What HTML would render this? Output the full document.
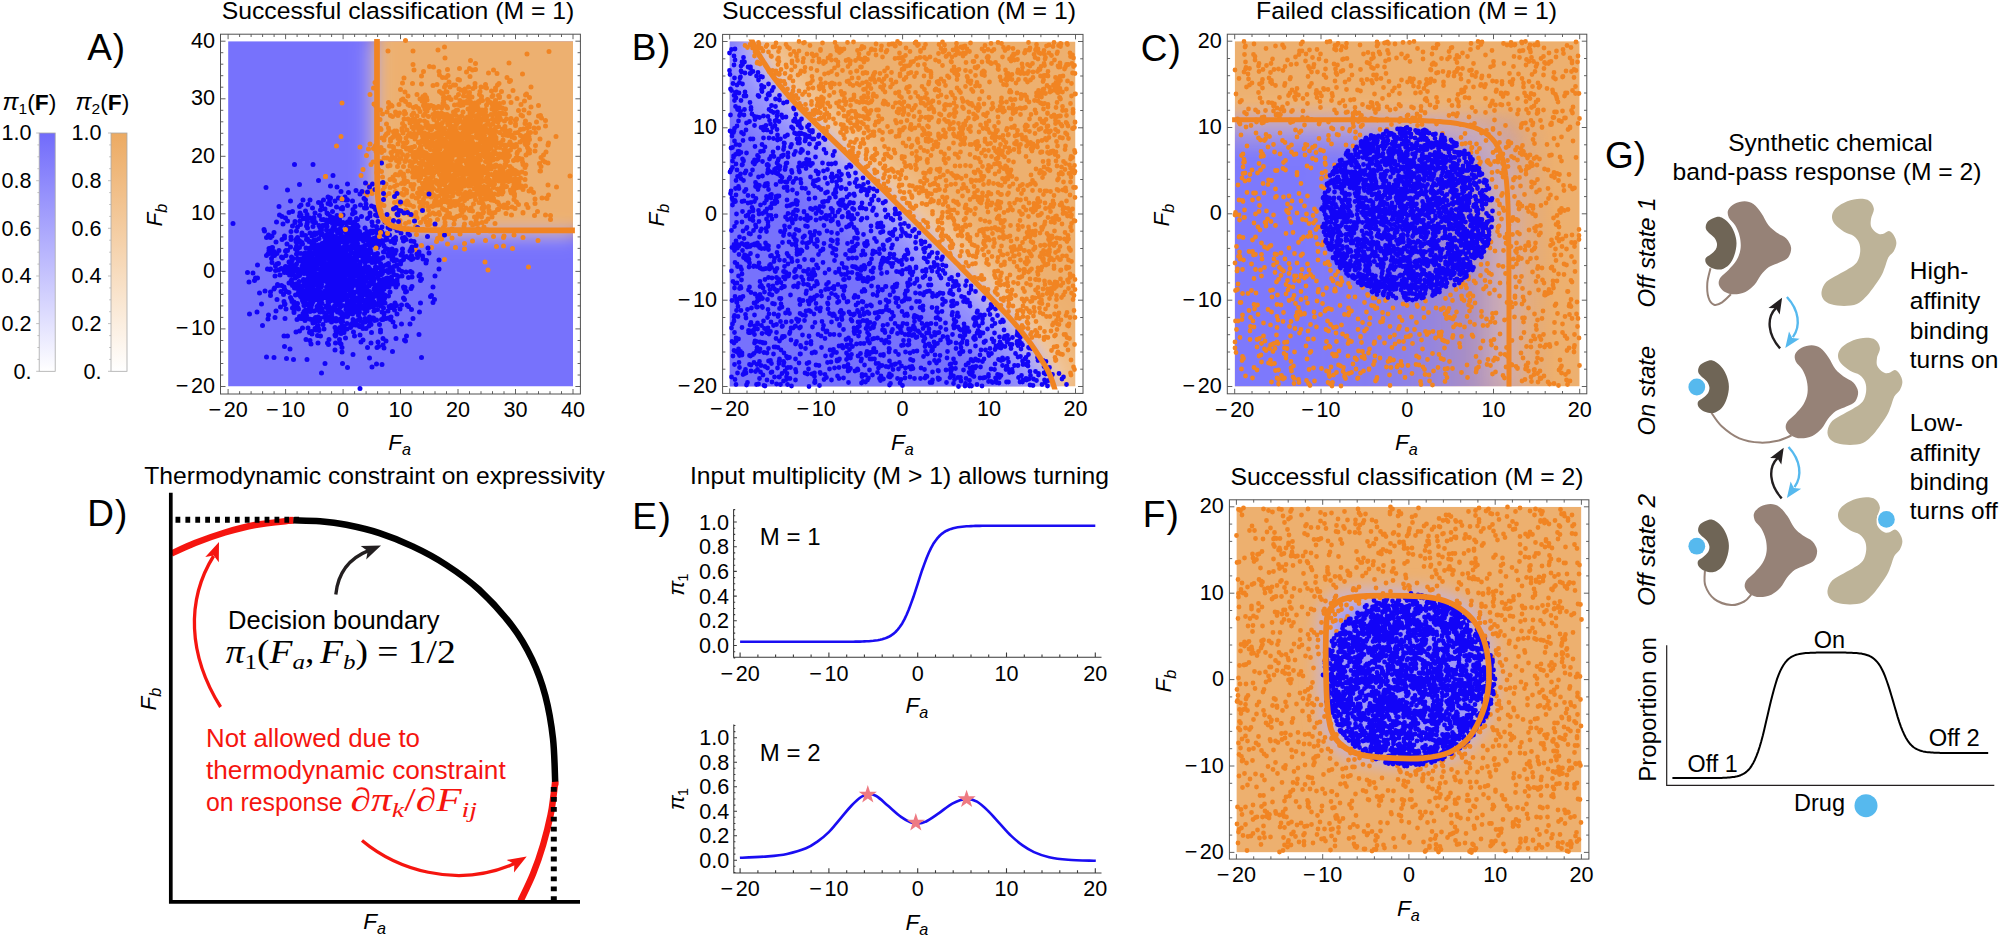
<!DOCTYPE html>
<html lang="en"><head><meta charset="utf-8"><title>Figure</title><style>html,body{margin:0;padding:0;background:#fff;overflow:hidden}svg{display:block}</style></head><body>
<svg width="2000" height="935" viewBox="0 0 2000 935" font-family='"Liberation Sans", sans-serif'><defs><filter id="b3" x="-20%" y="-20%" width="140%" height="140%"><feGaussianBlur stdDeviation="3"/></filter><filter id="b5" x="-20%" y="-20%" width="140%" height="140%"><feGaussianBlur stdDeviation="5"/></filter><filter id="b8" x="-20%" y="-20%" width="140%" height="140%"><feGaussianBlur stdDeviation="8"/></filter><filter id="b12" x="-20%" y="-20%" width="140%" height="140%"><feGaussianBlur stdDeviation="12"/></filter><clipPath id="cA"><rect x="228.1" y="41.2" width="344.9" height="345.3"/></clipPath><linearGradient id="gb" x1="0" y1="0" x2="0" y2="1"><stop offset="0" stop-color="#716bfb"/><stop offset="1" stop-color="#fff"/></linearGradient><linearGradient id="go" x1="0" y1="0" x2="0" y2="1"><stop offset="0" stop-color="#ecaa62"/><stop offset="1" stop-color="#fff"/></linearGradient><clipPath id="cB"><rect x="729.7" y="41.5" width="345.8" height="345"/></clipPath><clipPath id="cBl"><rect x="724.7" y="39.5" width="355.8" height="350"/></clipPath><clipPath id="cC"><rect x="1234.7" y="41.2" width="345" height="345.3"/></clipPath><linearGradient id="gCx" gradientUnits="userSpaceOnUse" x1="1303.7" y1="0" x2="1553.8" y2="0"><stop offset="0.000" stop-color="#ffffff"/><stop offset="0.276" stop-color="#ededed"/><stop offset="0.517" stop-color="#c7c7c7"/><stop offset="0.690" stop-color="#8f8f8f"/><stop offset="0.821" stop-color="#545454"/><stop offset="0.897" stop-color="#1a1a1a"/><stop offset="1.000" stop-color="#000000"/></linearGradient><linearGradient id="gCy" gradientUnits="userSpaceOnUse" x1="0" y1="157.7" x2="0" y2="101.6"><stop offset="0.000" stop-color="#ffffff"/><stop offset="0.385" stop-color="#cccccc"/><stop offset="0.677" stop-color="#6b6b6b"/><stop offset="0.846" stop-color="#1f1f1f"/><stop offset="1.000" stop-color="#000000"/></linearGradient><mask id="mCx" maskUnits="userSpaceOnUse" x="1200" y="0" width="420" height="420"><rect x="1200" y="0" width="420" height="420" fill="url(#gCx)"/></mask><mask id="mCy" maskUnits="userSpaceOnUse" x="1200" y="0" width="420" height="420"><rect x="1200" y="0" width="420" height="420" fill="url(#gCy)"/></mask><clipPath id="cF"><rect x="1236.4" y="506.8" width="345" height="345.6"/></clipPath><path id="sD" d="M1716.5 217C1719 216.4 1720.8 217.1 1722.9 218.2C1725 219.4 1727.4 221.4 1729.3 223.7C1731.2 226 1732.9 228.8 1734.1 232C1735.3 235.3 1736.5 239.1 1736.5 243C1736.6 246.8 1735.7 251.4 1734.4 255C1733.2 258.6 1731.5 262.2 1729.3 264.6C1727.1 267 1724.1 268.8 1721.3 269.4C1718.5 270 1715 269.2 1712.5 268.3C1710 267.4 1707.5 265.5 1706.4 263.8C1705.2 262.1 1704.9 259.7 1705.6 258.2C1706.3 256.6 1708.9 256 1710.5 254.5C1712.2 253 1714.6 251.2 1715.7 249.4C1716.7 247.6 1717.2 245.7 1717 243.8C1716.7 241.8 1715.8 239.7 1714.4 237.8C1713 235.9 1709.9 234.2 1708.5 232.5C1707 230.8 1705.8 229.6 1705.7 227.7C1705.6 225.8 1706.2 223.1 1708 221.3C1709.8 219.5 1714 217.5 1716.5 217Z"/><path id="sM" d="M1744.6 201.2C1747.7 201.3 1750.6 202.1 1753.4 204.1C1756.2 206.1 1758.9 209.8 1761.4 213.3C1763.9 216.7 1765.8 221.8 1768.3 225C1770.8 228.2 1773.7 230.3 1776.6 232.5C1779.6 234.8 1783.9 235.9 1786.3 238.5C1788.7 241 1790.8 244.6 1791.1 247.8C1791.4 250.9 1790.1 255 1788.2 257.4C1786.3 259.8 1783.1 260.6 1779.9 262.2C1776.6 263.8 1772.1 264.9 1768.9 267C1765.8 269.2 1763.3 272.1 1760.9 275C1758.5 278 1757.1 281.9 1754.5 284.7C1751.9 287.5 1748.8 290.3 1745.4 291.9C1741.9 293.5 1737.2 294.4 1733.6 294.3C1730.1 294.2 1726.5 293 1724 291.4C1721.6 289.8 1719.5 287 1718.9 284.7C1718.3 282.3 1718.9 279.9 1720.5 277.5C1722.1 275 1725.8 272.8 1728.5 269.9C1731.2 267 1734.5 263.8 1736.5 260.3C1738.5 256.8 1740 253 1740.5 249.1C1741.1 245.1 1740.6 240.4 1739.7 236.5C1738.9 232.6 1737.1 228.8 1735.3 225.6C1733.4 222.5 1730 220.2 1728.8 217.6C1727.7 215 1727.2 212.4 1728.2 210.1C1729.2 207.8 1731.9 205.3 1734.6 203.8C1737.3 202.3 1741.4 201.2 1744.6 201.2Z"/><path id="sT" d="M1860.1 198.8C1863.8 198.8 1867.1 199.2 1869.4 200.9C1871.7 202.6 1873.6 205.9 1873.9 208.9C1874.2 211.9 1871.4 215.9 1871 218.9C1870.6 221.9 1870.3 224.6 1871.3 226.9C1872.3 229.3 1875.1 231.8 1876.9 233C1878.8 234.2 1880.5 234.4 1882.6 234.1C1884.6 233.8 1887.1 230.9 1889 231.1C1890.8 231.3 1892.6 233.3 1893.8 235.3C1895 237.2 1896.4 240.3 1896.4 243C1896.4 245.6 1895.1 248.9 1893.8 251.3C1892.4 253.7 1889.8 254.8 1888.3 257.4C1886.9 260 1886.2 263.8 1885 267C1883.7 270.2 1883 273.1 1880.9 276.6C1878.9 280.2 1875.6 284.7 1872.9 288.2C1870.3 291.7 1867.6 295.2 1864.9 297.8C1862.2 300.5 1860.4 302.6 1856.9 303.9C1853.4 305.3 1848.3 305.8 1844 305.9C1839.8 305.9 1834.6 305.3 1831.2 304.2C1827.8 303.2 1825.1 301.6 1823.5 299.4C1821.9 297.3 1821.1 294.4 1821.6 291.4C1822.1 288.5 1823.7 284.5 1826.4 281.8C1829.1 279.1 1833.9 277.2 1837.6 275C1841.4 272.9 1845.6 270.8 1848.9 268.6C1852.1 266.5 1855 264.9 1856.9 262.2C1858.8 259.5 1859.7 255.8 1860.1 252.6C1860.5 249.4 1860.2 245.7 1859.1 243C1858.1 240.2 1856.2 237.8 1853.7 235.9C1851.2 234 1847.2 233.7 1844 231.7C1840.9 229.7 1836.7 226.6 1834.7 224C1832.7 221.4 1831.8 218.7 1832 216C1832.2 213.3 1833.5 210.4 1836 208C1838.6 205.5 1843.2 202.8 1847.3 201.2C1851.3 199.7 1856.4 198.9 1860.1 198.8Z"/></defs><text x="398" y="18.8" font-size="24.5" text-anchor="middle" textLength="352.5" lengthAdjust="spacingAndGlyphs">Successful classification (M = 1)</text>
<text x="87.2" y="59.8" font-size="37" letter-spacing="1">A)</text>
<g clip-path="url(#cA)">
<rect x="228.1" y="41.2" width="344.9" height="345.3" fill="#7772fc"/>
<path d="M375 1.2L375 41.1L375 43.6L375 46.1L375 48.7L375 51.2L375 53.7L375 56.3L375 58.8L375 61.3L375 63.9L375 66.4L375 68.9L375 71.5L375 74L375 76.5L375 79.1L375 81.6L375 84.1L375 86.7L375 89.2L375 91.7L375 94.2L375 96.8L375 99.3L375 101.8L375 104.4L375 106.9L375 109.4L375 112L375 114.5L375 117L375 119.6L375 122.1L375 124.6L375 127.2L375 129.7L375 132.2L375 134.8L375 137.3L375 139.8L375 142.3L375 144.9L375 147.4L375 149.9L375 152.5L375 155L375 157.5L375 160L375 162.6L375 165.1L375.1 167.6L375.1 170.1L375.1 172.6L375.1 175.1L375.2 177.6L375.2 180.1L375.2 182.6L375.3 185.1L375.4 187.6L375.4 190L375.5 192.4L375.7 194.9L375.8 197.2L376 199.6L376.2 201.9L376.4 204.2L376.7 206.4L377.1 208.6L377.5 210.7L378 212.7L378.6 214.7L379.3 216.5L380.1 218.3L381 219.9L382 221.4L383.1 222.8L384.4 224.1L385.8 225.2L387.3 226.2L388.9 227.1L390.7 227.9L392.5 228.6L394.5 229.2L396.5 229.7L398.6 230.1L400.8 230.5L403 230.8L405.3 231L407.6 231.3L409.9 231.4L412.3 231.6L414.7 231.7L417.2 231.8L419.6 231.9L422.1 231.9L424.6 232L427 232L429.5 232.1L432 232.1L434.5 232.1L437 232.2L439.6 232.2L442.1 232.2L444.6 232.2L447.1 232.2L449.6 232.2L452.2 232.2L454.7 232.2L457.2 232.2L459.7 232.2L462.3 232.2L464.8 232.2L467.3 232.2L469.8 232.2L472.4 232.2L474.9 232.2L477.4 232.2L479.9 232.2L482.5 232.2L485 232.2L487.5 232.3L490.1 232.3L492.6 232.3L495.1 232.3L497.7 232.3L500.2 232.3L502.7 232.3L505.2 232.3L507.8 232.3L510.3 232.3L512.8 232.3L515.4 232.3L517.9 232.3L520.4 232.3L522.9 232.3L525.5 232.3L528 232.3L530.5 232.3L533.1 232.3L535.6 232.3L538.1 232.3L540.6 232.3L543.2 232.3L545.7 232.3L548.2 232.3L550.8 232.3L553.3 232.3L555.8 232.3L558.4 232.3L560.9 232.3L563.4 232.3L565.9 232.3L568.5 232.3L571 232.3L573.5 232.3L613 232.3L613 1.2Z" fill="#edb06f" filter="url(#b8)"/>
<path d="M377 39.1L377 41.6L377 44.1L377 46.7L377 49.2L377 51.7L377 54.3L377 56.8L377 59.3L377 61.9L377 64.4L377 66.9L377 69.5L377 72L377 74.5L377 77.1L377 79.6L377 82.1L377 84.7L377 87.2L377 89.7L377 92.2L377 94.8L377 97.3L377 99.8L377 102.4L377 104.9L377 107.4L377 110L377 112.5L377 115L377 117.6L377 120.1L377 122.6L377 125.2L377 127.7L377 130.2L377 132.8L377 135.3L377 137.8L377 140.3L377 142.9L377 145.4L377 147.9L377 150.5L377 153L377 155.5L377 158L377 160.6L377 163.1L377.1 165.6L377.1 168.1L377.1 170.6L377.1 173.1L377.2 175.6L377.2 178.1L377.2 180.6L377.3 183.1L377.4 185.6L377.4 188L377.5 190.4L377.7 192.9L377.8 195.2L378 197.6L378.2 199.9L378.4 202.2L378.7 204.4L379.1 206.6L379.5 208.7L380 210.7L380.6 212.7L381.3 214.5L382.1 216.3L383 217.9L384 219.4L385.1 220.8L386.4 222.1L387.8 223.2L389.3 224.2L390.9 225.1L392.7 225.9L394.5 226.6L396.5 227.2L398.5 227.7L400.6 228.1L402.8 228.5L405 228.8L407.3 229L409.6 229.3L411.9 229.4L414.3 229.6L416.7 229.7L419.2 229.8L421.6 229.9L424.1 229.9L426.6 230L429 230L431.5 230.1L434 230.1L436.5 230.1L439 230.2L441.6 230.2L444.1 230.2L446.6 230.2L449.1 230.2L451.6 230.2L454.2 230.2L456.7 230.2L459.2 230.2L461.7 230.2L464.3 230.2L466.8 230.2L469.3 230.2L471.8 230.2L474.4 230.2L476.9 230.2L479.4 230.2L481.9 230.2L484.5 230.2L487 230.2L489.5 230.3L492.1 230.3L494.6 230.3L497.1 230.3L499.7 230.3L502.2 230.3L504.7 230.3L507.2 230.3L509.8 230.3L512.3 230.3L514.8 230.3L517.4 230.3L519.9 230.3L522.4 230.3L524.9 230.3L527.5 230.3L530 230.3L532.5 230.3L535.1 230.3L537.6 230.3L540.1 230.3L542.6 230.3L545.2 230.3L547.7 230.3L550.2 230.3L552.8 230.3L555.3 230.3L557.8 230.3L560.4 230.3L562.9 230.3L565.4 230.3L567.9 230.3L570.5 230.3L573 230.3L575.5 230.3" fill="none" stroke="#fff" stroke-opacity=".22" stroke-width="16" filter="url(#b8)" transform="translate(-4 4)"/>
</g>
<path transform="scale(.5)" d="M975 394h0m25-99h0m-157-143h0m172 264h0m-133-155h0m-41 41h0m64 10h0m-98 21h0m112-6h0m21-103h0m-37 34h0m56 121h0m-65-195h0m25 217h0m-110-149h0m113 37h0m-68-77h0m30 64h0m27-54h0m22 83h0m-140-76h0m7 47h0m95-137h0m59 216h0m-8-143h0m40 55h0m31 22h0m-61 57h0m-39-77h0m-77 145h0m7-8h0m36-158h0m56 173h0m-4-228h0m-16 130h0m-12-40h0m59 14h0m-32-27h0m7 54h0m1 6h0m-65-18h0m-37-89h0m116-7h0m-6-10h0m-48 69h0m-15 42h0m204 113h0m-230-177h0m41-15h0m37 95h0m-108-92h0m96-37h0m128 91h0m-66-73h0m-23 57h0m-3 155h0m-36-96h0m64-5h0m-84-71h0m-21 106h0m40-32h0m61 39h0m-44-70h0m27-8h0m-205-69h0m244 14h0m87 48h0m-76-6h0m-126 10h0m-40 0h0m85-109h0m-96 306h0m130-176h0m-95-37h0m113-62h0m31 169h0m-258-109h0m177-39h0m-76 99h0m-54 111h0m61-118h0m30 64h0m95-140h0m-194 114h0m195-200h0m73 124h0m-107 72h0m-4-23h0m-43 45h0m-88-112h0m130-84h0m-11 130h0m26-87h0m139 142h0m-139-95h0m-23-152h0m86 282h0m-221-200h0m16 4h0m58 232h0m-21-34h0m102-35h0m-77-147h0m156 106h0m-16-20h0m-57-67h0m-88 45h0m76-8h0m15 42h0m-143-110h0m108 144h0m27-186h0m-37 153h0m103 35h0m-28-110h0m-154 15h0m72 185h0m-73-168h0m107 120h0m-109-40h0m135-122h0m-40 125h0m44-93h0m-85 56h0m-99-175h0m244 154h0m-147 82h0m118-6h0m-72-15h0m19-78h0m87 10h0m-113-74h0m81 61h0m-219 3h0m178-15h0m-84 35h0m8-32h0m11-38h0m26 0h0m99 101h0m-266 93h0m144-73h0m-58-82h0m143 210h0m-121-153h0m67-70h0m-65 77h0m81 42h0m26-218h0m-107 28h0m34 125h0m-111-120h0m131 2h0m41 184h0m-107-289h0m127 275h0m-242-52h0m17 64h0m35-89h0m69 105h0m38-99h0m-8-83h0m1 67h0m60 36h0m-90-138h0m-61 186h0m2-142h0m255 97h0m-339-39h0m165 14h0m124-8h0m-74 14h0m-100 56h0m64-17h0m65-76h0m26 41h0m-160 81h0m126-35h0m-38-1h0m64-48h0m22-18h0m-132 7h0m-84 56h0m140-51h0m105 106h0m-83 115h0m-34-215h0m165 122h0m-262-54h0m148 20h0m-112-140h0m47 140h0m3-113h0m108 59h0m-186 56h0m31 26h0m-81-154h0m158 5h0m-71-29h0m66-80h0m-113 118h0m54 0h0m106 31h0m-92-18h0m61 35h0m-8 41h0m-66-219h0m-92 293h0m193-161h0m-62-14h0m62 22h0m-227 85h0m27-59h0m-37 21h0m96 47h0m145-78h0m-36 27h0m-45 11h0m12-93h0m48 132h0m-81-114h0m53 80h0m-19-79h0m-177 28h0m137-13h0m132 92h0m-133-15h0m20 6h0m-36-78h0m10-44h0m122-25h0m-106 120h0m-57-44h0m-159 129h0m193 46h0m-106-103h0m11-15h0m199 67h0m-7 17h0m-199-175h0m210 102h0m-30 66h0m-94-303h0m115 163h0m-179 37h0m32-75h0m-18 109h0m25-178h0m151 237h0m-168-18h0m14-88h0m15 48h0m87-165h0m-40 228h0m91-66h0m-120-73h0m-43-25h0m59-33h0m41 50h0m-74-141h0m92 203h0m117-49h0m-182-52h0m47 89h0m99-1h0m-152 13h0m-15 13h0m-19 37h0m114-43h0m8 75h0m-50-146h0m14 149h0m94-276h0m-31 27h0m-172 45h0m105 100h0m9 29h0m46-137h0m-71 79h0m-32-29h0m14 97h0m-101-135h0m133 141h0m-43-69h0m81 139h0m-114-81h0m45-87h0m-41 72h0m-7-1h0m134-93h0m-88 65h0m68-99h0m-118 277h0m92-226h0m-136 4h0m92 156h0m-2-19h0m83-165h0m-31 148h0m-27-33h0m77-93h0m-49 70h0m26-61h0m17 102h0m-63-89h0m-17-59h0m47 57h0m-57 191h0m61-215h0m55 45h0m-19 73h0m-94-174h0m-68 237h0m93-274h0m-6 190h0m94-167h0m-113 122h0m13 98h0m72-108h0m-92-18h0m24-16h0m142-39h0m-17 148h0m-65-105h0m-28-19h0m-94 77h0m116 50h0m-38 1h0m13-129h0m-56-3h0m38 123h0m-13 38h0m38-195h0m84 212h0m-81-130h0m-153 73h0m52 72h0m-46-142h0m60 24h0m102-124h0m-12-63h0m-76 186h0m66-91h0m-78-2h0m-50 119h0m1 26h0m42-188h0m172 150h0m-209-26h0m196 20h0m6-12h0m-114 36h0m10-102h0m-43-39h0m45 123h0m51 77h0m-49-109h0m75 117h0m14-64h0m-63-142h0m-2-82h0m-29 147h0m31 109h0m-111-140h0m115 229h0m-15-117h0m-81-168h0m228 59h0m-236 161h0m8 21h0m87-190h0m-168 68h0m86 41h0m-55-76h0m42 75h0m63 102h0m35-207h0m59 110h0m-23 27h0m29 25h0m-45-120h0m-80 80h0m120-108h0m-122 67h0m-9-101h0m162 110h0m-56 21h0m-43 99h0m40-66h0m10-137h0m-170-177h0m96 326h0m-82-16h0m98-104h0m-60-11h0m154 87h0m-64-57h0m-100 128h0m60-99h0m-91-91h0m95-55h0m39 136h0m-22 7h0m-166-54h0m121-49h0m64 46h0m-16 94h0m65-84h0m-185-46h0m137 127h0m-89 47h0m64-139h0m16 10h0m21-45h0m-96 66h0m58 56h0m-103-16h0m-18 45h0m149-6h0m-46-30h0m-119-5h0m59-121h0m65 177h0m117-89h0m-39 40h0m-18-157h0m-196 93h0m128 48h0m43-90h0m-6 57h0m2 41h0m-50-152h0m151 62h0m-21-77h0m-119 43h0m-67 29h0m230 49h0m-198 92h0m133-136h0m54 48h0m-217-45h0m94 51h0m-48 52h0m65 23h0m-15-128h0m124-45h0m-103 119h0m-46-56h0m86-70h0m-106 167h0m-7-37h0m198 59h0m-232-174h0m25 69h0m40 55h0m-83 90h0m-80-111h0m240-89h0m-140 97h0m19 10h0m13-80h0m-47 141h0m-7-97h0m94-41h0m170 104h0m-126 4h0m1-82h0m-171 26h0m112 11h0m-88-34h0m148-1h0m-75 87h0m20-20h0m-10-84h0m-37-51h0m-72-17h0m160 166h0m-149-147h0m15 26h0m67 59h0m-31-39h0m74-26h0m57-72h0m-58 214h0m-4-125h0m-13 56h0m63 5h0m-205-102h0m168 25h0m-99 138h0m-23-55h0m94-39h0m-29 124h0m73-172h0m39 71h0m-260-18h0m171-13h0m154-111h0m-82 134h0m44 29h0m-102-157h0m-117 168h0m24 2h0m139 65h0m19-186h0m-129 61h0m36-15h0m40 23h0m-153 22h0m106 49h0m150 0h0m43-91h0m-174 23h0m147-113h0m-179 179h0m-22-20h0m-108 40h0m243-180h0m-101 196h0m205-151h0m-152-50h0m-11 119h0m-151-65h0m251 214h0m-142-131h0m16 96h0m-155-138h0m237 12h0m5 59h0m-121-129h0m53 44h0m23 66h0m43 0h0m-65 71h0m123-96h0m-149-173h0m-28 212h0m11-85h0m-157 73h0m131-101h0m138 27h0m-57 50h0m-82 117h0m89-95h0m-180-129h0m132 108h0m61-65h0m13 83h0m-112 104h0m128-172h0m73 8h0m-174 67h0m88-15h0m-174-50h0m-31 66h0m196-70h0m-43 41h0m11 162h0m-59-166h0m22 34h0m84 18h0m69-93h0m-147 66h0m-109-77h0m222-41h0m-51 71h0m6 127h0m-38-61h0m163-124h0m-171 88h0m33 41h0m-179-54h0m97-44h0m-9 18h0m50-29h0m29 111h0m-83-42h0m188-1h0m-212-18h0m46 156h0m53-140h0m-113 83h0m138-205h0m5-12h0m-71-10h0m167 66h0m-138 97h0m15-109h0m-94 88h0m-55-61h0m80 113h0m23-23h0m-10-79h0m93-99h0m-240 135h0m95-171h0m-52-38h0m240 304h0m-144-95h0m3 70h0m-44-61h0m152 29h0m-100-35h0m48-77h0m-171 2h0m243 51h0m-58 19h0m11-9h0m52 0h0m-108-34h0m2 43h0m67-38h0m-22 137h0m-51-158h0m22-72h0m-42 117h0m93 120h0m17-207h0m-71 126h0m142 200h0m-259-209h0m99-61h0m148 16h0m-162-64h0m-90 46h0m228 38h0m-65 157h0m-132-64h0m150-97h0m-137-38h0m-24 128h0m90-31h0m-25-81h0m-47 179h0m56 2h0m-49-129h0m81-36h0m-6 55h0m58 136h0m-91-174h0m-67 102h0m1-149h0m82 57h0m136-28h0m-53-28h0m-113 88h0m120-102h0m-159-32h0m165 64h0m-106-70h0m87 147h0m-11-116h0m-68 49h0m46 94h0m-106-68h0m75 34h0m88 1h0m-29-121h0m-46 104h0m-84-34h0m157 120h0m-206-118h0m65-79h0m88 26h0m-119 25h0m209 75h0m-34 34h0m-126-66h0m1 94h0m-59-8h0m-6-164h0m141 140h0m13-204h0m-20 242h0m-7-139h0m-63 120h0m70-101h0m-139 91h0m112-81h0m112 15h0m-11 22h0m-136-73h0m9-75h0m131 158h0m31-111h0m-250 61h0m81 8h0m51-167h0m75 328h0m-157-112h0m113 85h0m-72-113h0m204-6h0m-191-43h0m-16-109h0m106 37h0m-28 131h0m-135-69h0m99-90h0m-118 113h0m44-3h0m-41-22h0m-2 151h0m49-52h0m-23-86h0m115-16h0m21 110h0m-79-45h0m-67-15h0m146 2h0m-215-63h0m7 44h0m202-5h0m-5 119h0m24-27h0m-90-103h0m-80 144h0m57-140h0m82 70h0m-101 11h0m4-110h0m-52 100h0m17 14h0m153-14h0m-29-55h0m-124-203h0m7 367h0m39-158h0m85 17h0m-131-90h0m76 99h0m-150 159h0m67-287h0m128 183h0m36-78h0m-156 99h0m29-21h0m120-45h0m-91-102h0m-11 1h0m81 109h0m-25-83h0m70 66h0m-24-37h0m-105-3h0m35-35h0m4 93h0m-98-36h0m29-27h0m148 10h0m-195 67h0m197-190h0m-54 165h0m-32-92h0m51 42h0m-5-77h0m56 257h0m-122-320h0m13 171h0m-2 77h0m163-103h0m-72-160h0m-142 132h0m45 131h0m-29-58h0m55-136h0m16 207h0m158-92h0m-314 8h0m218-185h0m-45 185h0m-87-121h0m42 150h0m-26 10h0m41-137h0m73 29h0m-192 178h0m215-179h0m-128 0h0m143 95h0m-83-63h0m62-4h0m-50 57h0m39 7h0m-78 7h0m-68-30h0m115 80h0m3-97h0m105 109h0m-312-118h0m138 12h0m95 72h0m-176-143h0m78-82h0m179 47h0m-53 203h0m-175-200h0m175 80h0m-18 20h0m-31 41h0m-30-44h0m-11-105h0m-84 63h0m27 73h0m95 19h0m-45-19h0m130-76h0m-166-96h0m-157 220h0m157-79h0m46 29h0m8 27h0m-24-86h0m-67-12h0m176 148h0m-164-28h0m104-168h0m-76 66h0m-69-16h0m199 77h0m-298-9h0m126-63h0m97 72h0m-60 46h0m84-83h0m-64-69h0m-27 146h0m199-157h0m-181 27h0m5 118h0m-71-66h0m26 4h0m106-51h0m-7-3h0m-42 149h0m-53 3h0m105-179h0m-182 69h0m104-23h0m7 6h0m-45-90h0m76 206h0m-63-172h0m-10 143h0m198-116h0m-81-46h0m35 205h0m-87-135h0m69 51h0m-13 1h0m32-25h0m88 83h0m-197-7h0m37-122h0m-23-14h0m-263 106h0m161 67h0m107-283h0m47 91h0m-92 56h0m130 104h0m11-34h0m-129-62h0m140 91h0m25-193h0m-98 110h0m-109-19h0m185 107h0m-123-9h0m-17-9h0m38-80h0m-50 40h0m123 2h0m-23-45h0m34 7h0m-49-95h0m-104 126h0m48 61h0m79-75h0m-98-110h0m253 151h0m-240-45h0m-26 30h0m132-57h0m-31 11h0m-59 80h0m-15-43h0m50-88h0m31-11h0m-6 13h0m-81 4h0m56 89h0m31 3h0m-6-97h0m-292 157h0m167-83h0m8 134h0m42-110h0m31 24h0m56 38h0m-23-134h0m-56 98h0m11-27h0m132-8h0m-180 35h0m69-161h0m96 143h0m-92-51h0m-182 112h0m184-62h0m-58-11h0m21-2h0m88 21h0m-44-54h0m-56-106h0m88 126h0m-35 1h0m-25 19h0m15-219h0m-3 69h0m-45 79h0m-9-11h0m36 105h0m-74-41h0m-23-27h0m194 7h0m-117 72h0m17-5h0m-9-97h0m12 15h0m0 181h0m3-164h0m-66-88h0m132 142h0m-123-66h0m131 127h0m-224-171h0m65 145h0m156 11h0m-87-70h0m-40-200h0m80 222h0m-108 48h0m85-128h0m-174 17h0m134-106h0m-15 218h0m90 24h0m26-95h0m-131-52h0m186 2h0m-167-54h0m-111 192h0m-24-50h0m297-52h0m-123-72h0m-43 27h0m-7 67h0m-27 44h0m186-141h0m-109-5h0m142-132h0m-151 216h0m-163-135h0m242 211h0m-92-49h0m10 10h0m137-16h0m-139 30h0m109-24h0m-89-37h0m-57 30h0m96-83h0m-84 55h0m139-6h0m-21-109h0m-68 86h0m42 12h0m-4 13h0m-64-6h0m89-38h0m-85 102h0m64-145h0m-119-32h0m80 31h0m24 123h0m-91 82h0m28-86h0m-9-44h0m96-50h0m-110 75h0m88 9h0m82-136h0m-88 163h0m-150-129h0m132 12h0m70 166h0m-101-119h0m106 62h0m-37 29h0m-15 67h0m-52-21h0m-19-148h0m20 60h0m24-49h0m35 99h0m-8-55h0m-55-4h0m28 95h0m25 9h0m-153-157h0m65 22h0m-2 81h0m45-62h0m-6-57h0m2-87h0m-47 202h0m117-112h0m-30-111h0m-145 152h0m125-104h0m-86 302h0m215-301h0m-164 109h0m5 139h0m36-198h0m-22-20h0m11-12h0m122 1h0m-100 91h0m46 54h0m22-21h0m-159-32h0m202-33h0m-76 66h0m20-39h0m-138-62h0m128 41h0m-31-147h0m-72 11h0m214 246h0m-130-43h0m-61 55h0m32-11h0m55-127h0m17 114h0m-42 4h0m48-58h0m19-79h0m-205 86h0m57 0h0m-34-95h0m78 33h0m102 1h0m-60-36h0m-128 146h0m57-92h0m100 64h0m-118-124h0m33 15h0m30 139h0m-161-178h0m197 187h0m-33-174h0m17 72h0m-117 80h0m16 19h0m13-61h0m64-21h0m-14 51h0m5-95h0m126 147h0m-37-104h0m-154-1h0m5 140h0m180-163h0m-154 118h0m129 92h0m16-141h0m-162-29h0m20-84h0m27 104h0m-72-147h0m-8 3h0m43 26h0m96-18h0m-99 73h0m18 68h0m-19-90h0m-69-24h0m217 54h0m-291 37h0m128 99h0m92-168h0m-148 24h0m152 124h0m49-105h0m-160-47h0m81 62h0m-100-66h0m122 2h0m-31 167h0m9-88h0m88-59h0m-68-32h0m66-37h0m-54 249h0m-139-139h0m111-58h0m17-38h0m-147-35h0m211 196h0m-96-42h0m23 51h0m-96-140h0m73 161h0m18-188h0m-48 18h0m31 34h0m-167 199h0m264-112h0m-188-107h0m-81 163h0m93-89h0m9-10h0m105-74h0m-111 45h0m91 1h0m-94 53h0m240-33h0m-126 10h0m107-64h0m-225 68h0m127-91h0m-123 205h0m117-218h0m7 103h0m-172-97h0m34 78h0m-2-58h0m-25-48h0m58 154h0m-17-48h0m-37 19h0m117-28h0m34 137h0m-141-109h0m57 6h0m43 40h0m-18-44h0m-36 101h0m115-221h0m3 72h0m-13-108h0m-67 207h0m166 22h0m-19-109h0m-162 147h0m21-142h0m99 69h0m-150-27h0m90-45h0m-26 16h0m-57-136h0m36 92h0m-102 145h0m78-171h0m-110 174h0m324-107h0m-59 100h0m-21-31h0m-70-161h0m53 140h0m21 7h0m-20-6h0m-7-19h0m-139-131h0m101 196h0m-73 5h0m-49-137h0m3 164h0m119-93h0m48-112h0m-184 85h0m236 36h0m-21 17h0m-140 16h0m-6-25h0m29-54h0m80-83h0m-103 21h0m-55 115h0m110 12h0m-183-107h0m167 189h0m77-104h0m-64-8h0m36 59h0m-22-9h0m18-101h0m-45 151h0m-74-56h0m46-20h0m12-54h0m101 109h0m28-185h0m-92 105h0m-89-3h0m2 7h0m41 24h0m120 23h0m-80-160h0m-30 71h0m-54 24h0m125-83h0m-45 128h0m-25-100h0m11 45h0m120 68h0m-140-123h0m140 169h0m-33-161h0m-91 115h0m63-97h0m-76-72h0m-53 61h0m42 87h0m-48-43h0m107 26h0m-38 60h0m42-5h0m20-86h0m-299-37h0m260 173h0m-160-127h0m149-43h0m-79 30h0m74 83h0m96-152h0m-233 168h0m144-139h0m-21-71h0m-137 272h0m193-172h0m-47-4h0m-41 7h0m-16 74h0m24 47h0m-106-114h0m66-30h0m43 89h0m-2 20h0m23-34h0m-73-35h0m120-5h0m-77 13h0m-67-13h0m41 103h0m33 106h0m94-250h0m-28-60h0m-62 212h0m27-56h0m15-72h0m138-49h0m-201 23h0m82-47h0m19 99h0m-127-35h0m87 1h0m-2 62h0m-48-121h0m78 43h0m35-27h0m8 102h0m-100-105h0m29 155h0m164-108h0m-262 224h0m100-119h0m51-130h0m-56 88h0m38-46h0m-37 133h0m45-236h0m40 71h0m-114 46h0m31-32h0m-19 6h0m-26-81h0m29 90h0m-85 125h0m143-90h0m73-115h0m0 53h0m-33 74h0m-170-77h0m189 37h0m-170-37h0m50 163h0m144-51h0m-221-116h0m145 66h0m-42-43h0m-33-119h0m-55 169h0m98-41h0m-67 59h0m115 5h0m13-41h0m-197 102h0m66 49h0m14-258h0m-65 109h0m5-91h0m91 74h0m-22-2h0m-110-38h0m85-4h0m80 143h0m-131-179h0m21 162h0m191-88h0m-21-174h0m-223 184h0m21-118h0m131 149h0m-119-71h0m71 42h0m-15-27h0m77 94h0m-235 5h0m25-93h0m74 140h0m170-53h0m-88-110h0m-118 93h0m167 20h0m16 17h0m-72-93h0m-7 37h0m59-38h0m58 25h0m-80-151h0m29 170h0m-44 113h0m-26-154h0m-40 8h0m89-11h0m-42 130h0m4-202h0m89 86h0m-34 1h0m29 114h0m-185-153h0m162 40h0m-87-105h0m-17 131h0m-3 61h0m156-101h0m-29 77h0m-117-98h0m-32 111h0m87-71h0m-36 7h0m161-14h0m-237 35h0m-27 22h0m119-55h0m20 38h0m9-54h0m48 32h0m100 145h0m-184-161h0m-15-107h0m-92 80h0m152-22h0m46 11h0m-84 68h0m109 64h0m-87-158h0m112-18h0m-89 36h0m-106 10h0m32 2h0m-68 31h0m-15-22h0m152 20h0m45-24h0m83 94h0m-153-23h0m-14-88h0m-66 66h0m159 153h0m-45-187h0m-75 177h0m98-308h0m-10 88h0m-185 3h0m199 98h0m-46 34h0m-40-67h0m-2-17h0m164 58h0m-16-68h0m22-39h0m-226 6h0m38 120h0m118 82h0m-160-158h0m37 48h0m-83-81h0m278-87h0m-60 0h0m-46 99h0m-18-60h0m-48-39h0m1 116h0m77-16h0m-101-42h0m147 64h0m-130 34h0m-29 18h0m165-55h0m-110 46h0m53-104h0m-73 83h0m-139-131h0m212 18h0m-144 178h0m184-168h0m-199 108h0m-24-129h0m165 62h0m9 40h0m-25-52h0m-100 89h0m160-64h0m-179-4h0m76 39h0m-24-39h0m31 100h0m93-113h0m-113 128h0m91-133h0m10 11h0m-182-17h0m41 92h0m59-260h0m-16 236h0m69-28h0m-170 66h0m201-158h0m2 137h0m-69-106h0m-93 140h0m106-91h0m-41 50h0m83-95h0m-49 89h0m62 41h0m-89-95h0m143 119h0m-285-18h0m98-124h0m115 190h0m-152-190h0m170 84h0m-148 37h0m99-84h0m-76-28h0m36 88h0m47-30h0m-22-70h0m-21 3h0m193 58h0m-163 52h0m-74 13h0m144-26h0m-8-92h0m30 8h0m43 19h0m-207-78h0m152 122h0m6 5h0m-87 1h0m19-165h0m-246 285h0m184-169h0m179-11h0m-271 27h0m95-163h0m62 83h0m22 29h0m80 120h0m-257-100h0m137 62h0m62-30h0m-165-11h0m96 49h0m146-80h0m-43-72h0m-59 43h0m-239 58h0m188 154h0m40-216h0m-53 1h0m18 90h0m-11-61h0m-57 105h0m92-115h0m-43 135h0m1-12h0m17-67h0m65 105h0m-41-104h0m-109-38h0m81 132h0m46-160h0m-71 106h0m123-79h0m-29 24h0m-134 47h0m100 5h0m126 85h0m-32-73h0m-123 6h0m72-173h0m-119 45h0m-59 170h0m152-154h0m-23 41h0m20 43h0m-41-60h0m27-24h0m-64 97h0m75-21h0m28-31h0m-68 82h0m66-84h0m-196 19h0m75 43h0m169 11h0m24-81h0m-115-41h0m-26 39h0m-89 84h0m124-114h0m31 41h0m-171-30h0m155-41h0m-5 147h0m-4-54h0m-119 33h0m126 19h0m-154-204h0m226 75h0m-102 193h0m-99-156h0m190 70h0m-14-121h0m-137 75h0m217 19h0m-244-23h0m100-17h0m66 25h0m-262 18h0m248-6h0m-81-46h0m4 116h0m-80-80h0m107 9h0m-110 26h0m11-87h0m39 144h0m-59-66h0m213 35h0m-220-100h0m43 72h0m33-36h0m25-24h0m59 140h0m2-145h0m-85 85h0m-6-35h0m32-10h0m60-65h0m-10 5h0m-92-73h0m-117 112h0m319 47h0m-90 2h0m-53-82h0m6-68h0m-65 90h0m-37 65h0m51-60h0m8 1h0m-30 16h0m-63 55h0m87 127h0m67-142h0m-81-113h0m39 60h0m-159 172h0m142-157h0m6 131h0m-84-272h0m-38 127h0m163 99h0m-93-142h0m98 112h0m-69-95h0m80 38h0m-73 86h0m-89-131h0m108 142h0m-19-190h0m75 91h0m-84 77h0m5 56h0m95-244h0m23 12h0m-31 192h0m21-206h0m-44 105h0m24 28h0m8-10h0m-36 13h0m-26-121h0m6 91h0m172 142h0m-182-279h0m-19 85h0m-9 140h0m25-52h0m21 39h0m-104-67h0m-65-25h0m173 11h0m-144 59h0m141 15h0m-9-117h0m77 67h0m39-167h0m-99 217h0m-70-113h0m-47 53h0m29 57h0m63-151h0m-160 88h0m163 72h0m-7-40h0m50-95h0m-74 159h0m33-185h0m-63 49h0m20 69h0m-99-116h0m144-28h0m108 81h0m-105 31h0m15-119h0m-102 25h0m183 172h0m-167-51h0m119 0h0m-52 14h0m-81 77h0m150-170h0m-76 58h0m12-1h0m21-93h0m-36 140h0m-27-36h0m64-24h0m-66 51h0m35-23h0m-55-63h0m-63 56h0m62-96h0m14 148h0m38-67h0m89 116h0m-218-94h0m138 42h0m-177-147h0m88 44h0m41 17h0m-133-96h0m30 29h0m153 52h0m-6 100h0m-14 54h0m-53-101h0m225 23h0m-176 21h0m-53-25h0m193 97h0m-81-225h0m-75 189h0m119-34h0m-79-89h0m37 157h0m-31-182h0m-96-1h0m152 89h0m-61 55h0m-89-43h0m18 99h0m131-232h0m-101 95h0m32 57h0m46 12h0m-40-106h0m-125-67h0m164 199h0m23-50h0m-6 85h0m57-175h0m-95 38h0m31-151h0m62 171h0m-143 22h0m154 20h0m0-112h0m-72 178h0m80-171h0m-75 36h0m-131 54h0m153 29h0m-62-141h0m7-58h0m-20 166h0m92-70h0m-62-87h0m-94 170h0m89-27h0m19 70h0m-111-77h0m22-5h0m4 24h0m-17 23h0m73 61h0m51-17h0m66-27h0m-53-116h0m-13 83h0m9 24h0m15-108h0m-130 6h0m81 95h0m-28-9h0m-34-93h0m-25 22h0m-4 86h0m18-77h0m-73 19h0m133-82h0m-41 143h0m9-127h0m18 33h0m29 104h0m-100-149h0m37 10h0m-114 161h0m-46-238h0m21 226h0m264-16h0m-255-44h0m174-79h0m76 14h0m-146 49h0m158-106h0m17 70h0m-69-72h0m108-104h0m-132 191h0m-103 201h0m95-154h0m-73 45h0m-65-85h0m2 0h0m272 96h0m-216-5h0m39-65h0m-48-5h0m60 176h0m-28-261h0m-13 69h0m-61 3h0m-15-23h0m51 97h0m78-71h0m136-80h0m-78-3h0m59 45h0m-102 54h0m-43 40h0m-94-157h0m101 58h0m-163 70h0m140 129h0m146-96h0m-98 78h0m60-234h0m-114 78h0m-76 69h0m69-35h0m6-212h0m121 102h0m59 189h0m-206-89h0m29 81h0m16 37h0m-15-141h0m-68-166h0m101 63h0m21 113h0m2 31h0m-121-43h0m83-62h0m-124 186h0m202 30h0m-147-279h0m57 119h0m-14-99h0m-10 102h0m-36-92h0m-54 156h0m266-83h0m-112-79h0m1 40h0m139 110h0m-167-101h0m50 117h0m-41 57h0m89-146h0m-52-66h0m-14 41h0m-44 158h0m41-159h0m67 14h0m-246 86h0m148 152h0m-22-263h0m9 9h0m-127 30h0m205 167h0m-119-18h0m47-188h0m-21 16h0m-89 23h0m93 56h0m-106-49h0m68 71h0m48-17h0m24 41h0m4-84h0m-15 51h0m173-104h0m-129 18h0m-126 115h0m46-200h0m-3 224h0m36-119h0m-32-48h0m-19-15h0m190 264h0m-122-243h0m-29-16h0m7-17h0m2 277h0m123-117h0m-70-44h0m49 27h0m-322-136h0m262 153h0m55-144h0m70 50h0m-148 153h0m-132-35h0m175-39h0m-90-43h0m-91-68h0m89 89h0m127-83h0m11 188h0m-36 113h0m-134-206h0m270-61h0m-280 62h0m83 50h0m-103-109h0m209-115h0m-66 155h0m34 47h0m-61 9h0m-12-213h0m19 152h0m-157-50h0m219-46h0m-6 11h0m-99 152h0m28-143h0m24 9h0m97 27h0m-87-40h0m-29 120h0m-42-37h0m-76 34h0m69-98h0m51 108h0m-25-80h0m25 113h0m51-74h0m-23 18h0m-12-18h0m29-19h0m-36 24h0m-17 3h0m38 140h0m-166-241h0m226 131h0m-193-28h0m161 44h0m-62-139h0m83 145h0m-81-107h0m-75-52h0m153-35h0m-67 35h0m-5 43h0m-3 138h0m70-189h0m-14 8h0m-44 26h0m-135 3h0m87 55h0m38 45h0m128-121h0m-107-15h0m-36 175h0m98-148h0m-99 51h0m6-49h0m14 47h0m-125-64h0m186 7h0m-40 10h0m-54 172h0m-65-167h0m103 58h0m90 89h0m-155-139h0m-32 157h0m112-171h0m-153-60h0m-47 166h0m135-108h0m-19 36h0m32-15h0m-21 151h0m67-148h0m-42 35h0m-29-45h0m11 55h0m83-82h0m24 62h0m-4-31h0m-15-52h0m-303 89h0m174-61h0m52 58h0m39-22h0m-138 79h0m231-98h0m-85-34h0m-70 98h0m59-66h0m-38 28h0m-32 115h0m96-110h0m-73-72h0m-72 135h0m59 97h0m39-149h0m-73 64h0m178-191h0m-179 146h0m216-3h0m-65 47h0m-139-66h0m81 61h0m80 25h0m-104-63h0" fill="none" stroke="#f18422" stroke-width="10" stroke-linecap="round"/>
<path transform="scale(.5)" d="M686 568h0m20-48h0m-38 34h0m-42 49h0m29-114h0m-36 90h0m71-2h0m87 59h0m-124-40h0m-9-97h0m75 154h0m-9-105h0m-17-54h0m-70 74h0m61-41h0m49 92h0m-138-165h0m60 14h0m-98 59h0m42 135h0m-38-48h0m109-138h0m-70-50h0m105 97h0m-8-65h0m-24 126h0m-158-28h0m135-13h0m33-29h0m11 133h0m-112-168h0m72-26h0m-34 168h0m11 14h0m127-116h0m-127 68h0m53 117h0m62-216h0m-99 44h0m32 43h0m15-176h0m-4 134h0m-87 61h0m88-58h0m87 77h0m-197-18h0m163-78h0m-50 63h0m-51-7h0m179-144h0m-84 55h0m-133 4h0m86 19h0m34 3h0m-52-66h0m59 100h0m-50-127h0m49 190h0m53-47h0m-144 76h0m60-70h0m-45-58h0m40-64h0m-89 144h0m41-46h0m26 25h0m74 26h0m17 31h0m-168-85h0m36 121h0m98-125h0m-179 6h0m104 46h0m25 24h0m91 26h0m-38-221h0m-69 218h0m-3-197h0m8 65h0m120 66h0m-132 53h0m9-149h0m44-47h0m-32 181h0m-5-43h0m-62-92h0m74 49h0m-29-113h0m109 175h0m-35-76h0m-46 122h0m47-228h0m-68 192h0m94 101h0m-71-142h0m40 1h0m-127-139h0m111 153h0m-138-22h0m-24-41h0m117-68h0m-40 112h0m72-75h0m141 36h0m-208 55h0m14-25h0m56 3h0m20 64h0m-46-145h0m-2 177h0m62-174h0m-13 15h0m-105 71h0m65 46h0m8-37h0m-74-47h0m89-19h0m-76 31h0m124-48h0m-53 106h0m-7-54h0m-46 122h0m32-158h0m-127 41h0m58 39h0m102-107h0m-169 32h0m202 238h0m-176-194h0m169 102h0m-108-172h0m110-96h0m-44 204h0m-113-40h0m189 22h0m13-41h0m-102-20h0m-14-44h0m7 155h0m-55-174h0m141 170h0m-112-82h0m34-60h0m-51 30h0m12 113h0m-45-17h0m172-16h0m-95-28h0m76-81h0m-65 166h0m-48-120h0m25-10h0m-16 4h0m39 6h0m-26-71h0m5 70h0m-73-25h0m38 20h0m167-84h0m-157 251h0m-26-216h0m94 105h0m73 1h0m-194 47h0m84 61h0m-29-101h0m-76 20h0m169-80h0m-51 134h0m6-197h0m-56 78h0m82 36h0m-67 31h0m26 5h0m-65 24h0m-7-40h0m173-38h0m-125 13h0m54 84h0m-22-78h0m-28 42h0m-4-71h0m77-116h0m-63 84h0m10 64h0m12 89h0m78-14h0m-34 18h0m-20-163h0m-64 101h0m-56-56h0m159 46h0m1-48h0m-75-89h0m46 141h0m16-23h0m4 32h0m6-115h0m-94 129h0m134 8h0m-187 17h0m143 1h0m-25-127h0m25-143h0m69 242h0m-27-132h0m-179 48h0m-36 92h0m170-56h0m-125-3h0m68 31h0m58-178h0m-168 260h0m-32-155h0m161 3h0m-15 62h0m-20-49h0m20-50h0m-61 49h0m-45-18h0m92-18h0m-55 185h0m-45-239h0m145-54h0m-38 88h0m32-2h0m-95 164h0m22-87h0m-23 47h0m8-15h0m73-106h0m-66 120h0m77-45h0m-1 120h0m115-118h0m-232-17h0m154 54h0m-66 1h0m5-177h0m-97 210h0m67-11h0m82-16h0m-56-137h0m11-61h0m-26 120h0m98 72h0m-79-20h0m-148-102h0m102 135h0m-86-161h0m-87 3h0m184 91h0m127-39h0m-88-7h0m-82-55h0m15 177h0m141-151h0m-66 105h0m-8 27h0m-6-59h0m6 21h0m52 53h0m-17 41h0m-23-44h0m-86-163h0m106-34h0m-81 89h0m120-37h0m-160 116h0m77-30h0m9-24h0m-90 92h0m207-6h0m-18-74h0m-130 29h0m83 50h0m-26-98h0m-203 44h0m194-88h0m-21 70h0m10 20h0m-79-29h0m55 20h0m6 34h0m93-18h0m-58-78h0m-23 7h0m104-44h0m-142 203h0m12-89h0m-97 2h0m230-40h0m-41 43h0m-4 4h0m-16-88h0m-38 41h0m7 91h0m-32-170h0m3 23h0m18 107h0m99-96h0m-65 107h0m-42-127h0m-35 92h0m-4 39h0m152-29h0m-74 27h0m-30-65h0m-28 1h0m-52 9h0m71 41h0m-22-45h0m11 136h0m0-146h0m23-60h0m-116 58h0m92 45h0m-42-14h0m118-3h0m-112 28h0m91 2h0m65 24h0m-125-144h0m-20 82h0m54-66h0m-13 82h0m-67-22h0m98 16h0m106-43h0m-154-24h0m3 40h0m-57 62h0m93 7h0m-106-166h0m9 132h0m162 1h0m-148-120h0m134 26h0m31 38h0m-86 63h0m20-187h0m95 133h0m-146-10h0m-27 48h0m-52 85h0m95-6h0m97-118h0m-35 1h0m-129 43h0m6 63h0m24 19h0m54-76h0m-34 77h0m29-160h0m5-17h0m-40-114h0m17 132h0m17 100h0m-20 19h0m40 175h0m93-194h0m-87-28h0m-36-78h0m-118 24h0m140 2h0m-158 25h0m37-30h0m153-54h0m-10 171h0m-58-41h0m-106 63h0m91-204h0m-21 22h0m89 37h0m110 132h0m-138-93h0m-68 28h0m-26-22h0m75 19h0m-8-49h0m-66 63h0m86-85h0m-86 41h0m154 37h0m-4-13h0m2 23h0m-106-85h0m67 73h0m-44-38h0m-17 46h0m3 75h0m-65-163h0m-10 134h0m152-118h0m-67 17h0m28 141h0m53-48h0m-185-29h0m64 21h0m65 24h0m15-130h0m-52 66h0m95-42h0m-56 55h0m-96-50h0m19 72h0m118-49h0m-23-42h0m-161 37h0m221 34h0m-51 43h0m50-86h0m-117-12h0m6 41h0m-56 35h0m248-89h0m-184-132h0m120 189h0m-152-43h0m55-3h0m-124 200h0m87-183h0m93 57h0m-152-142h0m158 111h0m-50 36h0m-94-38h0m37-27h0m3 50h0m28-35h0m-33 89h0m-20-77h0m35-68h0m-49-81h0m-17 86h0m84 29h0m63-62h0m-164 12h0m104-44h0m-44 39h0m-22 82h0m124-26h0m-93 6h0m137-9h0m-155 7h0m79 67h0m-41 90h0m-36-98h0m91 92h0m-50-142h0m51 4h0m-44 115h0m-71-161h0m67-12h0m11 52h0m61-106h0m-126-14h0m58 209h0m-114-153h0m161 41h0m-117 1h0m-49-35h0m118 113h0m79-9h0m-178 16h0m29-5h0m24-45h0m-26 92h0m102-27h0m-81-110h0m6 44h0m89-31h0m-91 154h0m80-75h0m-95-15h0m-16-40h0m-42 42h0m250-104h0m-148 68h0m39-5h0m-19 0h0m13-47h0m-7 80h0m126-108h0m-200 45h0m-36 20h0m37 8h0m-21-33h0m141-33h0m5 5h0m-121 38h0m-29-34h0m70 52h0m118-77h0m-285 87h0m227 139h0m-109-232h0m144 83h0m-144 87h0m54-66h0m-83 47h0m36-203h0m160 109h0m-38 140h0m-83-143h0m-32 64h0m-69-157h0m101 201h0m25 81h0m-4-157h0m0 28h0m-70 5h0m72 117h0m2-174h0m90-85h0m39 243h0m-136-209h0m-43 118h0m48-198h0m-37 130h0m-9 43h0m46-88h0m-67 39h0m112 76h0m-48-88h0m24 82h0m-29 87h0m-37-259h0m-15 162h0m48 17h0m-21-64h0m53 129h0m-16-14h0m-92-58h0m97 1h0m-96-40h0m49-71h0m22 108h0m-121-66h0m147-7h0m4 114h0m-21-89h0m-18 80h0m4-136h0m-41 41h0m48 30h0m-19 92h0m43-99h0m-88 60h0m98-100h0m-6 56h0m-19 47h0m-21-118h0m68 14h0m-151 89h0m144-119h0m-14 99h0m2 1h0m7-30h0m-70 60h0m27-21h0m60-19h0m-14-115h0m-15 2h0m-117 119h0m140-127h0m42 113h0m-10-29h0m-53-34h0m-122 40h0m170-144h0m-74 147h0m-162 98h0m198-170h0m-127 117h0m13-8h0m45 183h0m129-271h0m-111 12h0m44 2h0m100-13h0m-11-48h0m-115 118h0m-9-67h0m-69 114h0m38-26h0m76-96h0m-2 45h0m-19 117h0m60-115h0m-120 37h0m48 43h0m54-85h0m-10 57h0m33 79h0m-46-31h0m-48-195h0m46 223h0m-93-118h0m-43-27h0m151-2h0m-44 127h0m25-61h0m-136-32h0m90-45h0m-16 99h0m-17 35h0m-95-147h0m130-7h0m84 50h0m-35 66h0m-67-69h0m40 20h0m52-49h0m-238 142h0m179-93h0m45 19h0m9 64h0m69-90h0m-38 12h0m-56 31h0m0-55h0m33 123h0m-90-93h0m33-32h0m65 10h0m71-54h0m-144 154h0m8 21h0m17-118h0m77-15h0m-93-113h0m102 102h0m-165 101h0m53-114h0m-1 112h0m66 44h0m18-278h0m-173 155h0m40-27h0m85 11h0m-68-85h0m-58 104h0m174-64h0m-37 153h0m0 24h0m-66-191h0m102-3h0m-86 65h0m91 19h0m-137 5h0m4 58h0m72-152h0m-62 60h0m94 10h0m-28 9h0m-80-45h0m67 37h0m-29-17h0m86 130h0m-105-114h0m13-114h0m112 184h0m70-26h0m-16-70h0m-132-4h0m11 22h0m89 153h0m-112-144h0m-58 114h0m74-24h0m23-93h0m-87 57h0m-56-75h0m15-159h0m142 161h0m-96 4h0m42 110h0m24-18h0m27 29h0m-65-36h0m57 38h0m-94-29h0m36-31h0m-45 54h0m146 28h0m-79-4h0m-48-123h0m26 27h0m9-66h0m63-1h0m-156 94h0m38-69h0m44 144h0m198-253h0m-107 74h0m-72 95h0m55 65h0m92-105h0m-156 153h0m-9-74h0m107-104h0m-48 46h0m12 38h0m-80-98h0m165 135h0m-15-90h0m-77 54h0m8 23h0m-184-89h0m180 99h0m-56-196h0m43 169h0m16-175h0m-69 209h0m-92-115h0m140 122h0m-75 10h0m28-102h0m-19-35h0m18 132h0m-134-167h0m240 135h0m-66-63h0m59-17h0m58-15h0m-132 163h0m-124-232h0m62 72h0m-22 67h0m48 40h0m40 46h0m-142-23h0m159-129h0m-125 60h0m122 54h0m-27-41h0m-14-142h0m16 128h0m-31 17h0m-5-131h0m-73 60h0m112 29h0m127 44h0m9 64h0m-44-26h0m-42-47h0m-94-17h0m144-39h0m-102-14h0m-1 23h0m-15 0h0m26 83h0m-35 78h0m23-111h0m-67 30h0m48-21h0m180-26h0m-160 66h0m-11-9h0m52-68h0m12-15h0m-123 52h0m61-78h0m76 49h0m-44 54h0m-10-72h0m98-125h0m-152 174h0m52-125h0m-41-15h0m136-8h0m-233 158h0m87-193h0m9 129h0m81 25h0m-4-2h0m54-56h0m-202 37h0m158 16h0m-71-99h0m-25 136h0m82 22h0m-99-125h0m-79 6h0m116-26h0m-76 147h0m57-147h0m69 41h0m-4-87h0m87 205h0m-121-100h0m-91 34h0m53 89h0m-11-60h0m-20-125h0m112 109h0m-74 17h0m-90-108h0m181-8h0m-54 0h0m31 120h0m-17-49h0m36-74h0m-40 114h0m81 7h0m-55-107h0m-2-50h0m1 184h0m-127 98h0m88-78h0m-6-29h0m31-60h0m-106-51h0m203 52h0m-104 37h0m-89-58h0m-34 76h0m97-62h0m13 40h0m-43-225h0m55 126h0m-49 113h0m81 11h0m-87-38h0m47 82h0m69-63h0m108 1h0m-243-110h0m37 89h0m-26 24h0m110 38h0m-131-11h0m45-76h0m31 10h0m-64-91h0m1 120h0m33-115h0m-110 54h0m44 18h0m70 136h0m38-49h0m-22-138h0m-108-44h0m89 81h0m85-38h0m-16 79h0m-43-2h0m-55 20h0m103-111h0m-82 43h0m-40 39h0m25 6h0m152-60h0m-83 16h0m64 78h0m-111-173h0m96 99h0m-105 17h0m30-100h0m180 31h0m-117 76h0m-86-43h0m28 109h0m28-29h0m60 110h0m-115-236h0m-85 212h0m99-175h0m20 102h0m7 10h0m81-53h0m-67-31h0m33-24h0m-130-79h0m134 96h0m83-35h0m-89 100h0m-36-89h0m-6 38h0m110 42h0m-184-25h0m56-2h0m38-17h0m20-14h0m-81 61h0m51 16h0m-40-101h0m27 166h0m-17-73h0m-68-148h0m76 290h0m61-137h0m-125-94h0m49 159h0m61-289h0m-117 353h0m85-274h0m-85-8h0m149 44h0m80 77h0m-20-39h0m-152 85h0m65-116h0m-42 131h0m-1-58h0m98-86h0m-194 143h0m161-50h0m-75-36h0m99 102h0m-83-170h0m-58 56h0m64 126h0m31-100h0m-47 49h0m30-8h0m-68-49h0m-110 53h0m206-114h0m-13 114h0m-38-115h0m-5 70h0m65-61h0m-101 95h0m-17-3h0m35 44h0m94-117h0m-175-25h0m175-80h0m-124 56h0m-32 71h0m161 31h0m-92-41h0m-82 29h0m64-102h0m87 36h0m18 121h0m-110-11h0m57-139h0m21 72h0m-93 37h0m68-97h0m-26 107h0m-34-7h0m3 12h0m38 102h0m-3-192h0m-40 141h0m9-44h0m105 12h0m-61-100h0m45 54h0m22-5h0m-42 115h0m114-108h0m-210 94h0m111-121h0m-76-4h0m147 26h0m-11-140h0m-247 103h0m66-5h0m111 31h0m9 23h0m-4-79h0m-55-9h0m36 163h0m13-160h0m-49 37h0m75-30h0m-223 33h0m196 116h0m-113-5h0m135-203h0m-80 107h0m-45 113h0m85-120h0m-87 48h0m0 101h0m-44 30h0m104-46h0m36-128h0m36 22h0m-79 14h0m80-37h0m-70-21h0m-7 184h0m45-123h0m33 36h0m-95 28h0m7-47h0m5-29h0m17 10h0m-67 81h0m131-66h0m-97-170h0m59 208h0m-88 43h0m80-133h0m3-22h0m-55 9h0m165 108h0m-112-144h0m96 121h0m-56 24h0m-110-36h0m19-34h0m56-56h0m-26 6h0m-1 44h0m-22-65h0m-104 58h0m108-55h0m-135 156h0m175 12h0m-74-160h0m1 147h0m33-74h0m34-14h0m-116 27h0m-21-2h0m46-126h0m-66 267h0m73-232h0m173-96h0m-180 154h0m116 3h0m-137-51h0m113-74h0m-42 204h0m18-86h0m43 18h0m80-50h0m-106 27h0m-4-34h0m-75 73h0m106-32h0m-57 49h0m74 0h0m-60-36h0m121 0h0m-252 70h0m114-186h0m80 116h0m-84 85h0m-30-169h0m36 126h0m-75-86h0m101 36h0m158-18h0m-88 5h0m-153 51h0m16-42h0m32-135h0m95 290h0m-124-157h0m9-25h0m107 101h0m-1 22h0m-84-240h0m-51 172h0m-29-166h0m58 104h0m-104 32h0m202-28h0m-94-10h0m76-37h0m94 50h0m-47 20h0m-158-2h0m137-80h0m20 36h0m-129 124h0m-15-25h0m58-66h0m-101 65h0m208-17h0m-263 40h0m88-47h0m57-47h0m3-39h0m26 67h0m8-140h0m-33 146h0m91-222h0m-222 149h0m145 34h0m-48 68h0m57 158h0m6-182h0m-77-22h0m19-119h0m97 224h0m-30-223h0m-70 147h0m184-66h0m19 221h0m-256-182h0m120 33h0m149-70h0m-117 41h0m-38 83h0m-29-142h0m-23 18h0m23 6h0m-23-28h0m88-6h0m-78 76h0m-3 91h0m-51 2h0m78-186h0m-58 44h0m49 41h0m83 36h0m-46-31h0m9 0h0m-10 25h0m-20 24h0m-13-194h0m-12 131h0m73 57h0m-125 47h0m164-39h0m-89-98h0m-53-3h0m18 67h0m-13-19h0m57 25h0m-60 54h0m127-164h0m-131 63h0m-101-142h0m105 219h0m-87-42h0m133-69h0m75 76h0m-28 78h0m-135-30h0m39-71h0m173-17h0m-99 30h0m-22-74h0m72 0h0m95 46h0m-79 20h0m-78 19h0m14-55h0m18-25h0m-83 59h0m-31-27h0m76 53h0m-68 74h0m60-28h0m11-120h0m152 21h0m-217-77h0m50 104h0m-3-55h0m41-31h0m41 22h0m-104 109h0m-23-29h0m-55-21h0m48 76h0m100-99h0m-34-38h0m-72 102h0m44-166h0m27 154h0m32-6h0m-74 2h0m23 32h0m-106-77h0m45 27h0m188-111h0m-258 72h0m125 4h0m38 52h0m-40 81h0m-30-90h0m51 52h0m4-123h0m-5 67h0m-122-115h0m117 63h0m-48-7h0m21 41h0m53 2h0m28-31h0m17-18h0m-95 111h0m97-82h0m17-144h0m-3 184h0m17 11h0m-104 30h0m-2 51h0m68-179h0m-149 77h0m107-17h0m-50-104h0m11-46h0m-93 231h0m58-132h0m59 29h0m61 16h0m7-6h0m-72 34h0m-8-109h0m-43 66h0m83 18h0m-44-61h0m58 24h0m78 29h0m-121 9h0m-99-97h0m43 85h0m-41 41h0m18 52h0m170-35h0m-73 48h0m-119-79h0m147-10h0m42 157h0m-110-141h0m-22-42h0m23 32h0m42 76h0m25-151h0m36 134h0m2 36h0m-1-10h0m12-72h0m-48-68h0m-149-13h0m95 65h0m30 96h0m-47-37h0m88 17h0m-86-49h0m-39 108h0m161-128h0m-53-36h0m-30 54h0m48-42h0m9 95h0m-49 36h0m-190-56h0m121-122h0m15 9h0m-36 101h0m81-113h0m67 104h0m-114-125h0m-44 70h0m215 63h0m-168-84h0m-53 106h0m99 11h0m13 35h0m-77-116h0m102 21h0m-87 2h0m-29 23h0m74-126h0m40 127h0m-95 20h0m66-134h0m-29-12h0m198 74h0m-240 141h0m142-77h0m-97-83h0m-5 41h0m57-105h0m12 199h0m25-139h0m-64 88h0m-63-132h0m5 95h0m71-75h0m5 114h0m55 52h0m-66-21h0m43-34h0m31 28h0m-92-151h0m-112-9h0m21 72h0m-17 89h0m205-62h0m-165 38h0m141-145h0m-44 77h0m76-11h0m-48 60h0m-75 109h0m-6-84h0m19 24h0m6-101h0m-48 18h0m34 61h0m111-28h0m-224-133h0m133 172h0m-79-3h0m74-47h0m44 32h0m-61-18h0m57-65h0m-161-82h0m183 239h0m-116-120h0m83-4h0m-29 8h0m-188 8h0m124 10h0m66-91h0m91 99h0m-86-23h0m-2-8h0m-114-7h0m193 18h0m26-79h0m-121 68h0m-17-12h0m-95 15h0m170 65h0m123-12h0m-134 15h0m37-84h0m-49 61h0m-104 24h0m158-88h0m-175-20h0m70 155h0m33-234h0m41 113h0m-32 9h0m-2-80h0m-78 68h0m-35 46h0m91-190h0m-52 222h0m-41-67h0m3-64h0m53 130h0m-93-65h0m35-33h0m-20-137h0m123 223h0m16-57h0m108-48h0m-237 39h0m55 87h0m108-109h0m-77 20h0m-7-22h0m138-47h0m-139 8h0m-55 41h0m-11 7h0m112 95h0m-2-65h0m-114-24h0m26 42h0m103-34h0m3 63h0m-82-160h0m85-42h0m-3 172h0m-160-53h0m100 43h0m49-102h0m-67 56h0m-106 25h0m126 20h0m70-24h0m56 77h0m-255-114h0m325 94h0m-253-85h0m141 28h0m19-66h0m-17 76h0m-57-71h0m-89 132h0m122-104h0m-91 57h0m-123-28h0m363 8h0m-144-59h0m75 201h0m-185-159h0m162 123h0m8-183h0m-2 216h0m-107-66h0m-80 45h0m69-225h0m-137 199h0m34-95h0m121 44h0m-73 86h0m56-99h0m4-68h0m138 57h0m-43-76h0m-91 88h0m85-25h0m-135 27h0m30-50h0m85-105h0m-146 104h0m65 12h0m-70 55h0m97 9h0m103-151h0m-162 175h0m66-13h0m-76-56h0m-17 23h0m-6-162h0m183 293h0m61-185h0m-127-24h0m-81 125h0m96-32h0m-71-74h0m77-81h0m-34 173h0m-1 45h0m22-173h0m-80-38h0m12 127h0m-90 127h0m87-249h0m-66 112h0m86-90h0m-55 80h0m72 22h0m24 5h0m-127-130h0m41 2h0m-9 243h0m115-82h0m65-184h0m-58 146h0m-82 67h0m124-93h0m-203 8h0m205-1h0m-146 26h0m-144-11h0m368 10h0m-73-54h0m-177 78h0m82-36h0m-26-9h0m21-99h0m-107 63h0m54 33h0m78-44h0m-17 9h0m66-46h0m-75 39h0m153-87h0m-207 30h0m66 95h0m-148 25h0m45-88h0m175 25h0m-154 41h0m100 94h0m-40 24h0m-67-148h0m48-29h0m-12-2h0m2 142h0m84-158h0m-7 107h0m-83-63h0m-22-1h0m80 82h0m-26-14h0m77 101h0m110-79h0m-123 60h0m-59-152h0m-10 26h0m-46-58h0m-3 38h0m-7 67h0m41-67h0m-2 50h0m80-68h0m-78 20h0m14 89h0m-70-67h0m195-4h0m-77 25h0m86-82h0m-67-56h0m47 142h0m-118-1h0m66 128h0m135-143h0m-267 20h0m163 118h0m35-167h0m-86-20h0m23 90h0m35-25h0m-132 40h0m73-117h0m-88 155h0m13-82h0m4-154h0m33 129h0m20-28h0m22 42h0m-130 70h0m236-78h0m-58-30h0m-29 97h0m-76-92h0m19-62h0m44 12h0m-9 180h0m-146-41h0m169 43h0m151-182h0m-331 31h0m197-6h0m-43 107h0m-34 20h0m104-84h0m-178-2h0m93 65h0m91-68h0m-116-34h0m-15 28h0m37 86h0m-39 73h0m139-126h0m-171-28h0m124 28h0m-148 12h0m134 18h0m-54-96h0m-173 52h0m180-12h0m-74 75h0m43-24h0m138-53h0m-185 79h0m4 17h0m175-63h0m-93-104h0m100 69h0m-85-86h0m-84 108h0m57 12h0m90 73h0m-20-55h0m-66-137h0m4 76h0m-12-28h0m-32 2h0m175 48h0m-134 14h0m-80-22h0m46-38h0m84 15h0m-6-3h0m-54 23h0m-37 63h0m48-34h0m-119 46h0m26-132h0m147 211h0m-89-128h0m59-177h0m59 185h0m-40 54h0m-43-76h0m147-89h0m-102 99h0m-72-53h0m76 35h0m-22 32h0m-89-239h0m65 209h0m-16 41h0m-126-3h0m125-59h0m-8-2h0m-10-25h0m-85 43h0m90 107h0m22-133h0m10 57h0m-86-2h0m123 82h0m-129-62h0m70 10h0m106-47h0m-139 97h0m13-103h0m110-5h0m-102 85h0m6-34h0m37 16h0m57-120h0m-226 233h0m95-148h0m-12 90h0m-5-84h0m16-87h0m1 101h0m79-53h0m-83 67h0m71-189h0m19 70h0m-79-15h0m60 167h0m105-15h0m-91-149h0m-67 87h0m40 4h0m-59-40h0m82 108h0m41-138h0m-117 52h0m43-32h0m91 78h0m-111-80h0m47 83h0m-84-113h0m14-12h0m22 15h0m183 27h0m-176-8h0m-8 227h0m-2-241h0m27 75h0m56-25h0m-32 26h0m127 75h0m-125-58h0m83-81h0m-79-51h0m22 138h0m-139 19h0m90-160h0m3 159h0m-11-201h0m-130 137h0m206 64h0m-86-127h0m-4-48h0m13 212h0m2-203h0m43 125h0m-114-120h0m23 127h0m83 81h0m-10-141h0m-35-29h0m-14-80h0m-17 26h0m52 70h0m84 63h0m-152 19h0m175-15h0m-46 36h0m-88-38h0m84 155h0m-152-185h0m-18 14h0m30-176h0m59 122h0m6 84h0m-13-71h0m42 122h0m-152-42h0m179 86h0m-130-225h0m51 58h0m17 120h0m-50-76h0m-15-69h0m25 31h0m67 8h0m41 84h0m-2-15h0m-105-50h0m13-56h0m-8 119h0m93 20h0m-169-154h0m222 141h0m-117-136h0m-20 56h0m76-43h0m47-59h0m-47 72h0m49-6h0m-63 115h0m75-15h0m1-91h0m-92-60h0m105 9h0m-87-63h0m-5 137h0m-68 7h0m43-55h0m72 68h0m-142 5h0m133 67h0m-20-139h0m-5 141h0m-169-108h0m143 131h0m51-171h0m-96 145h0m58-127h0m-167 165h0m207-78h0m-91-110h0m104 134h0m-184-59h0m172 37h0m-63 125h0m71-178h0m-118-9h0m21 105h0m194-114h0m-208 93h0m8 14h0m29-69h0m-50 47h0m150-202h0m36 261h0m-165-155h0m-69-17h0m197 201h0m-5-17h0m-19-155h0m23 70h0m-138-58h0m48-52h0m-83 103h0m-2 47h0m163 113h0m-112-199h0m200 77h0m-150-84h0m-48 5h0m97 110h0m68-211h0m-89 43h0m-115 16h0m107 138h0m68-53h0m-126 10h0m-19-9h0m121 48h0m-59-106h0m-85 14h0m49-9h0m-25 59h0m71-122h0m-12 75h0m70 199h0m-30-143h0m-154-39h0m134-70h0m33 86h0m-30-3h0m39 28h0m-107-90h0m-27 75h0m127 11h0m-135 9h0m-74-88h0m216 74h0m-119 78h0m28-156h0m-74 89h0m5-71h0m12-2h0m54-56h0m49 11h0m-181 110h0m207-28h0m-131 76h0m8-201h0m118 84h0m-51-65h0m-99 116h0m229 118h0m-183-243h0m75 97h0m-3-2h0m82 5h0m-127-40h0m100 8h0m-119 144h0m126-182h0m-128 110h0m28-4h0m153-150h0m-107 55h0m-14 86h0m144 103h0m-127-137h0m-80-26h0m105 42h0m-130 79h0m157-31h0m5 32h0m-121-100h0m-3-41h0m54-14h0m-11 120h0m-67-66h0m105-22h0m-177 73h0m109-25h0m2-154h0m9 130h0m39-46h0m-104 89h0m123-32h0m-52 119h0m-32-114h0m-49-83h0m13-62h0m105 62h0m-90 34h0m69 43h0m68 45h0m-2-30h0m36-53h0m-126 95h0m-53-117h0m142 131h0m-48 54h0m55-52h0m-75 44h0m80-20h0m-23-170h0m-9 90h0m-15-28h0m-7-64h0m-11-7h0m-1 120h0m52-124h0m-102 64h0m153 26h0m-125-30h0m74 127h0m-73-44h0m-11-46h0m155-49h0m-159 67h0m-66-17h0m39-74h0m27-30h0m167 44h0m-132-34h0m50 113h0m-132-6h0m92-43h0m22 42h0m76 14h0m-169-146h0m88 125h0m-20 52h0m-90-98h0m68-92h0m-17 119h0m-140-78h0m199 114h0m-4 3h0m-67 14h0m-61-37h0m192-135h0m-83 203h0m51-189h0m27 179h0m-131-52h0m90-73h0m-71 14h0m12 24h0m-2 131h0m6-137h0m76 94h0m-67-244h0m-19 189h0m-9-27h0m42 91h0m-84-46h0m27 55h0m31-154h0m-35 85h0m30-56h0m-33 84h0m177-12h0m-46-122h0m-59 154h0m-35 56h0m153-150h0m-127 105h0m-28-47h0m27-92h0m0 117h0m75-115h0m-97 106h0m144-147h0m-203 11h0m107 122h0m-115-18h0m191 42h0m-145-70h0m18-64h0m67 176h0m22-161h0m-160 153h0m52-32h0m-71 63h0m103-264h0m-16 139h0m-17-13h0m-22 63h0m20-119h0m-24 216h0m86-145h0m67-148h0m-234 176h0m123-27h0m-20-45h0m62 101h0m-98-57h0m54-63h0m-60 52h0m117-12h0m-40 49h0m-18-46h0m36 18h0m-42-95h0m-88 50h0m146 65h0m-21 150h0m-30-215h0m77-2h0m16 113h0m-157 74h0m21-59h0m158-140h0m-9 135h0m-146-41h0m-30-46h0m37-68h0m9 84h0m-73 6h0m109 30h0m-89-148h0m5 38h0m144 79h0m-108 89h0m41-42h0m48-93h0m12 89h0m-78-110h0m26 36h0m-59 5h0m175-25h0m-75 11h0m-119 92h0m75-36h0m49-181h0m-16 241h0m91-50h0m-31-105h0m-129 84h0m30 44h0m-81 35h0m104-127h0m-7-32h0m174-26h0m-177 91h0m-149-67h0m97 141h0m53-82h0m-93 58h0m26-58h0" fill="none" stroke="#1204f7" stroke-width="10" stroke-linecap="round"/>
<path transform="scale(.5)" d="M682 431h0m70 65h0m-101-143h0m33 45h0m75 75h0m16-6h0m-84-8h0m70 6h0" fill="none" stroke="#f18422" stroke-width="10" stroke-linecap="round"/>
<path d="M377 39.1L377 41L377 42.9L377 44.8L377 46.7L377 48.6L377 50.5L377 52.4L377 54.3L377 56.2L377 58.1L377 60L377 61.9L377 63.8L377 65.7L377 67.6L377 69.5L377 71.4L377 73.3L377 75.2L377 77.1L377 79L377 80.9L377 82.8L377 84.7L377 86.5L377 88.4L377 90.3L377 92.2L377 94.1L377 96L377 97.9L377 99.8L377 101.7L377 103.6L377 105.5L377 107.4L377 109.3L377 111.2L377 113.1L377 115L377 116.9L377 118.8L377 120.7L377 122.6L377 124.5L377 126.4L377 128.3L377 130.2L377 132.1L377 134L377 135.9L377 137.8L377 139.7L377 141.6L377 143.5L377 145.4L377 147.3L377 149.2L377 151.1L377 153L377 154.9L377 156.8L377 158.7L377 160.6L377 162.5L377.1 164.3L377.1 166.2L377.1 168.1L377.1 170L377.1 171.9L377.1 173.8L377.2 175.6L377.2 177.5L377.2 179.4L377.2 181.2L377.3 183.1L377.3 184.9L377.4 186.8L377.5 188.6L377.5 190.4L377.6 192.3L377.7 194.1L377.8 195.8L378 197.6L378.1 199.3L378.3 201.1L378.5 202.8L378.7 204.4L379 206.1L379.3 207.7L379.6 209.2L380 210.7L380.5 212.2L380.9 213.6L381.5 215L382.1 216.3L382.7 217.5L383.5 218.7L384.3 219.8L385.1 220.8L386.1 221.8L387.1 222.7L388.2 223.5L389.3 224.2L390.5 224.9L391.8 225.6L393.1 226.1L394.5 226.6L396 227.1L397.5 227.5L399 227.8L400.6 228.1L402.2 228.4L403.9 228.6L405.6 228.9L407.3 229L409 229.2L410.8 229.3L412.5 229.5L414.3 229.6L416.1 229.7L418 229.7L419.8 229.8L421.6 229.9L423.5 229.9L425.3 230L427.2 230L429 230L430.9 230.1L432.8 230.1L434.7 230.1L436.5 230.1L438.4 230.2L440.3 230.2L442.2 230.2L444.1 230.2L446 230.2L447.8 230.2L449.7 230.2L451.6 230.2L453.5 230.2L455.4 230.2L457.3 230.2L459.2 230.2L461.1 230.2L463 230.2L464.9 230.2L466.8 230.2L468.7 230.2L470.6 230.2L472.5 230.2L474.4 230.2L476.3 230.2L478.2 230.2L480.1 230.2L481.9 230.2L483.8 230.2L485.7 230.2L487.6 230.2L489.5 230.3L491.4 230.3L493.3 230.3L495.2 230.3L497.1 230.3L499 230.3L500.9 230.3L502.8 230.3L504.7 230.3L506.6 230.3L508.5 230.3L510.4 230.3L512.3 230.3L514.2 230.3L516.1 230.3L518 230.3L519.9 230.3L521.8 230.3L523.7 230.3L525.6 230.3L527.5 230.3L529.4 230.3L531.3 230.3L533.2 230.3L535.1 230.3L537 230.3L538.9 230.3L540.8 230.3L542.6 230.3L544.5 230.3L546.4 230.3L548.3 230.3L550.2 230.3L552.1 230.3L554 230.3L555.9 230.3L557.8 230.3L559.7 230.3L561.6 230.3L563.5 230.3L565.4 230.3L567.3 230.3L569.2 230.3L571.1 230.3L573 230.3L574.9 230.3" fill="none" stroke="#f18422" stroke-width="5.7"/>
<path d="M239.6 394v-2.8M239.6 34.2v2.8M251.1 394v-2.8M251.1 34.2v2.8M262.6 394v-2.8M262.6 34.2v2.8M274.1 394v-2.8M274.1 34.2v2.8M297.1 394v-2.8M297.1 34.2v2.8M308.6 394v-2.8M308.6 34.2v2.8M320.1 394v-2.8M320.1 34.2v2.8M331.6 394v-2.8M331.6 34.2v2.8M354.6 394v-2.8M354.6 34.2v2.8M366.1 394v-2.8M366.1 34.2v2.8M377.6 394v-2.8M377.6 34.2v2.8M389.1 394v-2.8M389.1 34.2v2.8M412 394v-2.8M412 34.2v2.8M423.5 394v-2.8M423.5 34.2v2.8M435 394v-2.8M435 34.2v2.8M446.5 394v-2.8M446.5 34.2v2.8M469.5 394v-2.8M469.5 34.2v2.8M481 394v-2.8M481 34.2v2.8M492.5 394v-2.8M492.5 34.2v2.8M504 394v-2.8M504 34.2v2.8M527 394v-2.8M527 34.2v2.8M538.5 394v-2.8M538.5 34.2v2.8M550 394v-2.8M550 34.2v2.8M561.5 394v-2.8M561.5 34.2v2.8M220.5 375h2.8M580.4 375h-2.8M220.5 363.5h2.8M580.4 363.5h-2.8M220.5 352h2.8M580.4 352h-2.8M220.5 340.5h2.8M580.4 340.5h-2.8M220.5 317.4h2.8M580.4 317.4h-2.8M220.5 305.9h2.8M580.4 305.9h-2.8M220.5 294.4h2.8M580.4 294.4h-2.8M220.5 282.9h2.8M580.4 282.9h-2.8M220.5 259.9h2.8M580.4 259.9h-2.8M220.5 248.4h2.8M580.4 248.4h-2.8M220.5 236.9h2.8M580.4 236.9h-2.8M220.5 225.4h2.8M580.4 225.4h-2.8M220.5 202.3h2.8M580.4 202.3h-2.8M220.5 190.8h2.8M580.4 190.8h-2.8M220.5 179.3h2.8M580.4 179.3h-2.8M220.5 167.8h2.8M580.4 167.8h-2.8M220.5 144.8h2.8M580.4 144.8h-2.8M220.5 133.3h2.8M580.4 133.3h-2.8M220.5 121.8h2.8M580.4 121.8h-2.8M220.5 110.3h2.8M580.4 110.3h-2.8M220.5 87.2h2.8M580.4 87.2h-2.8M220.5 75.7h2.8M580.4 75.7h-2.8M220.5 64.2h2.8M580.4 64.2h-2.8M220.5 52.7h2.8M580.4 52.7h-2.8M228.1 394v-5M228.1 34.2v5M285.6 394v-5M285.6 34.2v5M343.1 394v-5M343.1 34.2v5M400.5 394v-5M400.5 34.2v5M458 394v-5M458 34.2v5M515.5 394v-5M515.5 34.2v5M573 394v-5M573 34.2v5M220.5 386.5h5M580.4 386.5h-5M220.5 328.9h5M580.4 328.9h-5M220.5 271.4h5M580.4 271.4h-5M220.5 213.8h5M580.4 213.8h-5M220.5 156.3h5M580.4 156.3h-5M220.5 98.8h5M580.4 98.8h-5M220.5 41.2h5M580.4 41.2h-5" stroke="#505050" stroke-width="0.9" fill="none"/>
<rect x="220.5" y="34.2" width="359.9" height="359.8" fill="none" stroke="#505050" stroke-width="1"/>
<text x="228.1" y="417" font-size="21.6" text-anchor="middle">−<tspan dx="2.6">20</tspan></text>
<text x="285.6" y="417" font-size="21.6" text-anchor="middle">−<tspan dx="2.6">10</tspan></text>
<text x="343.1" y="417" font-size="21.6" text-anchor="middle">0</text>
<text x="400.5" y="417" font-size="21.6" text-anchor="middle">10</text>
<text x="458" y="417" font-size="21.6" text-anchor="middle">20</text>
<text x="515.5" y="417" font-size="21.6" text-anchor="middle">30</text>
<text x="573" y="417" font-size="21.6" text-anchor="middle">40</text>
<text x="215" y="393" font-size="21.6" text-anchor="end">−<tspan dx="2.6">20</tspan></text>
<text x="215" y="335.4" font-size="21.6" text-anchor="end">−<tspan dx="2.6">10</tspan></text>
<text x="215" y="277.9" font-size="21.6" text-anchor="end">0</text>
<text x="215" y="220.3" font-size="21.6" text-anchor="end">10</text>
<text x="215" y="162.8" font-size="21.6" text-anchor="end">20</text>
<text x="215" y="105.2" font-size="21.6" text-anchor="end">30</text>
<text x="215" y="47.7" font-size="21.6" text-anchor="end">40</text>
<text x="399.7" y="449.5" font-size="22.5" font-style="italic" text-anchor="middle">F<tspan font-size="16.2" dy="5">a</tspan></text>
<text transform="translate(161.5 215) rotate(-90)" font-size="22.5" font-style="italic" text-anchor="middle">F<tspan font-size="16.2" dy="5">b</tspan></text>
<rect x="39.2" y="133" width="16" height="238.3" fill="url(#gb)" stroke="#a8a8a8" stroke-width="0.8"/>
<path d="M39.2 371.3h-3M39.2 359.4h-1.8M39.2 347.5h-1.8M39.2 335.6h-1.8M39.2 323.6h-3M39.2 311.7h-1.8M39.2 299.8h-1.8M39.2 287.9h-1.8M39.2 276h-3M39.2 264.1h-1.8M39.2 252.2h-1.8M39.2 240.2h-1.8M39.2 228.3h-3M39.2 216.4h-1.8M39.2 204.5h-1.8M39.2 192.6h-1.8M39.2 180.7h-3M39.2 168.7h-1.8M39.2 156.8h-1.8M39.2 144.9h-1.8M39.2 133h-3" stroke="#b0b0b0" stroke-width=".8" fill="none"/>
<text x="31.5" y="378.5" font-size="21.6" text-anchor="end">0.</text>
<text x="31.5" y="330.8" font-size="21.6" text-anchor="end">0.2</text>
<text x="31.5" y="283.2" font-size="21.6" text-anchor="end">0.4</text>
<text x="31.5" y="235.5" font-size="21.6" text-anchor="end">0.6</text>
<text x="31.5" y="187.9" font-size="21.6" text-anchor="end">0.8</text>
<text x="31.5" y="140.2" font-size="21.6" text-anchor="end">1.0</text>
<text x="2.5" y="109.8" font-size="22.8"><tspan font-style="italic" font-size="24">π</tspan><tspan font-size="15.5" dy="4">1</tspan><tspan dy="-4">(</tspan><tspan font-weight="bold">F</tspan>)</text>
<rect x="111" y="133" width="16" height="238.3" fill="url(#go)" stroke="#a8a8a8" stroke-width="0.8"/>
<path d="M111 371.3h-3M111 359.4h-1.8M111 347.5h-1.8M111 335.6h-1.8M111 323.6h-3M111 311.7h-1.8M111 299.8h-1.8M111 287.9h-1.8M111 276h-3M111 264.1h-1.8M111 252.2h-1.8M111 240.2h-1.8M111 228.3h-3M111 216.4h-1.8M111 204.5h-1.8M111 192.6h-1.8M111 180.7h-3M111 168.7h-1.8M111 156.8h-1.8M111 144.9h-1.8M111 133h-3" stroke="#b0b0b0" stroke-width=".8" fill="none"/>
<text x="101.5" y="378.5" font-size="21.6" text-anchor="end">0.</text>
<text x="101.5" y="330.8" font-size="21.6" text-anchor="end">0.2</text>
<text x="101.5" y="283.2" font-size="21.6" text-anchor="end">0.4</text>
<text x="101.5" y="235.5" font-size="21.6" text-anchor="end">0.6</text>
<text x="101.5" y="187.9" font-size="21.6" text-anchor="end">0.8</text>
<text x="101.5" y="140.2" font-size="21.6" text-anchor="end">1.0</text>
<text x="75.5" y="109.8" font-size="22.8"><tspan font-style="italic" font-size="24">π</tspan><tspan font-size="15.5" dy="4">2</tspan><tspan dy="-4">(</tspan><tspan font-weight="bold">F</tspan>)</text>
<text x="899" y="18.8" font-size="24.5" text-anchor="middle" textLength="354" lengthAdjust="spacingAndGlyphs">Successful classification (M = 1)</text>
<text x="631.8" y="59.8" font-size="37" letter-spacing="1.5">B)</text>
<g clip-path="url(#cB)">
<rect x="729.7" y="41.5" width="345.8" height="345" fill="#edb06f"/>
<path d="M749.6 35.5C750.6 37.6 753.5 44.2 755.6 48.4C757.8 52.6 758.9 54.9 762.6 60.5C766.2 66.1 771.1 74.1 777.2 82C783.4 89.9 787.5 95.3 799.7 107.9C812 120.5 833.6 140.6 850.7 157.5C867.9 174.4 885.3 191.9 902.6 209.2C919.9 226.4 937.3 243.7 954.5 261C971.6 278.3 993.2 300 1005.5 313.2C1017.7 326.3 1021.6 331.6 1028 339.9C1034.3 348.3 1039.8 357.2 1043.5 363.2C1047.3 369.2 1048.4 371.4 1050.4 376.1C1052.4 380.9 1054.8 389.1 1055.6 391.7L669.7 446.5L669.7 -18.5Z" fill="#7772fc" filter="url(#b8)"/>
<path d="M749.6 35.5C750.6 37.6 753.5 44.2 755.6 48.4C757.8 52.6 758.9 54.9 762.6 60.5C766.2 66.1 771.1 74.1 777.2 82C783.4 89.9 787.5 95.3 799.7 107.9C812 120.5 833.6 140.6 850.7 157.5C867.9 174.4 885.3 191.9 902.6 209.2C919.9 226.4 937.3 243.7 954.5 261C971.6 278.3 993.2 300 1005.5 313.2C1017.7 326.3 1021.6 331.6 1028 339.9C1034.3 348.3 1039.8 357.2 1043.5 363.2C1047.3 369.2 1048.4 371.4 1050.4 376.1C1052.4 380.9 1054.8 389.1 1055.6 391.7" fill="none" stroke="#fff" stroke-opacity=".2" stroke-width="80" filter="url(#b12)" transform="translate(-6 6)"/>
<path d="M749.6 35.5C750.6 37.6 753.5 44.2 755.6 48.4C757.8 52.6 758.9 54.9 762.6 60.5C766.2 66.1 771.1 74.1 777.2 82C783.4 89.9 787.5 95.3 799.7 107.9C812 120.5 833.6 140.6 850.7 157.5C867.9 174.4 885.3 191.9 902.6 209.2C919.9 226.4 937.3 243.7 954.5 261C971.6 278.3 993.2 300 1005.5 313.2C1017.7 326.3 1021.6 331.6 1028 339.9C1034.3 348.3 1039.8 357.2 1043.5 363.2C1047.3 369.2 1048.4 371.4 1050.4 376.1C1052.4 380.9 1054.8 389.1 1055.6 391.7" fill="none" stroke="#fff" stroke-opacity=".22" stroke-width="30" filter="url(#b8)" transform="translate(-2 2)"/>
</g>
<path transform="scale(.5)" d="M1885 84h0m255 306h0m-3-113h0m-101 174h0m-53-138h0m75 148h0m87-315h0m-135 148h0m14 59h0m-75 202h0m168-198h0m-17-173h0m-151 307h0m-27-397h0m210 127h0m-39 59h0m-236-112h0m79 251h0m-203-115h0m274-209h0m-284 101h0m317 245h0m-44 74h0m30-289h0m-135-55h0m-109-11h0m143 122h0m225-37h0m-437-42h0m181 7h0m1 133h0m-154-185h0m165-58h0m70 22h0m-401 56h0m336 190h0m157-259h0m-181 151h0m133 258h0m0 32h0m-413-433h0m378 90h0m130 85h0m-178-86h0m-36 290h0m195 179h0m12-445h0m1 398h0m-99-264h0m-284-217h0m411-18h0m-325 163h0m261 123h0m-167 74h0m140 123h0m40-433h0m55 157h0m-632-243h0m438 301h0m141-243h0m-208 187h0m199 8h0m-201-105h0m-128 69h0m222-78h0m-110-87h0m-94 26h0m321 176h0m-22 152h0m-305-399h0m45 21h0m320 243h0m-381-172h0m370-8h0m18 299h0m-404-266h0m-13 89h0m361 288h0m-246-182h0m267 92h0m42-297h0m-80 363h0m-331-333h0m108 14h0m91 37h0m-253-157h0m292-29h0m28 332h0m50 143h0m-413-467h0m498 217h0m-255-134h0m260 59h0m-216 80h0m-4 120h0m45-13h0m-288-233h0m20 57h0m215-36h0m-121 116h0m-185-201h0m405 312h0m-14-45h0m-79-307h0m-140 206h0m152-196h0m117 105h0m-52 85h0m159-58h0m-53 84h0m-25 231h0m-1-190h0m-334-262h0m13 239h0m-8-246h0m130 78h0m231 4h0m-37-38h0m-543-47h0m249 245h0m298 128h0m-344-324h0m331 398h0m-3-24h0m57-339h0m-116 80h0m103 250h0m-462-306h0m467 98h0m-208 121h0m-62-87h0m-174-146h0m377 308h0m90-72h0m-82 224h0m-77-422h0m120 289h0m-254-205h0m307 242h0m-332-338h0m-258-124h0m329 184h0m146-59h0m56 273h0m45-72h0m-221-229h0m-42 91h0m263 285h0m-85-69h0m-344-378h0m448 299h0m-498-295h0m153-36h0m261 198h0m-169 187h0m-29-237h0m137 181h0m87-27h0m-382-92h0m357-68h0m-35 95h0m-257-15h0m170 166h0m180-349h0m-117 383h0m147-321h0m-54 394h0m-359-376h0m-13-87h0m383 401h0m22-382h0m-305 169h0m258-3h0m2-60h0m-186 234h0m119 122h0m-23-163h0m-142-28h0m2-21h0m222 161h0m-312-311h0m295 232h0m-80-205h0m-248 70h0m320-56h0m-220-68h0m202 72h0m47 120h0m-91-75h0m88-139h0m17-18h0m-14 342h0m-74-289h0m120-72h0m-22 320h0m-204-243h0m199 270h0m-266-382h0m29 286h0m68-153h0m191 308h0m-605-432h0m567 380h0m60-314h0m-411 12h0m-2-88h0m342 110h0m-375-64h0m189 110h0m-96 34h0m146 76h0m-34 100h0m164-327h0m-381-14h0m445 324h0m-20-156h0m-418-188h0m431 474h0m-124-182h0m115 280h0m-188-492h0m7 225h0m181 139h0m19-163h0m-465-217h0m172 132h0m222 166h0m-279-220h0m246-11h0m53 5h0m-243 192h0m263-146h0m-20-170h0m-473-48h0m471 153h0m25 412h0m32-73h0m-186-292h0m198-154h0m-135 426h0m117-291h0m-392-97h0m61-17h0m269 49h0m-303-22h0m172 45h0m202 324h0m-500-334h0m166 72h0m176-159h0m-68 32h0m161 385h0m8-117h0m-109-312h0m67 405h0m-37-315h0m-7-66h0m-145 306h0m201-251h0m-339 127h0m195-102h0m169 40h0m-154 213h0m189 221h0m-396-577h0m-72 94h0m363 386h0m-261-445h0m401 470h0m-211-363h0m76 82h0m-192-145h0m144 264h0m-127-73h0m61-129h0m-46-117h0m-76 158h0m317 289h0m-394-284h0m-7-70h0m162 70h0m7-98h0m101 147h0m-48 74h0m-398-334h0m349 276h0m129 155h0m1-120h0m-75-99h0m180 79h0m-8-1h0m-43 143h0m35-170h0m-89-121h0m-288-44h0m350 216h0m-201-139h0m83 215h0m-326-374h0m217 77h0m-63 17h0m321 5h0m22 40h0m-207 240h0m56-26h0m-207-117h0m136-105h0m-81-80h0m255 353h0m44 57h0m-154-433h0m118 423h0m-95-446h0m113 377h0m-125-341h0m-381 39h0m315-33h0m3 355h0m182-55h0m-504-299h0m555 519h0m-13-443h0m-134 135h0m84 213h0m-11-39h0m9 82h0m-152-376h0m-118 111h0m218 265h0m-305-395h0m410-140h0m-107 494h0m-153-428h0m167 252h0m-457-317h0m425 369h0m68 137h0m-63-149h0m-283-241h0m391 359h0m-268-358h0m-12 50h0m-31 10h0m-104-181h0m-37 150h0m-36-98h0m333 146h0m152-113h0m-125 164h0m48 165h0m-4-402h0m-64 309h0m-42-150h0m99-99h0m-4 351h0m-175-133h0m-81-114h0m-80-93h0m243 111h0m154-77h0m-431-116h0m425 410h0m-248-202h0m-117-95h0m437 521h0m-25-544h0m-36 129h0m-314 31h0m378-21h0m-214-208h0m133 495h0m-468-452h0m509 325h0m-459-301h0m100 90h0m269 301h0m-19-480h0m-184 70h0m-168 42h0m465 248h0m-52 78h0m-64 54h0m-431-438h0m507 227h0m45 204h0m-259-318h0m198 346h0m-190-210h0m-201-213h0m239 245h0m249 139h0m-114 8h0m-389-310h0m330 74h0m2 113h0m-21-152h0m-181 20h0m275 108h0m-316-248h0m297 464h0m-79-401h0m195 504h0m-46-222h0m-366-279h0m338-95h0m28 441h0m-272-205h0m274 58h0m-196-291h0m126 476h0m77-300h0m-177 155h0m87-239h0m-1 176h0m-2-230h0m94 407h0m-37-194h0m70-178h0m-226 293h0m-364-383h0m533 2h0m-258 199h0m-104-151h0m164 87h0m217 266h0m-35-443h0m-102 404h0m161-248h0m-274 97h0m-23-64h0m91-75h0m169 306h0m35-170h0m-269-196h0m154 202h0m-74 76h0m-50-212h0m184 85h0m10-86h0m-57 285h0m83-234h0m-16 35h0m36 396h0m9-584h0m-317 285h0m-268-272h0m532 41h0m9 368h0m26 43h0m-161-321h0m15 174h0m102-231h0m-336 11h0m-156-42h0m350 220h0m-82 27h0m-48-180h0m314 248h0m-18 0h0m-366-202h0m317 253h0m19 115h0m-335-405h0m396-7h0m-76-88h0m-33-30h0m-170 208h0m-1-134h0m136 299h0m80-234h0m-22 128h0m-418-140h0m436 121h0m-117-17h0m97-209h0m-91 30h0m-313-64h0m476 400h0m30-244h0m-296-22h0m141 39h0m-12-149h0m42 357h0m-71-331h0m-115-21h0m190 91h0m90 42h0m-297 121h0m-5-252h0m280 122h0m-23-154h0m-72 375h0m-4-254h0m-126 145h0m-55 59h0m278 105h0m-102 53h0m-313-356h0m436 346h0m-186-39h0m128-388h0m-305 18h0m384 105h0m0 356h0m-301-479h0m-180 116h0m165-49h0m103 76h0m-7-113h0m-189 22h0m384 379h0m-75-391h0m53-27h0m24 274h0m-502-290h0m-21-40h0m344 22h0m-212 169h0m225 234h0m-45-94h0m10-126h0m89 251h0m-308-350h0m357-62h0m-138 50h0m-11 61h0m-95-49h0m39-12h0m106 41h0m-285-72h0m259 337h0m83-287h0m-149 38h0m-183-105h0m89-57h0m298 416h0m37-402h0m17 542h0m-306-516h0m293 312h0m-29-258h0m-254 221h0m261 59h0m-41 74h0m111-197h0m-234 40h0m168-79h0m5 258h0m-447-395h0m261-43h0m-102 3h0m290 136h0m-484-177h0m387 480h0m26-221h0m83 356h0m-84-328h0m31-120h0m-15 8h0m-329 35h0m-150-132h0m435 421h0m-140-496h0m246 415h0m-208-293h0m222 508h0m-120-262h0m29 15h0m-63 85h0m44-168h0m87-55h0m-416-214h0m467 378h0m-182-283h0m-175 100h0m-48-169h0m370 440h0m-333-382h0m-42-10h0m154 279h0m-66-289h0m16 119h0m288-105h0m-418 59h0m82 83h0m-57-53h0m360-41h0m-390 45h0m410 403h0m-191-379h0m-41 129h0m41-90h0m92-40h0m36 114h0m58-317h0m-47 536h0m-304-559h0m-98 138h0m462 87h0m-364-203h0m51 85h0m-290-98h0m364 171h0m-15 43h0m90-21h0m-325-178h0m246 269h0m-173-253h0m-59-29h0m159 284h0m107-32h0m-229-138h0m263 40h0m-167-152h0m375 200h0m-432-145h0m395 330h0m17-70h0m-38-139h0m-273 1h0m-90-154h0m249 405h0m-385-338h0m503 114h0m-140 76h0m86-235h0m51 5h0m-219 142h0m240 306h0m-235-197h0m8-298h0m-11 356h0m86-136h0m56-3h0m-28 222h0m-49-144h0m-55 80h0m-229-225h0m312 46h0m75-30h0m-122 0h0m172 363h0m-349-432h0m-75-33h0m161-82h0m-8 38h0m187 317h0m123-59h0m-119-26h0m-407-138h0m395 116h0m-276-168h0m17 11h0m346 332h0m-115-259h0m19 15h0m117 5h0m-449-102h0m400 457h0m30-219h0m9 76h0m-343-120h0m-55-151h0m260 134h0m176 307h0m-427-401h0m325-132h0m-240-36h0m230 32h0m-265 32h0m215 438h0m114-476h0m-90 218h0m-310-130h0m275-99h0m98 321h0m-70 0h0m-122-52h0m169 56h0m-270-130h0m292 376h0m-10-454h0m-109-53h0m57 242h0m-386-185h0m245-55h0m187 111h0m-38 202h0m-481-375h0m518 496h0m-460-476h0m489 127h0m-82-124h0m-98-13h0m-69 283h0m-190-197h0m424 425h0m-398-410h0m459 19h0m-137 178h0m6-114h0m-240-149h0m42-55h0m293 102h0m-274 203h0m122 15h0m-293-294h0m98 214h0m411 43h0m-135-90h0m86-195h0m-163 379h0m72-132h0m-187 75h0m-32-112h0m177 93h0m53-97h0m-140-207h0m184 261h0m-153-78h0m89 26h0m-430-135h0m545 120h0m-143 159h0m-349-276h0m509 418h0m-524-460h0m350 97h0m12 289h0m180 81h0m-180-383h0m92 350h0m11-138h0m-216-117h0m-47 82h0m-183-224h0m136 13h0m96 60h0m-300-87h0m357-5h0m-131 3h0m78 259h0m-96-229h0m315 255h0m-352-238h0m369 287h0m-325-103h0m366-29h0m-79-84h0m-283 100h0m353 63h0m-18-185h0m-211 7h0m-39 91h0m-145-108h0m129 39h0m206-10h0m-111 190h0m-16-73h0m72-9h0m26 127h0m-90-85h0m-251-145h0m-40-39h0m-46-105h0m456-20h0m-177 63h0m183-79h0m38 141h0m14-106h0m-49-24h0m-111 290h0m-45-245h0m173 40h0m-79 189h0m60-166h0m-15 225h0m-131-204h0m80 93h0m78 176h0m-366-338h0m359 382h0m-480-398h0m118-18h0m128 31h0m31 191h0m18 111h0m257-23h0m-509-203h0m21-32h0m205 81h0m63-177h0m-71 306h0m289 130h0m-61-128h0m-175-92h0m-48 39h0m-62-268h0m171 176h0m132 180h0m-230-176h0m260-139h0m-21 211h0m-122 164h0m-117-390h0m-15 143h0m-48-141h0m350 17h0m-444 103h0m256 226h0m143 115h0m31-399h0m-57 105h0m-262-42h0m99-100h0m171 466h0m-335-287h0m370 199h0m-270-404h0m260 118h0m-251-15h0m-45 114h0m293 70h0m-208-294h0m100 201h0m-121-65h0m269 355h0m-396-454h0m301 14h0m-337 8h0m386 466h0m-336-470h0m348 557h0m-110-517h0m-134 21h0m-270-42h0m447 96h0m-267-189h0m292 131h0m-12 283h0m48-90h0m-491-245h0m-70-27h0m502 514h0m-104-448h0m156 357h0m-75-405h0m83 487h0m-514-533h0m-55 30h0m96-2h0m4-17h0m302 185h0m-16-112h0m129 84h0m-27-71h0m86 94h0m-502-169h0m354 13h0m-119 234h0m103-259h0m136 158h0m-31 286h0m-219-246h0m-277-218h0m418 236h0m-134-238h0m16 105h0m93 140h0m-408-234h0m-27 12h0m499 29h0m-294 103h0m194 148h0m-276-199h0m452 177h0m-87 164h0m135-11h0m-235-188h0m36-244h0m-239 65h0m355-4h0m-333 123h0m230 227h0m98-409h0m-368 78h0m319 258h0m140-123h0m-33 173h0m-43-6h0m-98-343h0m-144 273h0m305 254h0m-337-428h0m-207-115h0m370 344h0m84-179h0m-5-73h0m-110 139h0m161 177h0m-271-357h0m78 149h0m170 277h0m-203-363h0m215-144h0m-51 88h0m-134 134h0m-173-217h0m196 357h0m64 0h0m126-196h0m-20 79h0m-438-147h0m298-27h0m-343-84h0m431 204h0m-104-191h0m192-5h0m-182 412h0m-59-62h0m55 9h0m184 256h0m-496-478h0m397 193h0m-175-126h0m259 46h0m-162 169h0m199 10h0m-365-416h0m-111 7h0m-102-15h0m288 345h0m-124-307h0m302 286h0m-10 54h0m18-116h0m-83-223h0m-217 164h0m231 101h0m35-125h0m-117-85h0m199 16h0m-35 418h0m39-279h0m58 0h0m-373-161h0m29 8h0m-31 176h0m296 307h0m-184-321h0m154 276h0m-34-128h0m88-324h0m-111 207h0m-64-172h0m141 303h0m-549-420h0m616 423h0m-208-432h0m-102 246h0m336 7h0m-13-93h0m-67 222h0m-246-341h0m205 484h0m-57-468h0m8 223h0m-227-117h0m56-112h0m233 499h0m-30-68h0m-174-478h0m95 1h0m169 505h0m-122-120h0m-173-107h0m-76-104h0m286 69h0m100 324h0m-69-206h0m-8 102h0m-149-392h0m-240 71h0m193-35h0m50 205h0m120-264h0m12 115h0m-88-51h0m2 32h0m-90-29h0m-163 9h0m327-57h0m-36 129h0m-78 135h0m19-273h0m-209-66h0m263 7h0m12-4h0m-93 15h0m127 493h0m77-66h0m-572-433h0m245 111h0m212-12h0m171 494h0m-197-473h0m22 303h0m-393-366h0m373 241h0m-65-85h0m-314-215h0m468 293h0m-278-122h0m126 9h0m260-86h0m-151-34h0m49 429h0m42-468h0m-184 153h0m-159 3h0m-37 42h0m137 54h0m42-267h0m-244 104h0m463 258h0m-196-367h0m-18 57h0m90 315h0m106-280h0m41 240h0m-207-213h0m149 77h0m68 142h0m-384-191h0m258 28h0m74-152h0m-342 146h0m56 49h0m-295-201h0m604 320h0m-203-100h0m-392-244h0m349 314h0m173-30h0m-332-178h0m439 540h0m-178-583h0m155 101h0m-463-79h0m335 143h0m-217 38h0m-83-221h0m298 172h0m-26 253h0m-47-281h0m56 24h0m121 6h0m-456-95h0m496 436h0m-70-234h0m-60 11h0m-335-332h0m177 102h0m-222 34h0m391 178h0m-17-203h0m68 392h0m-421-448h0m475 300h0m-203-263h0m120 435h0m39 36h0m-413-418h0m440 282h0m-164-156h0m-370-230h0m449-12h0m-77 89h0m-133-115h0m275 148h0m-30 210h0m-3 11h0m18 206h0m-38-402h0m-58-170h0m76 299h0m59 39h0m-424-187h0m195-20h0m-193 47h0m283 181h0m-94-253h0m-306-75h0m439 202h0m-118-138h0m32 60h0m193 94h0m-137-61h0m-381-140h0m272 137h0m-154-176h0m152 72h0m101 301h0m-27 8h0m-187-245h0m274 347h0m-309-493h0m283 365h0m122-140h0m-159 253h0m127-349h0m-193 203h0m163-303h0m-158 118h0m-19-143h0m101 448h0m-38-23h0m-151-379h0m223 52h0m117 223h0m-123-37h0m-208-131h0m334-88h0m-59 20h0m33-2h0m3 308h0m-228-132h0m256 80h0m-152-310h0m-372 22h0m402 215h0m2-113h0m107-93h0m-55-23h0m-158 327h0m-229-210h0m-6 14h0m398 320h0m-302-252h0m-263-210h0m345 300h0m256-267h0m-115 349h0m-257-151h0m-16-195h0m221 134h0m161 62h0m-138-246h0m129-21h0m43 162h0m-37-40h0m-418-52h0m294-64h0m-122 103h0m230-59h0m-354 78h0m174 235h0m-270-280h0m355 394h0m-34-104h0m46-262h0m4 409h0m-105-257h0m101-96h0m130 187h0m-422-313h0m155 32h0m191 466h0m78-375h0m-294-46h0m76 37h0m110 211h0m-61 16h0m29-361h0m-87 67h0m-113 79h0m134-52h0m68 393h0m69-65h0m-42-58h0m-500-388h0m521 57h0m61-15h0m-30 31h0m-318 155h0m365 369h0m-314-514h0m324 288h0m-332-350h0m-294-26h0m547 206h0m-129-136h0m-86-26h0m227 275h0m-18-81h0m-95 228h0m71-18h0m-322-298h0m332 318h0m-13-329h0m56 299h0m-119-170h0m-292-229h0m377 493h0m12-154h0m67 168h0m-250-327h0m198-117h0m-31 352h0m-490-391h0m371 268h0m34 143h0m-258-296h0m67-111h0m-47 127h0m362-178h0m27 132h0m-213 136h0m216 70h0m-240-316h0m247 153h0m-22-43h0m-407 8h0m294 214h0m-83-53h0m243 177h0m-195-85h0m-41-142h0m62 49h0m119 102h0m-57 6h0m-240-237h0m166-127h0m88 168h0m97 18h0m-430-99h0m12-54h0m-241-87h0m80 77h0m404 224h0m116 137h0m-410-431h0m330 3h0m-301 184h0m-107-73h0m457 26h0m38 84h0m-27 127h0m-61-227h0m-113 213h0m-168-340h0m391 100h0m-239 80h0m172-25h0m-52 210h0m-145-319h0m-184 106h0m330 314h0m-103-330h0m-308-98h0m350 156h0m-89 58h0m-119-37h0m410 3h0m-113 199h0m107-95h0m-229-131h0m237-159h0m-142 34h0m94 48h0m-126 74h0m146 350h0m-437-528h0m470 241h0m-436-204h0m423 329h0m-40 139h0m-179-201h0m183 157h0m-52-27h0m-325-294h0m244 241h0m-188-106h0m263-183h0m-154 123h0m-231-174h0m88 167h0m376 395h0m16-144h0m-78-464h0m-31 199h0m122 6h0m-345 92h0m309 79h0m-18-224h0m-321-116h0m193 352h0m141-314h0m25-87h0m-245 3h0m-5 343h0m-196-134h0m387 100h0m-378-174h0m420 214h0m-350-120h0m236 52h0m-187-159h0m296-47h0m-93-47h0m57 457h0m41-331h0m-360-12h0m18 21h0m331 235h0m-36-373h0m-111 246h0m-191-153h0m-254-82h0m606 70h0m-137 22h0m-98-87h0m33 8h0m171 310h0m-288-230h0m243-76h0m-55 110h0m-199-136h0m286 314h0m-174-246h0m-54 116h0m-51-75h0m232-117h0m-221 29h0m124 238h0m86 232h0m24-419h0m-4 115h0m107-194h0m-364 64h0m143 88h0m-69 63h0m276-33h0m-339-19h0m-75-14h0m146 140h0m140 93h0m-71-140h0m-393-208h0m354 99h0m93 27h0m74 204h0m-283-133h0m46-82h0m136-61h0m183 552h0m-334-546h0m323 465h0m-379-425h0m244 84h0m-31 58h0m136-205h0m-11 310h0m-365-294h0m-114 12h0m267-28h0m176 19h0m48 210h0m-227-117h0m204 323h0m-332-428h0m262 341h0m-261-370h0m-45 63h0m206 227h0m194-322h0m36 550h0m-37-88h0m-175-372h0m32-45h0m-55 323h0m-253-329h0m472 240h0m-128 183h0m-332-469h0m419 420h0m-106-417h0m38 38h0m54 454h0m-153-341h0m165 107h0m-124-248h0m114 134h0m-39 21h0m-101-12h0m-292-38h0m303-95h0m-107 232h0m-149-117h0m205 123h0m212 281h0m-168-509h0m-85 26h0m-297-32h0m313 276h0m246 298h0m-554-605h0m255 240h0m96 64h0m-80-204h0m103-75h0m123 503h0m-493-482h0m259 263h0m210-226h0m-400 21h0m390-39h0m105 528h0m-122-179h0m-78-138h0m-86-7h0m196-279h0m-430 83h0m415 113h0m101-215h0m-61 45h0m-284 77h0m-62 42h0m398 362h0m-26-35h0m-59-470h0m-30 137h0m-243 99h0m385-14h0m-312 87h0m-172-210h0m380-62h0m76 360h0m-164-277h0m149 207h0m-272-144h0m133 26h0m29-49h0m105 149h0m-54-258h0m59 55h0m-305-122h0m256 322h0m-430-237h0m280 66h0m63 152h0m-287-300h0m326 474h0m-330-433h0m37 178h0m409-210h0m-39 482h0m-73-197h0m114-255h0m8 378h0m-142-385h0m33 178h0m-104 100h0m84-267h0m3 267h0m-190-91h0m-76-59h0m338 406h0m-278-415h0m-86 68h0m-69-141h0m-2 49h0m499 429h0m-193-291h0m-34-226h0m-203 172h0m363 101h0m-221-61h0m104-174h0m121 166h0m-217 55h0m-64-187h0m28 165h0m318 107h0m-486-237h0m495 311h0m-257-333h0m97-4h0m-246 111h0m355 252h0m-358-317h0m125-112h0m-275 25h0m538 47h0m-62 444h0m-8-192h0m-14-326h0m-87 359h0m16-228h0m-150-175h0m189 421h0m-78-351h0m-104-50h0m-59 35h0m320-31h0m-161-21h0m-178 234h0m-150-133h0m286 218h0m-100-257h0m-189 29h0m261 80h0m193 200h0m-4 146h0m-90-283h0m-229-92h0m309-108h0m42-2h0m-230-42h0m277 117h0m-14-58h0m-12 20h0m-246 93h0m-48-153h0m-113 89h0m200-91h0m174 372h0m-211-287h0m-33 137h0m60-238h0m73 188h0m144 130h0m-134 84h0m83 47h0m-228-289h0m102 6h0m186 128h0m-174-293h0m-400-8h0m285 41h0m271 438h0m-590-480h0m536 290h0m-302-76h0m52-89h0m42 19h0m305 279h0m-278-193h0m10-21h0m-150-54h0m393 293h0m-76-371h0m-65 203h0m-128-145h0m-246-115h0m215 115h0m233 271h0m-157-28h0m24-261h0m191 314h0m-98-231h0m-159-55h0m299-121h0m-19 427h0m19-176h0m-177-181h0m182 389h0m-404-413h0m290 129h0m-160 69h0m141-209h0m36 68h0m-348-71h0m305 126h0m21 294h0m-294-231h0m312 151h0m-149-10h0m230-95h0m-105-182h0m-401-107h0m286 346h0m219-253h0m-194 147h0m-132-225h0m126 354h0m-238-240h0m437 191h0m-388-216h0m381 186h0m-118-80h0m-360-76h0m334 301h0m29-121h0m-270-87h0m200-76h0m134 46h0m65-154h0m-114 135h0m-76 63h0m145 296h0m-30-339h0m-446-105h0m390 29h0m-73-120h0m-5 370h0m10 62h0m144-407h0m-223 0h0m280 416h0m-49-75h0m-34-269h0m-1 311h0m-66-44h0m103-134h0m-70-176h0m-88 134h0m-391-177h0m304 259h0m260-57h0m-483-116h0m351 282h0m152 69h0m-408-262h0m422 281h0m-336-190h0m109 71h0m66-27h0m-104-33h0m-231-203h0m362 374h0m-157-379h0m-160 16h0m230-38h0m-92-6h0m114 18h0m187 171h0m-237 75h0m60-226h0m-155 3h0m-33-27h0m193 258h0m-72-74h0m199 217h0m-258-229h0m80-121h0m-26 129h0m116-58h0m-364-105h0m427 116h0m-199 69h0m117-49h0m8-148h0m151 135h0m-132 44h0m-143 103h0m-220-221h0m479 107h0m27 169h0m-216-46h0m-121-114h0m244 262h0m-342-432h0m-50 35h0m303 9h0m-189 117h0m-82-234h0m79 258h0m160 13h0m-180-51h0m256-122h0m41-68h0m-492-42h0m465 9h0m-304 158h0m315 271h0m-207-271h0m-120-7h0m-76-124h0m242 97h0m107 188h0m-117-124h0m61-16h0m-16-144h0m-163 104h0m362 196h0m-119-35h0m-427-227h0m397 200h0m114 63h0m-91-198h0m-56-119h0m-209 116h0m377-5h0m-263 175h0m-314-289h0m469 376h0m-309-395h0m347 267h0m99-193h0m-180 346h0m88 75h0m-2 17h0m-6-500h0m2 119h0m-258 111h0m235-2h0m134 153h0m-19-304h0m10 236h0m-283-321h0m158 371h0m97-221h0m-251-136h0m11 35h0m139 417h0m5-13h0m66-244h0m60-49h0m-73-143h0m-231 318h0m-53-310h0m242 55h0m-17 179h0m-64-91h0m-101 115h0m116-286h0m-14 8h0m160 407h0m-150 31h0m-442-437h0m586 12h0m18 383h0m-473-268h0m164 132h0m187-12h0m-294-240h0m423 200h0m-141 31h0m0 26h0m-251-217h0m179 230h0m113 72h0m68 221h0m-36-369h0m2-80h0m-316-123h0m389 548h0m-234-262h0m151-107h0m-132 25h0m161 325h0m91-180h0m-393-222h0m322 385h0m-374-304h0m195 192h0m55 9h0m-276-299h0m105-115h0m14 96h0m229 328h0m-481-418h0m475 357h0m-120-203h0m217 378h0m-159-222h0m-271-172h0m197 227h0m235-325h0m-326 90h0m-147-97h0m375 461h0m-223-383h0m23 44h0m292-44h0m-118 180h0m-92-271h0m246 33h0m-502 35h0m460 226h0m-17 266h0m-46-305h0m43 310h0m-74-422h0m-83 180h0m-257-336h0m467 399h0m-285-46h0m170-227h0m82 6h0m-218 168h0m-332-252h0m188 3h0m106 230h0m132 24h0m13-274h0m-269 86h0m-209-106h0m295 294h0m188 192h0m-4-166h0m-121-26h0m178 229h0m95 0h0m-186-511h0m-308-8h0m405 252h0m-318-52h0m245 163h0m-306-230h0m399 93h0m-362-172h0m377-18h0m-462 59h0m452 243h0m45-78h0m-362-234h0m374 381h0m-2-69h0m-21-179h0m-69 0h0m-316-44h0m278-61h0m22 100h0m-91 91h0m-365-264h0m480 191h0m17-190h0m-345 47h0m349 480h0m-220-255h0m-12-218h0m235 448h0m-513-453h0m232 203h0m-160-114h0m308 79h0m-66 131h0m57-183h0m-409-170h0m566 172h0m-34 37h0m-80-27h0m40 228h0m-271-283h0m12 59h0m-184-170h0m365 14h0m-322-15h0m285 125h0m-2 25h0m170-153h0m-260 42h0m329 77h0m-49 247h0m-539-348h0m593 252h0m-175-116h0m-140 26h0m-148-83h0m383 260h0m-254-233h0m66 207h0m-82-320h0m166 460h0m-170-358h0m328 130h0m-69 287h0m-185-515h0m97 362h0m-428-338h0m436 435h0m-388-387h0m289 80h0m204-120h0m-418-9h0m459 202h0m-484-145h0m482-47h0m-65-24h0m-210 247h0m3-115h0m144 0h0m-60 192h0m-67-251h0m157 138h0m-50-94h0m-93-18h0m-293-46h0m429 207h0m132-273h0m-14 13h0m-131 482h0m107 61h0m33-318h0m-242 153h0m140 48h0m-16-406h0m71 189h0m-189-238h0m140 91h0m-178 99h0m-98 43h0m266-229h0m-335 180h0m340 116h0m-288-207h0m293 440h0m100-407h0m-6 409h0m-390-337h0m253-83h0m-3 5h0m-196-81h0m251 232h0m-166-63h0m225 71h0m-16-104h0m-20 397h0m-38-179h0m-399-335h0m380 431h0m-105-118h0m89-169h0m138 284h0m-8-497h0m-211 402h0m-100-271h0m-22 24h0m50 38h0m168-130h0m46 144h0m-5-136h0m27 82h0m-345-144h0m66 227h0m67-162h0m232-78h0m-309 175h0m164 46h0m158-213h0m-87 306h0m-301-177h0m384-54h0m-59-68h0m-251 156h0m241 245h0m-43-191h0m2 161h0m-4-384h0m-277 146h0m415 513h0m-52-83h0m-73-305h0m111 232h0m-105-470h0m-94 320h0m215-10h0m-280-216h0m121 299h0m-243-242h0m225-14h0m-20 255h0m-35-402h0m-214 118h0m179 60h0m-324-146h0m287 98h0m-25-65h0m170-73h0m-192 62h0m301-72h0m18 578h0m-315-325h0m-198-243h0m234-18h0m-209 125h0m379 322h0m-106-118h0m177-221h0m-197 179h0m244-194h0m-70 300h0m-192-90h0m19-280h0m81 293h0m-1-191h0m-222-90h0m243 244h0m-289-176h0m433 453h0m-27-378h0m-342 44h0m87-191h0m278 534h0m-236-491h0m-17 270h0m60-160h0m211 432h0m-193-411h0m-61 183h0m-4-304h0m-228 50h0m65 25h0m20 11h0m320-2h0m59-145h0m-171 72h0m172 336h0m-24 103h0m-372-501h0m-68 7h0m262 185h0m203 395h0m-222-309h0m216 320h0m5-530h0m-128 308h0m29 79h0m-11-215h0m51 300h0m-276-393h0m176 136h0m-77 84h0m241-392h0m-235 302h0m68 0h0m88-105h0m-43 123h0m-297-212h0m97 173h0m-211-174h0m366-86h0m135 562h0m-438-446h0m488 267h0m-44-29h0m-368-263h0m225 27h0m23 27h0m-185 136h0m-78-273h0m318-1h0m56 399h0m-249-326h0m-100-7h0m-27 64h0m95 67h0m-54-217h0m199 328h0m201-33h0m-143-115h0m-349-50h0m399 203h0m-109-60h0m-325-170h0m-80-90h0m226 236h0m-15-42h0m287-78h0m-154 121h0m178 31h0m-350-69h0m263-70h0m-146 97h0m2-58h0m-7 152h0m251-20h0" fill="none" stroke="#f18422" stroke-width="9.6" stroke-linecap="round"/>
<path transform="scale(.5)" d="M1795 667h0m-298-174h0m396 272h0m47-17h0m-158-110h0m-150-31h0m-4 21h0m-159-127h0m337 146h0m14-78h0m216 122h0m-135 38h0m-360-339h0m279 364h0m-90-220h0m94 199h0m-27-24h0m-332-299h0m51 186h0m464 33h0m-453-327h0m509 412h0m-395-98h0m88 12h0m14-56h0m43 167h0m128-107h0m-166 65h0m-235-83h0m-15-147h0m254 237h0m171-111h0m-372 101h0m-92-553h0m215 231h0m60 269h0m-252-509h0m434 418h0m-444-160h0m318 180h0m-280 18h0m49-68h0m251 226h0m-153-168h0m-163-123h0m40-59h0m208 146h0m128 168h0m-217 45h0m158-51h0m-149-224h0m189 38h0m-301-113h0m-84-238h0m199 409h0m9 144h0m53-91h0m275 92h0m-293-187h0m-136 220h0m168-144h0m305 119h0m-21 15h0m-305-112h0m-251-179h0m473 266h0m-381-121h0m114-131h0m140 164h0m271 90h0m-551-122h0m589 159h0m-604-74h0m400 24h0m-457 46h0m62-431h0m126 256h0m-70-285h0m-89 85h0m109-125h0m192 319h0m-256-18h0m32-268h0m152 420h0m3-124h0m-254-182h0m104-1h0m369 372h0m-419-105h0m192-61h0m-232-203h0m145-41h0m-119-69h0m-32 432h0m524 26h0m3-35h0m-78-113h0m-450-361h0m59 97h0m11 369h0m71-436h0m74 407h0m-98-292h0m33 152h0m-155 164h0m130-101h0m54 6h0m105 124h0m-163-391h0m-43-71h0m129 304h0m-214-454h0m44 575h0m544 1h0m-464-187h0m173 249h0m-259-51h0m86-298h0m374 309h0m-46-23h0m18 41h0m-403-39h0m-56-349h0m6-27h0m187 52h0m-202-177h0m283 429h0m-211-217h0m183 149h0m1 130h0m25-204h0m-75-127h0m102 152h0m-83-83h0m-138 329h0m149-299h0m231 151h0m-301-336h0m-46 189h0m-55-128h0m126 313h0m-194-443h0m108 311h0m-50-258h0m131 285h0m-170-347h0m123 505h0m-97-94h0m334-87h0m-366 82h0m49-230h0m354 230h0m-315-138h0m244 122h0m-69 72h0m105-170h0m-150-79h0m62 347h0m-133-48h0m134-176h0m-235 10h0m185-22h0m-152 127h0m202-96h0m-52-201h0m271 392h0m-402 19h0m-9-323h0m76-92h0m-89 412h0m-99-648h0m406 592h0m-23-63h0m-221-39h0m-158-497h0m43 226h0m93-59h0m78 140h0m198 124h0m-199-106h0m-83-180h0m122 244h0m-108 80h0m-96-203h0m88-79h0m-123 327h0m-9-348h0m241 236h0m-152-223h0m179 373h0m-122 35h0m-25-468h0m49 127h0m-13 200h0m196 0h0m-103 127h0m-117-45h0m194-59h0m38 107h0m-153-24h0m-191-421h0m45-32h0m425 454h0m71 79h0m-440-465h0m-33 55h0m152 335h0m-5-217h0m-203 54h0m545 197h0m-449-404h0m125 401h0m90-92h0m-183-125h0m47 17h0m-106 34h0m-87-164h0m96 127h0m372 252h0m-265-41h0m8 11h0m-97-63h0m-91-205h0m270 85h0m-256-32h0m532 238h0m-499-383h0m53 139h0m-86 114h0m30 9h0m-79-510h0m399 435h0m-350-38h0m4 76h0m378 167h0m-325-424h0m237 224h0m-117 7h0m-46-266h0m-182 210h0m391 93h0m-272-366h0m8 205h0m308 134h0m-351 122h0m505 32h0m-379 26h0m-203-136h0m449 86h0m-319-55h0m198 102h0m-326-54h0m472-43h0m-377-401h0m-9-4h0m-12-17h0m184 452h0m-87-230h0m285 127h0m-379-330h0m17 102h0m84 272h0m49-175h0m3 199h0m-52-263h0m131 97h0m-99 95h0m41 67h0m-254-374h0m219 202h0m-51 129h0m20-229h0m-201-124h0m262 488h0m66 11h0m-224-77h0m-48-338h0m212 224h0m-13 116h0m-179-223h0m289 113h0m-284 100h0m304-24h0m-341-280h0m311 232h0m-190-52h0m-23-221h0m136 441h0m4-222h0m-234-285h0m-29 362h0m28 65h0m155 100h0m187-83h0m-295 59h0m259-236h0m-331-235h0m467 383h0m4 18h0m-238 74h0m164-154h0m-384-195h0m152 60h0m5-13h0m-129-255h0m352 573h0m-289-514h0m512 493h0m-110 4h0m-77-53h0m-303-167h0m169 84h0m-84 87h0m-190-200h0m-14-344h0m461 496h0m-252-312h0m-91 94h0m272 215h0m-259-308h0m258 220h0m-261-66h0m247 108h0m-187-250h0m-189 401h0m338-92h0m19-40h0m114 60h0m-431-266h0m574 345h0m-6 10h0m-445-455h0m208 386h0m-76-67h0m-271-473h0m-40 452h0m80-49h0m226-89h0m-272 67h0m151 63h0m108 55h0m-283-507h0m-1 432h0m31 126h0m530-15h0m-403-274h0m162 59h0m-38 107h0m-281-19h0m350 73h0m-190-41h0m475 155h0m-636-126h0m470 112h0m-173-35h0m-145-219h0m162 118h0m-299 68h0m438-9h0m-237-204h0m-183 206h0m59-246h0m173-34h0m72 157h0m-29 112h0m-152-226h0m-57 314h0m-72-247h0m26 248h0m175-202h0m-119-114h0m103-8h0m-53 90h0m-132 167h0m119-391h0m-132 152h0m46-34h0m518 347h0m-382 14h0m-139-226h0m-14-179h0m18 183h0m29 10h0m330 203h0m-44-82h0m14-18h0m-353-174h0m364 45h0m-2 136h0m-177-13h0m-237-327h0m25-55h0m-20 101h0m138-79h0m72 95h0m230 266h0m79 113h0m-246-212h0m-229-174h0m-47-88h0m93 315h0m495 98h0m-556 17h0m333-38h0m-24-5h0m-170 76h0m276-91h0m108 85h0m-246-35h0m-65-345h0m-212-225h0m229 357h0m144 175h0m-409-331h0m78 176h0m-22 233h0m138-6h0m-34-474h0m-106 107h0m201 45h0m-191 168h0m153 37h0m308 26h0m9 27h0m-476-177h0m66 75h0m195-39h0m-240-352h0m7 17h0m431 565h0m-216-273h0m-113 79h0m-158-56h0m41-69h0m179 177h0m-122 62h0m-37-387h0m421 467h0m-302-169h0m420 145h0m-419-294h0m13 104h0m164 117h0m-296-333h0m218 316h0m-2-36h0m-18 63h0m-203-283h0m23-12h0m-34 131h0m-40-163h0m445 373h0m-97-137h0m89 160h0m7-1h0m58-55h0m-212-93h0m-158 21h0m-112-207h0m-11 197h0m-43-205h0m266 210h0m91-62h0m-33-129h0m-98-86h0m197 212h0m-150-21h0m-258-384h0m388 528h0m-353-296h0m273 85h0m-85 234h0m-129-387h0m154 203h0m-212-81h0m23-14h0m311 338h0m-116-70h0m-51-249h0m215 153h0m-367-123h0m270-5h0m-217-93h0m-56 59h0m16-120h0m7-64h0m490 511h0m-197-94h0m-345-520h0m40 111h0m313 335h0m-3 107h0m-384-378h0m570 443h0m-216-94h0m-345-28h0m373-129h0m-346 112h0m55 111h0m166 22h0m-150-545h0m492 567h0m-370-168h0m42 67h0m-237-5h0m317 16h0m177 68h0m-175-212h0m141 128h0m-293-87h0m-62 23h0m204-90h0m64 105h0m-325-277h0m440 327h0m-319-234h0m-124 140h0m216-126h0m-49 14h0m-41 51h0m384 221h0m-489-2h0m38-60h0m274 88h0m-416-577h0m233 530h0m-28-42h0m-205-127h0m148-262h0m306 493h0m-446-588h0m369 430h0m61 69h0m-136-61h0m-264-116h0m195-81h0m22 131h0m-97-140h0m-2-143h0m-110 129h0m-23 346h0m387-126h0m-190-163h0m-194 50h0m482 190h0m-381-462h0m-84 184h0m81 2h0m-19-130h0m147 134h0m-112-190h0m-47 395h0m162-261h0m-51 16h0m162 179h0m-226-311h0m135 272h0m-28 214h0m90 24h0m-267-373h0m118-7h0m96 312h0m330 49h0m-212 13h0m-343-607h0m155 296h0m305 160h0m-133 130h0m-110-363h0m65 172h0m-334-52h0m78 198h0m71-433h0m398 418h0m-52-41h0m-347 34h0m132-46h0m-53-109h0m-73 231h0m-32-519h0m286 309h0m-47 48h0m-97-103h0m-105 111h0m185 34h0m128-56h0m-396-260h0m453 383h0m-400-95h0m436 62h0m-571 21h0m446-111h0m-356-246h0m342 354h0m-18-15h0m-124-74h0m-193-128h0m-66 58h0m58 247h0m-42-318h0m460 232h0m-494-309h0m191 200h0m186 180h0m-254-246h0m-111-124h0m466 239h0m62 142h0m-525-332h0m307 293h0m103 3h0m-154-336h0m-73 213h0m24-238h0m32 397h0m72-243h0m-315-119h0m461 277h0m-234 59h0m-68-87h0m-25 32h0m157-204h0m-64-2h0m-213-258h0m316 470h0m43-154h0m-370-46h0m414 136h0m-388-204h0m-33 23h0m391 100h0m-296-90h0m14 27h0m187 273h0m-191-285h0m116-52h0m-205-270h0m255 598h0m16-342h0m-157 92h0m35-92h0m-66-114h0m-62 173h0m-25-328h0m36 323h0m50-20h0m426 240h0m-346-235h0m-71-139h0m-113 206h0m506 143h0m-300 39h0m-120 56h0m156-103h0m20 1h0m282 52h0m-397-370h0m49 311h0m-176-119h0m39 52h0m192-83h0m231 222h0m-364-460h0m-128 384h0m56-96h0m122-13h0m-78 200h0m126-331h0m-60 171h0m-51 78h0m-106 64h0m159-171h0m400 133h0m-294-207h0m266 198h0m-534-55h0m381-81h0m-385 235h0m176-260h0m213 227h0m-179-102h0m-161 99h0m285-120h0m-183-249h0m186 336h0m-189-370h0m192 268h0m-43-65h0m-238-151h0m26 209h0m71-213h0m218 303h0m-321-492h0m222 525h0m189-21h0m-461-238h0m17-261h0m310 253h0m-190 309h0m259-25h0m-284-293h0m296 252h0m-158-306h0m199 388h0m171-15h0m-568-320h0m-56 68h0m49-302h0m12 101h0m-22 431h0m553 26h0m-536-154h0m429 28h0m-476-439h0m248 316h0m-2 101h0m-52-218h0m116 124h0m17 32h0m-231-167h0m-105-218h0m122 383h0m-64 103h0m32-309h0m348 385h0m-441-6h0m451-141h0m-294-100h0m341 301h0m-271-53h0m93-248h0m-302 77h0m91 221h0m40-328h0m341 220h0m-338 112h0m65-138h0m28-143h0m-112 107h0m183-162h0m-208 299h0m392 20h0m161-2h0m-570-261h0m275 4h0m-363 134h0m407-6h0m-265-248h0m253 388h0m-220-122h0m337-27h0m-466-104h0m119-19h0m41 259h0m85-129h0m-204-111h0m421 108h0m-308-99h0m-56 22h0m273 44h0m-158-8h0m-117-127h0m200 15h0m-220 293h0m108-259h0m70 185h0m135-56h0m-334-291h0m-11 0h0m-24-10h0m2-161h0m291 467h0m-249-8h0m-51 144h0m-60-70h0m147-447h0m400 463h0m-198-264h0m-202-16h0m-149 126h0m218-163h0m107 303h0m-268-52h0m-26-134h0m64 252h0m236-156h0m-298 116h0m349-55h0m-192-56h0m239 59h0m-239-275h0m98-20h0m72 355h0m-262-382h0m54 318h0m-7-42h0m-75-291h0m556 383h0m-267-261h0m250 253h0m-146-120h0m-134 162h0m-335-608h0m122 531h0m234 10h0m-109-284h0m-222 17h0m241-67h0m-95 60h0m290 272h0m-438-149h0m51 167h0m326-148h0m-265 16h0m129-168h0m55 316h0m-178-417h0m5 170h0m-71 160h0m233-136h0m-233-128h0m210 50h0m110 287h0m-188-353h0m-128 183h0m242 229h0m217-77h0m-339-259h0m27-31h0m-184 330h0m-3-156h0m44 153h0m126-96h0m122-206h0m-205-168h0m44 139h0m-71 201h0m301 168h0m87-128h0m-475 45h0m633 67h0m-568-370h0m76-60h0m-60 346h0m112-34h0m-145-58h0m237-173h0m-265 346h0m264-299h0m10-41h0m-80 290h0m111-268h0m103 327h0m-204-407h0m-133 228h0m204 133h0m-266-562h0m321 511h0m-129 35h0m-134 25h0m11-160h0m48 0h0m-145-374h0m128 524h0m154-260h0m-125 15h0m129 294h0m42-98h0m31-185h0m-292 105h0m-18 152h0m51-178h0m-96-1h0m39-407h0m525 529h0m-136-5h0m-168 87h0m-208-259h0m-37 139h0m59-93h0m540 222h0m-361-183h0m135 5h0m74 174h0m-169-341h0m-281-296h0m426 502h0m-46 66h0m-241-146h0m-147-323h0m197 380h0m-7-277h0m51 56h0m-178 208h0m-52-248h0m-23 234h0m320-2h0m231 115h0m-295-71h0m5-239h0m-22 58h0m-132 183h0m390 46h0m35-22h0m-309-266h0m-186 55h0m209 307h0m-31-306h0m-148 222h0m393-2h0m-105 17h0m-39-181h0m-58-21h0m238 177h0m-90 41h0m-45-28h0m-294-206h0m267 212h0m-265-389h0m164 363h0m1-137h0m-139-189h0m481 451h0m-576-507h0m37 162h0m-15 210h0m172 82h0m-148-225h0m236 18h0m71 234h0m-253-65h0m281-121h0m-274 183h0m-16-372h0m104 75h0m88 289h0m294 33h0m-578-630h0m311 618h0m-252-472h0m-32 212h0m138-127h0m202 273h0m150 131h0m-289-36h0m-151-122h0m170-50h0m46-20h0m-27 166h0m130-161h0m-310 24h0m169-56h0m-243-281h0m507 455h0m-314 21h0m-100 8h0m-40-313h0m-64 329h0m345-81h0m-330-524h0m164 635h0m16-411h0m-149 300h0m39-111h0m14-162h0m103 170h0m-70 109h0m112 34h0m-186-428h0m135 464h0m-190-242h0m176 5h0m391 186h0m-131-34h0m-415-127h0m262-58h0m137 205h0m39 3h0m-10 93h0m131 2h0m-361-341h0m-198 41h0m57-206h0m312 396h0m-328-229h0m43 134h0m170 103h0m17-134h0m196 235h0m-442-230h0m16 234h0m198-118h0m245 107h0m-491-156h0m37 2h0m14-96h0m-68 166h0m288-31h0m161-54h0m-284 11h0m-49-211h0m-84-102h0m208 198h0m-16 60h0m-185-4h0m81 23h0m-74-64h0m89-159h0m-88-12h0m48 356h0m-86-368h0m257 316h0m-123-287h0m372 341h0m-403-88h0m61 82h0m47-113h0m128 111h0m-268-92h0m82-264h0m-160-5h0m449 363h0m-390 14h0m53-432h0m74 311h0m289 169h0m-294-70h0m267-6h0m-15-70h0m-376-414h0m166 430h0m-138-256h0m-65 391h0m131-138h0m168-173h0m144 260h0m-167-197h0m18 168h0m-74-125h0m21-116h0m34 35h0m98 162h0m-360-387h0m11 386h0m453 70h0m-329-217h0m-96-78h0m-34 263h0m172-292h0m-89 72h0m40-137h0m-45 179h0m38 180h0m-135 93h0m125-294h0m-52-90h0m289 176h0m-133 113h0m0-114h0m-227-346h0m507 558h0m-334-326h0m47 186h0m116 59h0m-343-340h0m48 109h0m429 262h0m-424-32h0m-46-149h0m-7-201h0m33 125h0m283 6h0m-18 302h0m-253-192h0m526 165h0m-454-30h0m-1-3h0m-52-174h0m150-128h0m38-7h0m-140-48h0m-25 310h0m199-71h0m-303 113h0m65-21h0m19-328h0m-10 94h0m503 291h0m-313-160h0m132-57h0m31 169h0m-204-165h0m194 100h0m-139-53h0m-231-245h0m293 290h0m161 29h0m-386 142h0m274-202h0m-304 13h0m-67-121h0m249-81h0m250 258h0m-370-206h0m-48 121h0m167-164h0m25 108h0m-54-2h0m128 107h0m-22 133h0m167-25h0m-196-243h0m-4 229h0m-236-384h0m-23 277h0m19 38h0m12-88h0m12 25h0m178 140h0m-277-244h0m453 294h0m-287-267h0m50 182h0m212-67h0m-426-204h0m263 132h0m-256-242h0m39 84h0m318 258h0m-367-291h0m76-153h0m-70 75h0m228 172h0m-105 284h0m106 47h0m203-36h0m-93-48h0m-62-3h0m344 82h0m-477-173h0m459 156h0m-168-3h0m-266-381h0m-131-81h0m356 292h0m-282 94h0m-13-365h0m9 128h0m321 259h0m-233-324h0m276 341h0m-147-183h0m-179-89h0m-127-70h0m55-97h0m8 278h0m216-26h0m14 74h0m-306-250h0m435 307h0m-254-308h0m-140 307h0m23-427h0m1 22h0m278 417h0m22-55h0m-319-40h0m181 126h0m39-281h0m323 289h0m-519-141h0m71-303h0m324 519h0m-461-556h0m163 221h0m-70 189h0m201-7h0m-46 22h0m-134-158h0m180 198h0m-85-54h0m-37-271h0m347 363h0m-396-464h0m202 436h0m-292 52h0m420-172h0m-418 112h0m395-27h0m-308-122h0m-61 54h0m14 61h0m131-10h0m-157-407h0m368 471h0m66-73h0m-316-226h0m-34-76h0m340 390h0m42 47h0m-345-466h0m334 314h0m-377-312h0m52 27h0m-115-106h0m468 471h0m-547-429h0m579 434h0m-439-144h0m62-114h0m-78-198h0m-108-77h0m250 565h0m-195-470h0m-47 255h0m112-189h0m-100 98h0m-23 65h0m65 232h0m17 2h0m437-92h0m-493-416h0m324 506h0m-199-359h0m238 382h0m-310-408h0m248 317h0m125 12h0m-69-155h0m86 241h0m-321-231h0m-124-315h0m298 318h0m-309-304h0m78 91h0m373 460h0m-65-135h0m-179 107h0m-127-169h0m-98-196h0m87 15h0m22-37h0m233 164h0m30-31h0m-269 19h0m105 142h0m-201-272h0m248 386h0m-48-71h0m54-35h0m179 69h0m-206-210h0m314 229h0m-405-18h0m-44-454h0m-75 346h0m370 81h0m-36 57h0m-25-228h0m-317-414h0m381 410h0m-276-34h0m-75-137h0m13 418h0m44-408h0m89-36h0m-25 138h0m29 162h0m-34-65h0m44 158h0m-12-215h0m369 164h0m-303 80h0m-198-260h0m260 53h0m-271-288h0m214 300h0m-132-53h0m174 119h0m-180 105h0m45-31h0m123-232h0m-155-186h0m-53 282h0m269 144h0m-278 51h0m30-87h0m-18-389h0m268 365h0m13 93h0m-305-244h0m182 172h0m-132-301h0m190 371h0m-44-27h0m-245-230h0m211-27h0m7 45h0m136-13h0m-218-218h0m-103 39h0m180 434h0m29-357h0m-44 211h0m372 167h0m-391-261h0m82 221h0m50-174h0m-162-35h0m-118 194h0m80-460h0m34 287h0m129-76h0m-54 141h0m-73-27h0m68 141h0m-78-290h0m161 108h0m-236-285h0m-22 463h0m322-164h0m-200 136h0m-28-195h0m412 201h0m-475-348h0m-60 376h0m46-366h0m38 64h0m328 328h0m-352-546h0m43 309h0m0-134h0m69 224h0m53-153h0m-74 312h0m59-121h0m-216-382h0m325 421h0m-148-283h0m205 205h0m-363-192h0m441 323h0m-447-328h0m7 377h0m455-84h0m-394-359h0m21 196h0m319 85h0m-175 79h0m229-90h0m-317 116h0m12-247h0m154-13h0m41 206h0m-48 98h0m-216-251h0m108 176h0m226-24h0m64 35h0m-393-348h0m399 422h0m-492-623h0m92 390h0m328 170h0m-328-434h0m-128 298h0m275-59h0m-225 27h0m270-117h0m-318 351h0m118-290h0m149 229h0m193 22h0m-303 23h0m-115-519h0m131 92h0m104 392h0m-41-299h0m55 261h0m-75-145h0m-13 70h0m-207-493h0m220 621h0m-104-210h0m-72-200h0m55 148h0m131 85h0m-182-177h0m-13 283h0m348-166h0m-284 77h0m-86 130h0m166-290h0m281 235h0m-11-15h0m-407 49h0m-11-439h0m211 348h0m331 122h0m-551-367h0m563 414h0m-141-63h0m-185-328h0m-102-108h0m-26 395h0m206-193h0m-57 214h0m-4-276h0m85 255h0m-69-51h0m152-42h0m-353 191h0m87-256h0m37-123h0m87 290h0m45-67h0m-353-216h0m125 191h0m-54-79h0m-63-303h0m361 294h0m-188-60h0m-75 281h0m10-348h0m163 299h0m-278-1h0m314 97h0m-5-235h0m-50 204h0m-158-69h0m54 72h0m515 44h0m-585-456h0m36 129h0m232 63h0m261 245h0m-606-537h0m452 489h0m-329-424h0m31 0h0m59 133h0m-42-32h0m190 155h0m-116 110h0m-125 95h0m38-367h0m30 255h0m-40-339h0m-67 144h0m174-53h0m-136 274h0m317 99h0m-131-322h0m-159 308h0m-98-503h0m419 351h0m-338 23h0m7-67h0m31-255h0m-136 455h0m297-315h0m-263 192h0m-19-459h0m244 291h0m-143-128h0m283 258h0m-230-202h0m65-14h0m-64 134h0m-125 152h0m-85-355h0m225 460h0m-191-350h0m580 315h0m-192-98h0m151 42h0m-457-117h0m-42-359h0m172 474h0m169-74h0m5-33h0m-403 179h0m176-351h0m-100-104h0m254 167h0m156 276h0m-256-332h0m-137-64h0m45 59h0m222 187h0m-20 161h0m-213-174h0m269-54h0m127 190h0m-155-106h0m-382-295h0m329 183h0m-172 210h0m370 73h0m-370-184h0m132 60h0m-254-199h0m369 227h0m-274-262h0m-122 218h0m139 1h0m222-61h0m17 142h0m22-111h0m36 167h0m175 10h0m-543-257h0m-55-231h0m187 83h0m267 248h0m-316-61h0m-159-229h0m126 366h0m187-172h0m-195-175h0m264 372h0m3 43h0m-314-523h0m148 294h0m184 157h0m-236 46h0m160-125h0m-93 94h0m-152-474h0m390 501h0m-428-96h0m76-184h0m-73 8h0m415 286h0m11-77h0m-350-354h0m102 264h0m162-30h0m-311-14h0m519 241h0m-316-52h0m-114-73h0m-67-333h0m111 40h0m-81 201h0m-32-201h0m-41 346h0m258-13h0m-107-358h0m-88 190h0m178-52h0m-229-214h0m360 281h0m139 175h0m-538-401h0m410 297h0m-395 3h0m71-137h0m123-136h0m127 126h0m-65 165h0m-226-87h0m554 203h0m-462-190h0m228-37h0m-175 120h0m-198-132h0m392 258h0m-23-111h0m-241-161h0m70-138h0m-54 397h0m262-100h0m-382-395h0m330 388h0m-283 56h0m260-188h0m91 260h0m-35-131h0m24-67h0m-121-88h0m-258 287h0m22-578h0m367 399h0m21 84h0m-107 33h0m-85 54h0m-134-323h0m46-161h0m-117 147h0m35 250h0m243-159h0m-66 44h0m-190-163h0m40 349h0m244-82h0m22 26h0m-272-280h0m-82 7h0m-9 350h0m-27-574h0m219 468h0m-47-37h0m74 39h0m-208-220h0m39-186h0m-46 271h0m387 15h0m-351-195h0m1 149h0m342 226h0m-387-210h0m126 38h0m221-83h0m-140-36h0m-109 113h0m-82-82h0m-39 181h0m58-66h0m220-74h0m-262-15h0m335 171h0m-181 73h0m304-152h0m-433-259h0m295 303h0m-325-333h0m505 324h0m-520-13h0m548 138h0m-493 18h0m191-392h0m52 162h0m-88 195h0m280 47h0m-318-100h0m96-177h0m-235 169h0m125-185h0m466 270h0m-38-28h0m-441-246h0m482 276h0m-390-120h0m200 113h0m-344-410h0m82 440h0m-69-29h0m1-378h0m207 310h0m121-116h0m-127 42h0m-249-429h0m282 600h0m-312-1h0m341-68h0m-87-166h0m166 31h0m-393 22h0m188-201h0m-139 64h0m-27 293h0m56-284h0m85 88h0m-136-272h0m384 388h0m84 6h0m-181-113h0m-73 203h0m-18-149h0m151 104h0m-80-245h0m-270 293h0m-69-545h0m59 111h0m182 382h0m-190 38h0m383-97h0m-183-91h0m-96 203h0m-155-232h0m431 40h0m-159-157h0m278 259h0m-337-94h0m-80-254h0m-126-22h0m100 351h0m-85-76h0m-19-277h0m231 364h0m67-63h0m212 78h0m-356-340h0m151 322h0m124-101h0m132 119h0m-555 24h0m89 53h0m120-26h0m-192-265h0m268 193h0m3 72h0m-285-411h0m104 165h0m-22 56h0m61 219h0m-5-209h0m-7 55h0m-83-241h0m57-10h0m180 216h0m-249-115h0m420 279h0m-352-299h0m-119-110h0m271 71h0m-265 93h0m116 7h0m71-17h0m-57-59h0m46 239h0m-53-303h0m267 174h0m-232-185h0m-8 250h0m329 123h0m-403-216h0m43 62h0m98-80h0m61 87h0m-236-38h0m146-226h0m-127 33h0m412 335h0m-272 40h0m144-102h0m250 145h0m-600-333h0m540 336h0m-23-36h0m-7-21h0m-399-362h0m53 30h0m175 207h0m-175-309h0m-93 471h0m496 20h0m-275-184h0m26 148h0m276 30h0m-120-82h0m-486-498h0m386 320h0m30 244h0m-346-256h0m44-216h0m-69 393h0m240-74h0m-117 176h0m-123-56h0m192-85h0m-78-159h0m-45 251h0m71-58h0m102-8h0m-198-248h0m330 309h0m41-51h0m59 37h0m-224-114h0m-189 179h0m212 8h0m-217-70h0m205 11h0m-175-310h0m29 35h0m-96 249h0m167-136h0m307 206h0m-424-316h0m24-190h0m-115 81h0m67 71h0m-79 275h0m535-33h0m-483-30h0m30-354h0m352 314h0m-149 163h0m-232-582h0m-51 16h0m385 322h0m-322 230h0m250-139h0m230 141h0m-515-139h0m318-26h0m-160 110h0m-151-341h0m498 391h0m-442-234h0m-6-285h0m54 382h0m-46 141h0m65-283h0m73 93h0m-8 143h0m280 31h0m-368-438h0m7 37h0m-131-177h0m302 503h0m-220-89h0m-8 74h0m76-135h0m228 191h0m-44-75h0m-138-197h0m275 234h0m-401-243h0m81 27h0m-50 237h0m-111-303h0m414 249h0m-163 2h0m-201 11h0m154-206h0m56 80h0m216 203h0m-425-6h0m178-141h0m-44 155h0m-196-205h0m293 232h0m-35-287h0m118 147h0m-171-284h0m331 381h0m9-11h0m-286 93h0m-61-325h0m-47 128h0m168 161h0m-124-334h0m204 306h0m-246-132h0m-2-241h0m-5 109h0m-10 270h0m-110 38h0m599-17h0m-471-108h0m226 26h0m-235-6h0m-65-234h0m209 23h0m-251 215h0m405 6h0m-121-211h0m-25 270h0m-213-187h0m-19 134h0m205-221h0m-177 194h0m74 75h0m-137-211h0m-18-191h0m257 408h0m-66-6h0m-107-372h0m115 147h0m420 292h0m-528-566h0m214 321h0m-251 206h0m266-80h0m36-117h0m-118 1h0m21 26h0m-7 18h0m-7-30h0m-206 44h0m103-275h0m206 198h0m127 65h0m-66-53h0m47 227h0m92-68h0m-456-223h0m-2 107h0m195-40h0m-137 25h0m-50 189h0m-93-213h0m110 118h0m218-21h0m-185 75h0m346 49h0m118-22h0m-538-326h0m-80 186h0m98-307h0m381 387h0m-299-127h0m-169 27h0m422 39h0m-154 35h0m136-133h0m-344 149h0m362 73h0m-282-113h0m-37-134h0m-104-333h0m305 419h0m-61 178h0m78 6h0m-237-524h0m33 405h0m243 117h0m-298-546h0m144 198h0m-22 11h0m-96 113h0m190-26h0m232 190h0m-509-496h0m256 426h0m101 38h0m-74-5h0m183 93h0m-384-139h0m35-336h0m136 399h0m-5-142h0m-5-119h0m-145-5h0m-66 122h0m301 33h0m-199 36h0m258-86h0m-403-113h0m293 328h0m51-150h0m-196 23h0m-145-38h0m130-190h0m-125 335h0m-19-367h0m426 329h0m150 58h0m-2-44h0m-534-37h0m321 69h0m-305-528h0m-32 519h0m392 31h0m-324-372h0m381 235h0m-394-286h0m-7 219h0m265 201h0m122-32h0m-132-191h0m-232-291h0m318 502h0m-349-437h0m-45 185h0m156-186h0m274 437h0m-231-182h0m0-5h0m271 113h0m-405-213h0m230 107h0m240 187h0m-505-242h0m-34 6h0m14-6h0m486 168h0m-439-207h0m163-44h0m146 135h0m-252 96h0m73-327h0m-127-121h0m-24 549h0m-36-508h0m0 346h0m447 100h0m-263-90h0m-45-189h0m122 320h0m-125 30h0m61-179h0m8-163h0m247 361h0m-373-524h0m-11-68h0m151 177h0m0 389h0m316-57h0m-37 69h0m36-19h0m-352-242h0m-113 136h0m-78-103h0m234-41h0m-151-88h0m2 161h0m337 183h0m-338-336h0m115 332h0m-93-208h0m-92 127h0m288-221h0m-54 191h0m128-70h0m-336-316h0m-23 29h0m-13 260h0m1 218h0m530-15h0m-291-358h0m-35 47h0m63 32h0m188 320h0m-428-367h0m353 246h0m51-49h0m-235-208h0m319 305h0m-170-227h0m147 127h0m-155 30h0m193 11h0m-541-244h0m21-228h0m264 309h0m-26 57h0m-250 65h0m156-27h0m270 14h0m-184-120h0m-2-5h0m-215 73h0m-38-272h0m4 10h0m237 444h0m-98-449h0m-46 51h0m378 282h0m56 18h0m-329-201h0m-103 265h0m-45 47h0m208-315h0m330 301h0m-364-119h0m159 86h0m-315-258h0m184 170h0m-1-46h0m237 98h0m-487 2h0m-4-261h0m206 312h0m-13-237h0m91 288h0m-113-323h0m97 60h0m-118-217h0m-130-116h0m81 454h0m-53 78h0m341 7h0m-209 54h0m81-206h0m-70-110h0m199 220h0m-233-401h0m398 488h0m-55-4h0m-484-36h0m258-314h0m-118 155h0m-24-271h0m314 343h0m-252 114h0m-76-10h0m351-45h0m-147-174h0m-241-80h0m161 32h0" fill="none" stroke="#1204f7" stroke-width="9.6" stroke-linecap="round"/>
<path d="M749.6 35.5C750.6 37.6 753.5 44.2 755.6 48.4C757.8 52.6 758.9 54.9 762.6 60.5C766.2 66.1 771.1 74.1 777.2 82C783.4 89.9 787.5 95.3 799.7 107.9C812 120.5 833.6 140.6 850.7 157.5C867.9 174.4 885.3 191.9 902.6 209.2C919.9 226.4 937.3 243.7 954.5 261C971.6 278.3 993.2 300 1005.5 313.2C1017.7 326.3 1021.6 331.6 1028 339.9C1034.3 348.3 1039.8 357.2 1043.5 363.2C1047.3 369.2 1048.4 371.4 1050.4 376.1C1052.4 380.9 1054.8 389.1 1055.6 391.7" fill="none" stroke="#f18422" stroke-width="5.3" clip-path="url(#cBl)"/>
<path d="M747 393.4v-2.8M747 34.4v2.8M764.3 393.4v-2.8M764.3 34.4v2.8M781.6 393.4v-2.8M781.6 34.4v2.8M798.9 393.4v-2.8M798.9 34.4v2.8M833.4 393.4v-2.8M833.4 34.4v2.8M850.7 393.4v-2.8M850.7 34.4v2.8M868 393.4v-2.8M868 34.4v2.8M885.3 393.4v-2.8M885.3 34.4v2.8M919.9 393.4v-2.8M919.9 34.4v2.8M937.2 393.4v-2.8M937.2 34.4v2.8M954.5 393.4v-2.8M954.5 34.4v2.8M971.8 393.4v-2.8M971.8 34.4v2.8M1006.3 393.4v-2.8M1006.3 34.4v2.8M1023.6 393.4v-2.8M1023.6 34.4v2.8M1040.9 393.4v-2.8M1040.9 34.4v2.8M1058.2 393.4v-2.8M1058.2 34.4v2.8M722.6 369.2h2.8M1083 369.2h-2.8M722.6 352h2.8M1083 352h-2.8M722.6 334.8h2.8M1083 334.8h-2.8M722.6 317.5h2.8M1083 317.5h-2.8M722.6 283h2.8M1083 283h-2.8M722.6 265.8h2.8M1083 265.8h-2.8M722.6 248.5h2.8M1083 248.5h-2.8M722.6 231.2h2.8M1083 231.2h-2.8M722.6 196.8h2.8M1083 196.8h-2.8M722.6 179.5h2.8M1083 179.5h-2.8M722.6 162.2h2.8M1083 162.2h-2.8M722.6 145h2.8M1083 145h-2.8M722.6 110.5h2.8M1083 110.5h-2.8M722.6 93.2h2.8M1083 93.2h-2.8M722.6 76h2.8M1083 76h-2.8M722.6 58.8h2.8M1083 58.8h-2.8M729.7 393.4v-5M729.7 34.4v5M816.2 393.4v-5M816.2 34.4v5M902.6 393.4v-5M902.6 34.4v5M989 393.4v-5M989 34.4v5M1075.5 393.4v-5M1075.5 34.4v5M722.6 386.5h5M1083 386.5h-5M722.6 300.2h5M1083 300.2h-5M722.6 214h5M1083 214h-5M722.6 127.8h5M1083 127.8h-5M722.6 41.5h5M1083 41.5h-5" stroke="#505050" stroke-width="0.9" fill="none"/>
<rect x="722.6" y="34.4" width="360.4" height="359" fill="none" stroke="#505050" stroke-width="1"/>
<text x="729.7" y="416.4" font-size="21.6" text-anchor="middle">−<tspan dx="2.6">20</tspan></text>
<text x="816.2" y="416.4" font-size="21.6" text-anchor="middle">−<tspan dx="2.6">10</tspan></text>
<text x="902.6" y="416.4" font-size="21.6" text-anchor="middle">0</text>
<text x="989" y="416.4" font-size="21.6" text-anchor="middle">10</text>
<text x="1075.5" y="416.4" font-size="21.6" text-anchor="middle">20</text>
<text x="717.1" y="393" font-size="21.6" text-anchor="end">−<tspan dx="2.6">20</tspan></text>
<text x="717.1" y="306.8" font-size="21.6" text-anchor="end">−<tspan dx="2.6">10</tspan></text>
<text x="717.1" y="220.5" font-size="21.6" text-anchor="end">0</text>
<text x="717.1" y="134.2" font-size="21.6" text-anchor="end">10</text>
<text x="717.1" y="48" font-size="21.6" text-anchor="end">20</text>
<text x="902.4" y="449.5" font-size="22.5" font-style="italic" text-anchor="middle">F<tspan font-size="16.2" dy="5">a</tspan></text>
<text transform="translate(663.5 215) rotate(-90)" font-size="22.5" font-style="italic" text-anchor="middle">F<tspan font-size="16.2" dy="5">b</tspan></text>
<text x="1406.5" y="18.8" font-size="24.5" text-anchor="middle" textLength="301" lengthAdjust="spacingAndGlyphs">Failed classification (M = 1)</text>
<text x="1140.8" y="61.2" font-size="37" letter-spacing="1">C)</text>
<g clip-path="url(#cC)">
<rect x="1234.7" y="41.2" width="345" height="345.3" fill="#edb06f"/>
<g mask="url(#mCx)">
<rect x="1234.7" y="41.2" width="345" height="345.3" fill="#7d79fc" mask="url(#mCy)"/>
</g>
<path d="M1232.1 119.8L1236 119.8L1239.9 119.8L1243.8 119.8L1247.6 119.8L1251.5 119.8L1255.4 119.8L1259.3 119.8L1263.2 119.8L1267 119.8L1270.9 119.8L1274.8 119.8L1278.7 119.8L1282.6 119.8L1286.4 119.8L1290.3 119.8L1294.2 119.8L1298.1 119.8L1302 119.8L1305.8 119.8L1309.7 119.8L1313.6 119.8L1317.5 119.8L1321.4 119.8L1325.2 119.8L1329.1 119.8L1333 119.8L1336.9 119.8L1340.7 119.8L1344.6 119.8L1348.5 119.8L1352.4 119.8L1356.2 119.8L1360.1 119.8L1364 119.9L1367.8 119.9L1371.7 119.9L1375.6 119.9L1379.4 119.9L1383.3 120L1387.1 120L1391 120L1394.8 120.1L1398.6 120.1L1402.5 120.2L1406.3 120.2L1410.1 120.3L1413.9 120.4L1417.6 120.5L1421.4 120.6L1425.1 120.8L1428.9 121L1432.6 121.1L1436.2 121.4L1439.8 121.6L1443.4 121.9L1447 122.2L1450.5 122.6L1453.9 123L1457.3 123.5L1460.6 124.1L1463.9 124.7L1467 125.5L1470.1 126.3L1473.1 127.2L1475.9 128.2L1478.7 129.4L1481.3 130.6L1483.8 132L1486.1 133.6L1488.3 135.2L1490.4 137.1L1492.3 139L1494.1 141.1L1495.7 143.4L1497.2 145.8L1498.5 148.3L1499.8 151L1500.9 153.8L1501.9 156.7L1502.7 159.7L1503.5 162.8L1504.2 166L1504.8 169.2L1505.4 172.6L1505.8 176L1506.3 179.5L1506.6 183L1506.9 186.5L1507.2 190.2L1507.4 193.8L1507.7 197.5L1507.8 201.2L1508 204.9L1508.1 208.7L1508.2 212.4L1508.3 216.2L1508.4 220L1508.5 223.8L1508.6 227.6L1508.6 231.5L1508.7 235.3L1508.7 239.1L1508.8 243L1508.8 246.8L1508.8 250.7L1508.8 254.6L1508.9 258.4L1508.9 262.3L1508.9 266.2L1508.9 270L1508.9 273.9L1508.9 277.8L1508.9 281.7L1508.9 285.5L1508.9 289.4L1508.9 293.3L1508.9 297.2L1509 301.1L1509 304.9L1509 308.8L1509 312.7L1509 316.6L1509 320.5L1509 324.4L1509 328.2L1509 332.1L1509 336L1509 339.9L1509 343.8L1509 347.7L1509 351.5L1509 355.4L1509 359.3L1509 363.2L1509 367.1L1509 371L1509 374.8L1509 378.7L1509 382.6L1509 386.5" fill="none" stroke="#fff" stroke-opacity=".2" stroke-width="30" filter="url(#b12)" transform="translate(-6 6)"/>
</g>
<path transform="scale(.5)" d="M2578 547h0m326-336h0m-418 264h0m271-257h0m249 198h0m54-317h0m-8 249h0m-71-19h0m157 283h0m14-528h0m-405 645h0m188 26h0m-357-228h0m326-432h0m-207 498h0m376 132h0m-511-174h0m19-306h0m334-18h0m-60 492h0m-354-66h0m381 18h0m-277-163h0m434-153h0m-63-34h0m-397 332h0m-109 43h0m600-18h0m-266-37h0m-46-38h0m143-13h0m-127-331h0m261-31h0m-433 174h0m-48-61h0m504-6h0m-452-113h0m76 550h0m297-185h0m-490-362h0m339-142h0m-136 207h0m424-86h0m-283 441h0m-9 102h0m90-622h0m108 480h0m-351-23h0m-185-248h0m292-144h0m-163 416h0m351 45h0m10 68h0m169-493h0m-22 96h0m-491-17h0m103 284h0m250 47h0m-503-366h0m555-50h0m-115 354h0m-240-18h0m394-331h0m-285-7h0m-158 436h0m397-62h0m71-343h0m-531 36h0m552 225h0m-537-289h0m358 75h0m128 134h0m82 198h0m-614-135h0m245 202h0m282-278h0m-317 306h0m-161 44h0m215-659h0m-303 571h0m92-127h0m466-389h0m-12 553h0m-21-341h0m-514 53h0m193-278h0m405 515h0m-204 72h0m-231-588h0m99 585h0m311-198h0m-28 190h0m-518-570h0m474 578h0m-322-570h0m428 576h0m-259 22h0m193-559h0m-525 443h0m108-502h0m63 482h0m156-424h0m-293 17h0m216-132h0m-85 138h0m-51 404h0m66-376h0m411 229h0m-582-113h0m63 297h0m475-538h0m-87 3h0m-463 104h0m43 90h0m16-35h0m53 230h0m85-381h0m-137 41h0m-70 560h0m225-525h0m288 143h0m-335-263h0m416 250h0m-423-226h0m314 166h0m-4 178h0m-70-326h0m-90 114h0m-221 39h0m247-151h0m-385 503h0m649 6h0m0 17h0m-66-79h0m-386 159h0m441-547h0m-15 491h0m-513 65h0m150-163h0m118 78h0m-40-10h0m-326-224h0m163-297h0m312 128h0m-318 341h0m-147-104h0m461 221h0m-234-149h0m351-375h0m-153-15h0m-284 60h0m260 478h0m143-426h0m-448 129h0m163-211h0m-145 225h0m-61 301h0m197-54h0m5-529h0m298 580h0m-572-265h0m148 205h0m-120-292h0m-24 352h0m352-641h0m103 99h0m-336 315h0m-43 24h0m417-45h0m-471 266h0m0-356h0m609-53h0m-29 213h0m-577 175h0m612-421h0m-268-117h0m128 299h0m71-4h0m-265 124h0m-86-357h0m-209-167h0m484 559h0m-29-59h0m-6-306h0m-27-54h0m-270 125h0m-55 234h0m457 45h0m-10-439h0m-387 179h0m58-149h0m-134 483h0m412-351h0m145-167h0m-578 186h0m-32-210h0m250 518h0m371-570h0m-528 456h0m-1-283h0m135-181h0m-93 468h0m213-480h0m-322 498h0m-13-316h0m592 139h0m-518-182h0m22-101h0m-2-19h0m-97 119h0m9-29h0m152 548h0m-107-308h0m515-318h0m-235 13h0m162 301h0m-467-303h0m476 390h0m-282-303h0m-53 456h0m378-591h0m-404 10h0m74 496h0m-109-17h0m59 133h0m-139-483h0m-68 191h0m549-2h0m51 172h0m-93-135h0m-245 307h0m-84-107h0m30-88h0m-146-475h0m486 422h0m-275-357h0m-160 105h0m152-170h0m44 117h0m189-86h0m-406 549h0m233-440h0m183 299h0m34-29h0m-457 195h0m147-23h0m233-370h0m-251 318h0m-53-95h0m-129-187h0m392 284h0m-241-478h0m-143 135h0m65 64h0m534 183h0m-25-176h0m-55 313h0m-26-574h0m72 198h0m-508-46h0m425-57h0m107 268h0m-227 143h0m-328 154h0m36-85h0m399-214h0m26 278h0m-281-493h0m-273 289h0m636 36h0m-30-342h0m35 278h0m41-183h0m-494 435h0m-101-191h0m487-473h0m-13 214h0m-378 383h0m230-566h0m-350 14h0m38 190h0m569 441h0m-69-276h0m-482 21h0m331 143h0m19-47h0m-451-459h0m647 439h0m-245 180h0m-91-576h0m-136 432h0m-5 124h0m237-625h0m-293 432h0m351-262h0m-424 410h0m207-484h0m-71-22h0m-194 389h0m479 25h0m132 73h0m-447-191h0m287-330h0m-374 360h0m509-95h0m-118 165h0m-258 144h0m217-587h0m117 176h0m-248-146h0m-2 468h0m-268-485h0m228 51h0m384 436h0m-170-23h0m-212 120h0m308-277h0m-377 227h0m99-481h0m-88 371h0m82 35h0m-185-476h0m1 401h0m428-141h0m93 165h0m-355 58h0m-123-314h0m53 247h0m-6 60h0m342-25h0m-431-370h0m215 27h0m209 447h0m-41-543h0m-407 53h0m321 501h0m249-276h0m-53-20h0m-428 12h0m417 336h0m98-620h0m-34 337h0m-45-207h0m-516 124h0m216-259h0m155 433h0m145-280h0m-26 266h0m-288-421h0m197 612h0m106-253h0m-395-235h0m392 3h0m-546 359h0m20-124h0m191-404h0m-97 77h0m510 331h0m-251 121h0m-358-454h0m108 294h0m431 304h0m-516-474h0m-61 114h0m154-200h0m-151-94h0m120 188h0m198 386h0m235 23h0m-257-524h0m-236 26h0m253 515h0m316-244h0m-11 97h0m-493 142h0m323-555h0m63 505h0m136-249h0m-548-110h0m523-151h0m-297 453h0m334-456h0m-54 22h0m-401 2h0m333 256h0m-519-326h0m437 561h0m-472 35h0m36-51h0m498-461h0m-390 280h0m483-162h0m-507 321h0m414-278h0m-112 401h0m-292-388h0m447 269h0m-217 93h0m79-611h0m40 105h0m-236 534h0m-55-674h0m-139 457h0m560-74h0m-375 262h0m255-177h0m-349 141h0m370-208h0m-184 199h0m353-510h0m-576-53h0m407 562h0m-429-12h0m263-440h0m-342 312h0m38 44h0m579 4h0m-110 54h0m-485-496h0m31 164h0m16 312h0m508-541h0m-6 164h0m-160 20h0m114 204h0m-439-163h0m407 270h0m-293-309h0m235 364h0m-335 51h0m448-398h0m-501-6h0m55 300h0m91 170h0m-52-358h0m427-137h0m33 492h0m-33-71h0m-136-38h0m6 11h0m194-414h0m-188-121h0m-427 638h0m497-73h0m-134-512h0m158 128h0m-399 466h0m206-676h0m-193 469h0m250 181h0m-31-37h0m101-25h0m-459-348h0m526 162h0m-460 77h0m244 94h0m349-444h0m-127 305h0m80 249h0m-445-684h0m161 28h0m258 404h0m-12-191h0m-183 384h0m-235 28h0m191-127h0m233-487h0m-101 559h0m70-273h0m-500 210h0m62-510h0m485 610h0m-284-476h0m317 202h0m-317 208h0m176-126h0m-497-97h0m387 340h0m283-66h0m-115-218h0m-399-387h0m39 555h0m133-46h0m54-443h0m-358 86h0m17 426h0m-39-159h0m577-292h0m-546 160h0m412 287h0m79-487h0m-476-47h0m-2 107h0m-34 116h0m583 297h0m-501-192h0m573-89h0m-66 295h0m-542-313h0m335-146h0m120 412h0m-216 97h0m-271-220h0m112-370h0m29 456h0m128-351h0m-294-34h0m50 478h0m346-537h0m273 231h0m-502-199h0m187 51h0m168-40h0m-504 172h0m-18 153h0m296 115h0m-222-412h0m136-4h0m-118 504h0m444-431h0m-345-147h0m246 74h0m-39 460h0m74 41h0m-371-558h0m489-12h0m-260 612h0m154-603h0m-476 167h0m66 290h0m17-269h0m-80-216h0m641 18h0m7 466h0m-592-78h0m163 64h0m-221-159h0m598-285h0m69 487h0m-483 46h0m0 29h0m232-111h0m-76 58h0m236-328h0m-152-188h0m-362 198h0m146 289h0m369-384h0m47-52h0m-590 315h0m486-155h0m-389 351h0m5-388h0m129 299h0m-227-283h0m410 225h0m124-41h0m-359-385h0m-141 97h0m156 473h0m-140-407h0m-36 425h0m182-560h0m-238 427h0m427-8h0m2-439h0m-257 140h0m-118-7h0m588-166h0m-15 7h0m-325 606h0m248 17h0m95-104h0m-68 61h0m-13-305h0m-495 295h0m408-595h0m197 642h0m-446-504h0m12 418h0m-250-107h0m561-97h0m-436 183h0m206-539h0m-224 44h0m539 296h0m-57 76h0m-72-127h0m97-36h0m-168-89h0m-394 423h0m-9-529h0m469 578h0m-319-593h0m295 495h0m95-429h0m-526 507h0m515-398h0m-370-33h0m328 48h0m-362-126h0m474 579h0m-628-447h0m506 19h0m63 117h0m-159 175h0m-295-96h0m-62-48h0m459-282h0m-28 52h0m35 160h0m136 143h0m-257-393h0m236 575h0m26-222h0m-146-86h0m-420 304h0m575-263h0m-346 195h0m4 57h0m126-644h0m118 110h0m-399 344h0m328-218h0m55 285h0m-301-447h0m335 309h0m-378 104h0m325-105h0m59-214h0m-363-20h0m-34 500h0m-88-633h0m10 310h0m455-263h0m-402 585h0m-6-555h0m9 529h0m-1 64h0m448-164h0m40-467h0m-156 178h0m15 228h0m-300-271h0m323 222h0m-201 214h0m-219-380h0m357-163h0m-234 537h0m291-390h0m-405-77h0m-152 186h0m97-204h0m-25-60h0m56 104h0m545 372h0m-225 50h0m-351-592h0m460 18h0m-377 230h0m403-10h0m79 427h0m-7-607h0m-253-7h0m-114 529h0m-284-96h0m198-404h0m366 388h0m-321-337h0m205-46h0m223 102h0m-129 284h0m-384-385h0m475 96h0m-493-70h0m347-38h0m180-74h0m-141 613h0m-247 47h0m-171-532h0m168 16h0m-251 110h0m98 416h0m35-203h0m-56-371h0m262 478h0m-270 87h0m-37-659h0m-15 300h0m563 295h0m-556-174h0m607-332h0m-20 3h0m-30 52h0m-596 298h0m505 106h0m169-408h0m-579-79h0m102-58h0m261 152h0m-349 274h0m510 8h0m-522 109h0m404-384h0m82 481h0m-55-45h0m21-400h0m-284 301h0m-160 61h0m249-492h0m-149 583h0m-120-581h0m-38 102h0m184 390h0m126-438h0m307 470h0m-544-252h0m-122-128h0m193-224h0m117 29h0m76 46h0m-167-31h0m398 562h0m-482 46h0m33-43h0m-4-394h0m490 441h0m-338-109h0m-87 104h0m-208-398h0m520 274h0m24-13h0m78-502h0m-519 375h0m-111 113h0m96-279h0m-75-32h0m549 136h0m-398 300h0m378-118h0m-377-374h0m-128 361h0m116 81h0m483-406h0m-231-111h0m115 24h0m-201-10h0m284-4h0m-46-51h0m90 83h0m-99 153h0m-101 226h0m92-482h0m43 538h0m-149-69h0m-413-308h0m613 499h0m-392-578h0m337 245h0m-365-168h0m23 393h0m100-403h0m-141 29h0m-155-95h0m574 74h0m-219-127h0m-379 346h0m62 263h0m1-419h0m520-55h0m-100 97h0m-328-216h0m-134 520h0m418-353h0m-323 206h0m460 261h0m-21-679h0m-494 155h0m576-53h0m-19 509h0m-614-491h0m146 373h0m379-392h0m-397-64h0m-134 301h0m204-170h0m-116-56h0m353 131h0m-286-237h0m-127 612h0m453-293h0m44-161h0m-193-50h0m17 543h0m-359-133h0m370 56h0m-5-519h0m-251 557h0m347-529h0m-413 466h0m281-466h0m-304 248h0m520-203h0m-306-104h0m387-24h0m-354 626h0m224-554h0m-501 365h0m186 101h0m328-337h0m-503 387h0m489-288h0m-384-89h0m89-103h0m273-65h0m115 453h0m-53-70h0m101-395h0m-666 278h0m461-259h0m91 214h0m89 66h0m-533 44h0m-93-291h0m136 460h0m302-64h0m-100-334h0m61 394h0m214-445h0m-43 30h0m-472 392h0m-77 87h0m402-505h0m-440 181h0m138-181h0m488-66h0m-363 525h0m235-325h0m-50 275h0m-377-168h0m436 260h0m6-469h0m-510 283h0m651 168h0m-589 18h0m614-37h0m-566-92h0m438-428h0m49 400h0m-507 152h0m-98-43h0m177-492h0m-148 512h0m16-33h0m525-257h0m-554 148h0m166 222h0m-130-256h0m44 139h0m529-248h0m-25 55h0m-523 255h0m496-378h0m25 319h0m-428-413h0m-28 213h0m108 318h0m286-659h0m147 517h0m-312 165h0m-93-581h0m-111 60h0m318-165h0m-85 593h0m-161-452h0m246-129h0m52 32h0m-410 435h0m140 176h0m246-393h0m-469 265h0m28-249h0m463 390h0m-13-571h0m-378 348h0m123 211h0m202-152h0m-120-430h0m189 483h0m-397-44h0m435 48h0m-350-28h0m274-391h0m-377 400h0m308-529h0m-322 441h0m-29-142h0m511-63h0m26-236h0m-367 86h0m152 66h0m-220 105h0m361 115h0m-336 234h0m393-240h0m49 258h0m-463-449h0m230 345h0m-260-170h0m508 323h0m-358-662h0m46 527h0m-112-370h0m32-129h0m-213 310h0m587 103h0m-42 168h0m-75-150h0m158-107h0m-90 39h0m-173 124h0m-409-275h0m645-111h0m-124 265h0m-172 112h0m69 24h0m67-527h0m-123 67h0m-135 542h0m-190-32h0m221-481h0m-209 232h0m537-305h0m-50 360h0m-75-319h0m135 583h0m47-336h0m-466-220h0m336 207h0m-266 250h0m13-420h0m-165 178h0m45 15h0m448-204h0m-496 346h0m571-80h0m-143 40h0m-10-220h0m-152-64h0m-274-116h0m24 44h0m334 6h0m2 84h0m-187-149h0m289 456h0m-407-279h0m-47 201h0m-67-22h0m602-372h0m-193 592h0m-368-464h0m525 350h0m67-110h0m-510 132h0m-2-282h0m425 296h0m-454-138h0m537-106h0m-93-206h0m-331 472h0m157-443h0m179-3h0m-425 544h0m-119-179h0m374 160h0m-372-604h0m483 50h0m-443 534h0m94-351h0m459-36h0m-536 84h0m444-143h0m-31 313h0m-72-412h0m98 156h0m-444 302h0m144-318h0m-83-148h0m8 297h0m49 170h0m454 66h0m-118-197h0m-30-223h0m-5 474h0m-173-34h0m-213-62h0m485 121h0m-352-44h0m233-388h0m108 42h0m-205-237h0m-143 544h0m352-359h0m-536 412h0m454-516h0m-38 527h0m-333 34h0m462-654h0m-534 22h0m476 542h0m-488-387h0m516 437h0m-524-345h0m84-278h0m-10 491h0m148-3h0m392 3h0m-623-188h0m631 132h0m-392-439h0m257 609h0m43-590h0m-499 112h0m-32 10h0m631 431h0m-405 83h0m232-132h0m-349-43h0m30-22h0m413-182h0m-32-206h0m-126-25h0m-236 519h0m51-563h0m54 583h0m-41-469h0m240 21h0m86-19h0m-2 163h0m-498-177h0m295 8h0m-281-21h0m487-28h0m-255 505h0m-342-231h0m551-351h0m-97 487h0m-383-31h0m512-358h0m-550 53h0m575-20h0m71-33h0m-383-103h0m108 580h0m158-168h0m-26-309h0m-260-98h0m290 202h0m-354 466h0m321-271h0m-325-368h0m357 294h0m-392 207h0m173 68h0m-231-49h0m-76 74h0m236-505h0m-229 101h0m41 29h0m164-99h0m266 216h0m-273-223h0m-226-13h0m264 426h0m-120-536h0m248 588h0m232 40h0m2-4h0m-182-633h0m-217 615h0m-244-39h0m292-528h0m-113 620h0m239-566h0m-283 35h0m271-93h0m-235 186h0m-66 269h0m-77-510h0m293 149h0m-246 353h0m47-7h0m55-339h0m-79 148h0m-100-235h0m76 368h0m419 113h0m-213-379h0m174 471h0m14-168h0m106-146h0m-529-257h0m161 42h0m-213 458h0m307 15h0m288-357h0m-10-221h0m-557 539h0m28-100h0m402-248h0m197 94h0m-550 220h0m530-456h0m-161-18h0m-382 87h0m110 353h0m379 166h0m10-406h0m61-173h0m-116 602h0m101-145h0m-371-484h0m34-42h0m-154 88h0m60 33h0m-110 490h0m554-453h0m5 306h0m-563-268h0m213-118h0m320 416h0m-616 26h0m405 114h0m-56-533h0m-324 324h0m289 221h0m-127-633h0m3 568h0m-174-45h0m542-315h0m-436-204h0m494 4h0m-533-16h0m510 447h0m58-7h0m-329 201h0m258-490h0m-414-62h0m-82 579h0m412-212h0m-116-388h0m195 330h0m-207-263h0m300 260h0m-390-377h0m-10 604h0m249-445h0m156-143h0m-460 100h0m-55-38h0m391 368h0m-454-128h0m281 324h0m-185-524h0m-130 502h0m355-111h0m-356-490h0m140 16h0m-112 375h0m379 131h0m-446-68h0m257 135h0m-74-575h0m416 395h0m-548 97h0m-32 77h0m172-38h0m437 77h0m-59-545h0m-573-67h0m515 468h0m-53 91h0m182-183h0m-546 246h0m-50-547h0m595 349h0m-28 1h0m-290-398h0m267-37h0m-54 21h0m-550 569h0m448-604h0m50 635h0m-110-544h0m117-21h0m-191 29h0m-169-25h0m493 291h0m-600-302h0m131 348h0m-45-402h0m279 616h0m-101-562h0m102 572h0m-348 16h0m182-61h0m122-86h0m-342-137h0m629 221h0m-428-455h0m-207-76h0m444-30h0m-427 314h0m377 183h0m14 17h0m-356-203h0m92-78h0m383 161h0m103-298h0m-288-51h0m-177 2h0m353 21h0m28 369h0m24-487h0m-596 403h0m623-153h0m-555-195h0m-56 256h0m64 326h0m95-237h0m-134-370h0m589 4h0m49 571h0m-501-211h0m-38-234h0m424 189h0m-167 224h0m-331-166h0m120 145h0m-100-414h0m529 26h0m-361 431h0m-235-602h0m629 385h0m-75-127h0m-549-113h0m170 60h0m71-163h0m415 544h0m-657-415h0m664-142h0m-258 119h0m-153-19h0m4 474h0m179-85h0m-244-508h0m-8 450h0m340-210h0m13-243h0m-89 510h0m-470-170h0m372-217h0m-68 385h0m236 111h0m-120-81h0m32-353h0m-333 429h0m474-340h0m-24-262h0m-212 56h0m96 434h0m-267 173h0m3-12h0m191-527h0m-76-12h0m-218 473h0m518-357h0m-111 303h0m-361-80h0m511-157h0m-249-288h0m-70 626h0m272-455h0m-525-115h0m-9 288h0m611-309h0m-590 366h0m226 241h0m364-265h0m-34-130h0m-527 381h0m498 6h0m-610-58h0m348-11h0m297-46h0m-108-288h0m-209-167h0m206-4h0m-41-12h0m-383 30h0m384-102h0m65 309h0m-397 82h0m107 223h0m-123-36h0m111-554h0m297 57h0m-39-3h0m-394 37h0m436 319h0m-74 221h0m-81-643h0m-328 593h0m40-287h0m68 257h0m352-449h0m-407-20h0m63 504h0m96-606h0m-143 465h0m545-82h0m-93-44h0m-17 209h0m-473-212h0m196-302h0m262 383h0m-80-360h0m135-8h0m-543-19h0m6 53h0m378 483h0m134-539h0m-472 70h0m-49 258h0m168-228h0m-33 515h0m293-169h0m-124 173h0m-177-404h0m186-147h0m-66 487h0m264 23h0m-30 36h0m-394-311h0m-10-318h0m434 19h0m2 197h0m10 228h0m-339-377h0m-169 592h0m570-388h0m-253-282h0m-384 5h0m101 20h0m-65 253h0m95 182h0m222 131h0m-127 76h0m-141-348h0m236-292h0m278 578h0m1-109h0m11-195h0m-17 247h0m-257-465h0m-205 300h0m361-265h0m-112-78h0m-124 21h0m-236 359h0m83-235h0m231-38h0m180 91h0m-456-23h0m387 287h0m140-38h0m-585-415h0m652 83h0m-632 318h0m461-258h0m-134 434h0m-154-152h0m-190-178h0m498-84h0m-508 420h0m648-249h0m7 157h0m-93-528h0m-489 639h0m473-145h0m-281 89h0m268-46h0m-533-282h0m567-46h0m-29-225h0m87 425h0m-41-321h0m-460 109h0m500-63h0m-467 65h0m208 439h0m18-613h0m31-23h0m-270 26h0m441 610h0m-497-151h0m-100-400h0m615 481h0m-12-310h0m-425 263h0m463 65h0m-443-525h0m-148 151h0m221-178h0m-60 515h0m-33-324h0m355 61h0m-271-228h0m-168 484h0m31-28h0m473-120h0m-280-407h0m-181 540h0m-64-48h0m255 164h0m-166-549h0m478 326h0m-309-361h0m176 167h0m-285-210h0m-92 542h0m107-420h0m-93 439h0m205-435h0m-169-88h0m171 59h0m195 319h0m-23 185h0m124-369h0m-176 265h0m-430-370h0m193-10h0m366 417h0m-4-439h0m-449-75h0m470-12h0m-334 115h0m179 393h0m-3-458h0m10 75h0m99-148h0m35 538h0m-569 2h0m375 31h0m-216 92h0m249-654h0m-312-23h0m315 116h0m-425-69h0m288 85h0m204-119h0m-313 449h0m318 30h0m-52 30h0m-162-509h0m275 399h0m106-253h0m-233 498h0m213-162h0m-158-431h0m-502 416h0m501-242h0m-212 299h0m300-375h0m14 68h0m-35-161h0m-196 478h0m57 40h0m-158-538h0m397-11h0m-674 14h0m598 609h0m-508-483h0m-13-44h0m454 89h0m-521 294h0m156-151h0m426 228h0m-434-58h0m244-8h0m103-292h0m80 200h0m-572-323h0m625 566h0m-69-652h0m-409 177h0m257-128h0m-249-46h0m468 452h0m-149-254h0m166-42h0m-398-24h0m181 421h0m-11 13h0m-194-484h0m64-3h0m206 0h0m-251 73h0m60 383h0m96-564h0m-279 396h0m249-381h0m230 660h0m-127-517h0m-134-83h0m-256 31h0m195-111h0m-25 521h0m413 8h0m-315-397h0m-229 171h0m340-153h0m-157 487h0m276 21h0m-67-26h0m-275-536h0m322 225h0m-199 325h0m119 4h0m-445-468h0m149 383h0m399-339h0m-576 329h0m460-489h0m164 391h0m-57-295h0m-476 315h0m-18 207h0m172-106h0m-218-442h0m413 68h0m16 356h0m99-176h0m-559-220h0m113-120h0m443 392h0m-464 49h0m-29 55h0m401-329h0m158 290h0m-73 49h0m46 71h0m17-15h0m-614-445h0m647-23h0m-591 19h0m558 165h0m-523-235h0m471 237h0m-347-321h0m367 3h0m78 259h0m-509 413h0m-43-188h0m157 37h0m-73-520h0m78 521h0m-98-296h0m412 438h0m39-263h0m-332-405h0m-219 422h0m122 201h0m270-404h0m203-124h0m-154 563h0m-476-398h0m195 370h0m-194-492h0m226-19h0m36-86h0m-112 139h0m-135-37h0m479 254h0m-492-348h0m91 429h0m-105-390h0m569 287h0m-485 304h0m529-396h0m23-107h0m-586 502h0m460-666h0m-396 450h0m518-281h0m-518 188h0m307-341h0m-36 576h0m-251-405h0m203 486h0m-21-521h0m286 245h0m-353-337h0m105 515h0m211-209h0m-38 151h0m-452-170h0m394 104h0m-495-67h0m436-275h0m-394-3h0m577 201h0m-245-228h0m-279 252h0m402 107h0m-458-343h0m504 34h0m-59 310h0m61-216h0m-403 152h0m83 218h0m341 79h0m-559-49h0m38 11h0m580-244h0m-626 33h0m610-400h0m-104 436h0m-493-203h0m405 391h0m11-509h0m-247 302h0m337-206h0m56-194h0m-529 422h0m558-101h0m-120-280h0m-115-53h0m131 151h0m8-67h0m-135 547h0m213-375h0m9 189h0m-45-203h0m-405-24h0m483-156h0m-245 30h0m-273 522h0m439-573h0m-435 101h0m543-74h0m-209 376h0m199-69h0m-439-236h0m393-82h0m-397 395h0m-159-267h0m468 199h0m122-53h0m-5-13h0m-545 70h0m291-347h0m77 36h0m-244 548h0m288-14h0m-245-12h0m338-45h0m-210-47h0m-91 12h0m-70 50h0m-210-379h0m294 463h0m285-598h0m-580 457h0m513-203h0m34 306h0m-340-60h0m-138-18h0m362-518h0m-300 16h0m404 11h0m-169 438h0m206-117h0m-275 250h0m103-55h0m-377-234h0m31 251h0m103-243h0m446 298h0m-613-514h0m175 268h0m-118-61h0m503-125h0m45-148h0m-229 491h0m-230-14h0m418-314h0m-341-176h0m198 464h0m122-173h0m-315 295h0m-86 22h0m-100-635h0m586 114h0m-609 46h0m541 444h0m80-446h0m-552 249h0m381-324h0m-339-131h0m166 517h0m-73 146h0m274-174h0m14-268h0m-90-154h0m-76-28h0m160 89h0m-386 138h0m15 277h0m-20-75h0m13 77h0m-34 78h0m541-483h0m-591 103h0m595-103h0m-96 59h0m2-136h0" fill="none" stroke="#f18422" stroke-width="9.6" stroke-linecap="round"/>
<path transform="scale(.5)" d="M2916 539h0m-45-133h0m-60-61h0m-45 59h0m57 165h0m-57-247h0m83 30h0m57-37h0m-59 160h0m-167-154h0m51-40h0m34 125h0m191 31h0m-182 119h0m50-223h0m25 1h0m91-19h0m-85 140h0m-197-76h0m118 163h0m130-25h0m21-138h0m-76-100h0m-101 109h0m71 123h0m-60-105h0m15-87h0m70 94h0m-180-69h0m190-23h0m58 130h0m16 96h0m-248-208h0m202 48h0m-104 8h0m179 56h0m-213 54h0m-88-89h0m73-54h0m114-24h0m42-2h0m-104 75h0m102 29h0m-8 11h0m29 89h0m-144-191h0m-79 162h0m200-237h0m-70 32h0m35 55h0m-48 52h0m174-42h0m-122 103h0m96 20h0m-126-89h0m-87-122h0m104 18h0m-74 258h0m184-120h0m-59 25h0m-19-54h0m86 85h0m-267-98h0m198-76h0m-93 52h0m-147 75h0m65-123h0m11 169h0m123-86h0m-120 100h0m-4-225h0m178 268h0m-107-107h0m161-67h0m19 69h0m-138-103h0m-166 149h0m13-172h0m32 158h0m135-93h0m-40-62h0m24-58h0m-122 105h0m38-11h0m-27-1h0m-33-27h0m28 3h0m118 148h0m-116-76h0m22 79h0m-66 4h0m22-21h0m152-10h0m-13-23h0m79-30h0m-209-51h0m238 83h0m-102-113h0m-139 107h0m46-73h0m11 113h0m71 54h0m-101 15h0m91-206h0m-116 217h0m84 4h0m76-173h0m-137 126h0m157-93h0m-125-20h0m21-14h0m73-12h0m-77 124h0m-34 90h0m48-124h0m-44 64h0m32 40h0m-9-120h0m140 5h0m-186 43h0m-26-36h0m127 115h0m-13-266h0m121 158h0m-189 25h0m47-92h0m-2-106h0m-48 36h0m196 109h0m-187-121h0m180-5h0m-14 229h0m-45-216h0m-100 41h0m6 6h0m104-53h0m-6-27h0m22 254h0m58-64h0m-94-54h0m-87-27h0m123 130h0m-122-246h0m115 135h0m38 139h0m-104-9h0m31-127h0m-45 143h0m-151-211h0m20 183h0m227-249h0m-152 45h0m215 142h0m-250-77h0m-30-69h0m202 199h0m-162-32h0m49-66h0m139-30h0m-141 167h0m30-210h0m-41-31h0m50 19h0m-61 48h0m128 111h0m-136-53h0m110 105h0m91-83h0m-157 55h0m56-137h0m-15-54h0m44 82h0m9 130h0m0-263h0m-53 183h0m-2-152h0m74 195h0m-58-96h0m-14 185h0m35-143h0m-111-36h0m38-31h0m-67 99h0m217-6h0m-40-141h0m-142 187h0m-21-143h0m194 146h0m-70-172h0m-38 185h0m-150-79h0m118-19h0m-48-18h0m-26-70h0m114-17h0m-60 152h0m-125-106h0m183 51h0m27-93h0m18 52h0m-100 103h0m94 85h0m-117-72h0m-71-108h0m246-48h0m30-6h0m-299 16h0m235 122h0m-18-185h0m-82 177h0m35 87h0m15-61h0m-37-61h0m-109 82h0m54 62h0m-83-176h0m-5 51h0m276 71h0m-91-12h0m99-183h0m-197-17h0m49-19h0m59 118h0m42-15h0m-185-31h0m117-75h0m61 132h0m-123-171h0m-10 13h0m116 143h0m-84 64h0m58-51h0m-23 71h0m79 44h0m-15-145h0m26-55h0m-140-43h0m-112 39h0m208-9h0m15 79h0m-200 28h0m229-4h0m-155-41h0m119-114h0m-61 45h0m-1 88h0m150-6h0m-251 148h0m61-25h0m183-74h0m-245-107h0m194-13h0m-13 10h0m-148 74h0m81 174h0m0-177h0m-10 37h0m20-139h0m43 86h0m27-97h0m-189 256h0m180-164h0m-141 43h0m172 26h0m-219-81h0m259 102h0m-156-166h0m-47 236h0m205-87h0m-177-206h0m67 199h0m36 34h0m8 9h0m-221-164h0m279 52h0m-187-127h0m-75 82h0m46-64h0m-3 291h0m30-102h0m68-214h0m-133 153h0m113 32h0m-74 51h0m57 71h0m53-46h0m-182-71h0m104 129h0m-63-117h0m114-109h0m113 14h0m-186 69h0m106 148h0m50-40h0m-87-17h0m-135-138h0m54 174h0m-99-166h0m211 194h0m-98-276h0m-52 62h0m91 92h0m139 71h0m-100-28h0m23-145h0m53-62h0m-84-25h0m-53 31h0m125 16h0m62 158h0m-275-51h0m158-18h0m-159-113h0m-48 92h0m161 197h0m23-89h0m29-158h0m-59 47h0m110 124h0m-250-153h0m41 123h0m169-50h0m-110-41h0m186-38h0m-214 86h0m123-161h0m-9 17h0m-73 29h0m-52 31h0m166-70h0m-22 300h0m16-163h0m67 73h0m-231 24h0m104-179h0m69 80h0m-71-76h0m143 160h0m-232-201h0m79 115h0m88-69h0m-155 205h0m54-206h0m-13-35h0m117 66h0m-13-53h0m-45 52h0m111 57h0m-192 9h0m170 15h0m-141-102h0m-108 40h0m169 53h0m-45 60h0m-131-23h0m105-18h0m107-75h0m59 60h0m-7 11h0m-138 2h0m-81-130h0m45-72h0m42 100h0m58-34h0m-19 85h0m107-5h0m-188-5h0m-56-7h0m106-50h0m-149 46h0m222 34h0m-98-95h0m150 154h0m-132-113h0m-121 65h0m76 31h0m100-101h0m54 192h0m-77-179h0m-72-33h0m-54 91h0m204 84h0m-59-41h0m-81-112h0m-31 112h0m63-194h0m-119 15h0m57 5h0m44 117h0m-66-63h0m214 71h0m-210-142h0m192 263h0m-50-107h0m50 86h0m33-78h0m-65 82h0m-188-177h0m-8 132h0m142 25h0m-67-106h0m44 99h0m1-61h0m-113 76h0m133-190h0m-125-41h0m189 227h0m-173-212h0m-28 154h0m190-184h0m-224 152h0m203 24h0m-120 93h0m185-22h0m-51 23h0m-207-199h0m229-40h0m-34 214h0m-12-83h0m-85 54h0m14-217h0m33 237h0m-154-114h0m244-103h0m-216 2h0m75 278h0m-113-97h0m78-35h0m95-76h0m-170 28h0m184-71h0m-157 193h0m-15-78h0m308-71h0m-242 49h0m112-83h0m-35 227h0m16-135h0m-118 91h0m17-4h0m151-196h0m-54 56h0m111-41h0m-96 117h0m115 1h0m-5 43h0m-188-5h0m-18 75h0m10-87h0m150-1h0m-42 91h0m-210-138h0m-3-19h0m194 159h0m-21-173h0m-124 132h0m1-220h0m30 252h0m12-209h0m77 5h0m65 203h0m-158-122h0m56 88h0m-110-27h0m190-22h0m-42 35h0m93-73h0m-150 128h0m109 12h0m-6-109h0m-97 30h0m196-56h0m-97-83h0m28-47h0m-197 101h0m108 164h0m-45-87h0m161-8h0m-191 40h0m62-131h0m21-16h0m78 51h0m-99 20h0m128-30h0m-170-110h0m-55 91h0m-4-42h0m252 87h0m-169-164h0m0-14h0m65 154h0m-35 44h0m-17-56h0m145-38h0m-167 98h0m78-164h0m11 35h0m0 186h0m73-113h0m13 49h0m-107-22h0m-4-139h0m-7 26h0m-136 79h0m230-22h0m-93 60h0m-123-7h0m181 94h0m6 33h0m-156-57h0m69 5h0m40-89h0m-46-68h0m11-101h0m-119 161h0m203-140h0m-106 195h0m92-18h0m-178 82h0m98-144h0m-78 102h0m-5 26h0m225-119h0m-135 163h0m6-178h0m-32-85h0m143 54h0m-67 216h0m-34-27h0m17-216h0m-120 34h0m94 132h0m-146-91h0m73 121h0m-6-132h0m127 169h0m-22-43h0m-35 28h0m136-242h0m-289 114h0m68 66h0m178-99h0m-187 142h0m163 57h0m-187-68h0m257-47h0m-138-195h0m11 322h0m-5-79h0m9-41h0m-149-84h0m15 133h0m191 16h0m35-114h0m-168-81h0m68 66h0m67-124h0m-81-34h0m9 105h0m-77-34h0m57-11h0m108-4h0m-219 208h0m13-5h0m68-212h0m51 154h0m-13-129h0m-74 75h0m208-73h0m-53 69h0m-132 67h0m95 14h0m121-37h0m-136-22h0m97-16h0m-191-33h0m14 199h0m107-124h0m-161-97h0m15 104h0m210-37h0m-96-22h0m88 91h0m-132-225h0m155 262h0m-92-163h0m-7 6h0m-88-43h0m-29 10h0m-50 28h0m-12 37h0m46 136h0m101-167h0m-91 93h0m34-5h0m74 106h0m88-127h0m-196 21h0m205 103h0m-35-68h0m-208 2h0m278-33h0m-59-85h0m-115-84h0m42 276h0m90-202h0m-6-73h0m50 64h0m-34 160h0m-220-162h0m118-84h0m85 259h0m-137 34h0m56-257h0m32 10h0m-48 214h0m119-82h0m-70-175h0m70 151h0m11 63h0m-169 31h0m134-198h0m-55 51h0m-31 26h0m43-67h0m-5 179h0m127-62h0m-295-88h0m144-92h0m-38 43h0m152 186h0m-195 62h0m158-83h0m-82 8h0m-17-226h0m36 4h0m-10 209h0m45 1h0m74-132h0m-141-52h0m-57 2h0m29 252h0m52-195h0m-86 72h0m-92 10h0m255 88h0m33-111h0m-258 19h0m-8 7h0m73-62h0m111 32h0m-176-70h0m121 168h0m161-60h0m-36 17h0m-27 21h0m38 62h0m11-174h0m-6 144h0m-125-176h0m74 218h0m-81-20h0m79 26h0m-235-144h0m115-9h0m-80 113h0m192-12h0m-87-51h0m-123-46h0m204-124h0m-141 167h0m222-12h0m-133-151h0m9 266h0m35 27h0m90-115h0m-98 80h0m-162 4h0m88-124h0m-97-55h0m25 154h0m121-239h0m-92 6h0m159 220h0m-32-119h0m69 95h0m-132-13h0m165-77h0m-302 25h0m91-15h0m-41 128h0m26-148h0m222 59h0m-187-29h0m59 4h0m-51-99h0m14-8h0m98 43h0m-73 64h0m-11 8h0m109-45h0m12-30h0m27-8h0m-243 201h0m-2-146h0m-1-43h0m116 215h0m-119-162h0m-20-46h0m96 167h0m-52-233h0m75 22h0m38 148h0m77-60h0m-190 104h0m199-124h0m-56-29h0m-56-32h0m-4-56h0m-134 237h0m100-62h0m139 24h0m-83 104h0m12-155h0m-139-58h0m99 139h0m125-62h0m-227-58h0m228-6h0m-34-49h0m-93 143h0m16 61h0m-55-88h0m-60 121h0m112-102h0m-88-22h0m68-73h0m-35 106h0m138-130h0m-116 167h0m-107-158h0m-23-7h0m34 188h0m94-13h0m-41-153h0m115 101h0m86 6h0m-87-34h0m102 62h0m-308-59h0m149-163h0m108 280h0m-118-129h0m-5-66h0m-101 71h0m-2-76h0m68 56h0m176 48h0m-163-38h0m-26-82h0m68 147h0m93 57h0m-137 23h0m182-218h0m-192-21h0m115 128h0m-188 46h0m224-137h0m-115 116h0m11-36h0m3-116h0m-22 227h0m43-253h0m89 149h0m-118-15h0m83-119h0m-234 160h0m208 3h0m34-189h0m-45 168h0m76 65h0m-24-175h0m2 191h0m49-138h0m-210 89h0m-67 3h0m253-40h0m-253 66h0m-5-142h0m154 22h0m-38 169h0m118-49h0m-175-238h0m214 177h0m-64 82h0m-175-195h0m126-4h0m-91-13h0m-80 134h0m211-83h0m48 72h0m-212-136h0m138-54h0m-84 206h0m51 43h0m88-212h0m-188 15h0m29 57h0m110 102h0m-37-101h0m-98-82h0m157-28h0m-78 159h0m-61-67h0m54 156h0m-44-175h0m128-27h0m21 22h0m-115 216h0m111-226h0m-11-9h0m-109 268h0m48-66h0m70-118h0m53-74h0m-135-20h0m-18 78h0m-118 48h0m212-118h0m65 179h0m-82-141h0m79 177h0m-140-174h0m-122 148h0m46-108h0m163-111h0m44 39h0m-262 50h0m13-6h0m280 24h0m-247-83h0m243 93h0m-95 6h0m-59 125h0m144-17h0m-126-113h0m-77 2h0m204 102h0m-201-227h0m138 14h0m-115 269h0m48-265h0m-93 125h0m53-94h0m-34 43h0m99-54h0m102 95h0m-220-68h0m206 208h0m-186 18h0m162-53h0m-121-148h0m115 49h0m-74-49h0m-32-16h0m97 142h0m-23-33h0m-54-112h0m-5-95h0m-105 121h0m102-12h0m76 206h0m-108-31h0m191-46h0m-275-136h0m261 74h0m-269-91h0m133 40h0m54 159h0m-119 31h0m36-153h0m-72 115h0m217-139h0m-195 59h0m153-34h0m-247 35h0m269 104h0m44-211h0m-159 35h0m-53-80h0m173 59h0m-148 79h0m103 129h0m-105-104h0m169-128h0m-116 23h0m-173 42h0m154 171h0m-73-231h0m195 90h0m-240-7h0m172 4h0m16 149h0m-2-292h0m69 238h0m-276-163h0m281 115h0m-235-132h0m136 231h0m-41-42h0m-5-267h0m90 126h0m-12-84h0m-160 38h0m226 168h0m-293-64h0m250 26h0m-23 55h0m24-43h0m-175-18h0m-18 87h0m29-14h0m221-75h0m-102 17h0m-174 33h0m17 14h0m42-66h0m39 40h0m100 31h0m67-127h0m-205 89h0m14 83h0m179-252h0m-56 6h0m-74 142h0m-41-118h0m45 156h0m141-78h0m-158 119h0m-139-71h0m271-126h0m-59 164h0m-87 23h0m51-271h0m68 272h0m-13 23h0m-10-54h0m-164-171h0m91 234h0m-30-121h0m28-149h0m49-19h0m-61-17h0m197 148h0m-125-17h0m-93 185h0m78-146h0m90 73h0m-95-52h0m-49-86h0m35-54h0m-143 18h0m87 172h0m56-79h0m-131-36h0m204 94h0m-46-23h0m-48-50h0m113-100h0m-167 183h0m-15-133h0m175 122h0m-152-65h0m-83 48h0m37 37h0m68-159h0m61-60h0m-134 172h0m192-100h0m-183 132h0m-53-19h0m175-39h0m3-19h0m-27-92h0m3 12h0m100 141h0m-251-63h0m263 39h0m-217-12h0m133-152h0m103 75h0m-244 186h0m234-65h0m-286-96h0m194 46h0m-160-95h0m190 80h0m8 51h0m-231-108h0m59-74h0m204 137h0m-248-60h0m201-47h0m-101 49h0m-3 75h0m148 14h0m-53 48h0m-157-151h0m230 137h0m-241 51h0m120-235h0m50-26h0m92 89h0m-108-45h0m-13 57h0m48-78h0m5-24h0m-151 65h0m149 65h0m-67-49h0m-75 120h0m-100-68h0m51 117h0m23 29h0m80-57h0m63-174h0m-67 235h0m48-75h0m-41-15h0m-38-44h0m143-83h0m-77-55h0m-106 118h0m11-114h0m-19 52h0m93-28h0m-72 89h0m128 153h0m43-197h0m66 86h0m-68-172h0m-12 263h0m-53-267h0m-30 35h0m123 215h0m-26-73h0m-155-6h0m54 120h0m3-284h0m88 85h0m-156-65h0m17-34h0m17 70h0m-59 195h0m142-221h0m-114 39h0m-84 143h0m293-43h0m-168-16h0m-18 129h0m-108-153h0m188 129h0m15-131h0m-171-72h0m153-20h0m-123-17h0m61 19h0m-1 214h0m-79-15h0m66-19h0m-102-138h0m188-16h0m-12-80h0m-174 198h0m149-132h0m-138 39h0m256 111h0m-153-156h0m134 20h0m-32 94h0m-60 5h0m122-129h0m-18 200h0m-236-3h0m162-183h0m-39 114h0m-27-32h0m112 56h0m-1-21h0m26-75h0m-52 122h0m100-117h0m-72 110h0m-185-70h0m188-46h0m-157 4h0m40-4h0m-18 185h0m20-35h0m-47-177h0m36 241h0m188-170h0m-132-156h0m88 78h0m-25-41h0m-122-16h0m90 40h0m-210 122h0m259 8h0m-13 17h0m-73 86h0m37-5h0m36-230h0m30 40h0m-140 105h0m-114-112h0m192-67h0m90 55h0m-175-1h0m-51 59h0m232 6h0m-201-13h0m108-52h0m62 209h0m-134-20h0m46-222h0m49 38h0m-50 229h0m-21-4h0m95-125h0m-8-131h0m-218 154h0m170 54h0m-147-130h0m100-83h0m81 34h0m-85 68h0m-10-1h0m-30 80h0m169-131h0m-123 238h0m7-181h0m-11-1h0m-118-27h0m270-8h0m-238-88h0m149 155h0m30 10h0m-42 101h0m-97-281h0m-109 186h0m196 56h0m102-93h0m-258-66h0m37 82h0m-27 90h0m112-170h0m-81-57h0m184 124h0m25-75h0m-66 210h0m-125-104h0m185-25h0m-270 71h0m29-161h0m225 108h0m-172 18h0m2-4h0m119 72h0m-147-239h0m-40 217h0m163 62h0m-10-287h0m-21-34h0m-3 297h0m74-28h0m-125 60h0m-49-41h0m201-236h0m-43 204h0m67-74h0m-86 24h0m-195-11h0m217-91h0m-194 17h0m157 63h0m-73 76h0m83-144h0m65 85h0m-178 81h0m86 12h0m21-150h0m-128 100h0m104-52h0m54-121h0m-85-54h0m114 247h0m-193-74h0m128 115h0m-8-7h0m-123-112h0m10-67h0m88 191h0m-90-238h0m35 221h0m116-159h0m-58 202h0m21-7h0m18-100h0m-184-57h0m193 92h0m-14-249h0m93 140h0m-17 103h0m-12-187h0m-75-40h0m-42 4h0m162 114h0m-127-100h0m-112 49h0m133 14h0m88 122h0m-19-102h0m-111-3h0m44-109h0m-171 181h0m229-84h0m-228 88h0m224-184h0m-85 213h0m-114-163h0m-7-28h0m155 171h0m6-115h0m-141 79h0m76 159h0m7-170h0m142 5h0m-41-1h0m-27-34h0m-43 37h0m68 64h0m-9-130h0m-71 164h0m-83-235h0m71 19h0m-97 132h0m216-81h0m-80 179h0m111-83h0m-176-165h0m147 140h0m47 54h0m-317-125h0m21 30h0m41 155h0m161-152h0m-23-133h0m-194 219h0m73-154h0m-6 101h0m144-118h0m83 156h0m-257-95h0m123-77h0m96 99h0m-225 97h0m-10-149h0m67 226h0m37-69h0m171-139h0m-34-19h0m-207 57h0m-48-42h0m74 31h0m7 48h0m-77-64h0m235 196h0m-175-89h0m45-171h0m-47 59h0m97-76h0m-161 201h0m257 52h0m-195-5h0m211-45h0m-123 32h0m-97-39h0m111-29h0m-51 29h0m112-68h0m-159 117h0m99 25h0m-14-105h0m-23-115h0m81-46h0m96 130h0m-140-141h0m28 24h0m-54 89h0m104-41h0m-27-88h0m-21 108h0m-43-34h0m-131-8h0m186 233h0m74-64h0m-231-17h0m69-58h0m-125-14h0m307 71h0m-57 23h0m-168-1h0m33-135h0m87 131h0m69-38h0m-270-42h0m171-49h0m-138 41h0m107-10h0m126-36h0m-190 152h0m-21-23h0m20-32h0m129-77h0m-131 178h0m-69-221h0m88-34h0m-22-34h0m-21 112h0m-2 58h0m137 77h0m-74-72h0m139-50h0m-202-18h0m69 181h0m-31-209h0m170 41h0m40 73h0m-264-29h0m176-139h0m48 164h0m-32-65h0m27-23h0m-11-47h0m-32-57h0m-142 211h0m143-35h0m-75-47h0m166 107h0m-165-221h0m-52-5h0m-80 182h0m216 69h0m-98-38h0m-56-155h0m75 33h0m-58-58h0m188 225h0m-160-221h0m98-3h0m-64 17h0m-115-8h0m280 144h0m-285-65h0m210 97h0m-30-38h0m-166 32h0m105 0h0m70-141h0m-147 18h0m155-4h0m43-35h0m-246 81h0m214 147h0m50-217h0m22 46h0m-107 106h0m-169-115h0m239-70h0m-8 192h0m-190-54h0m85 121h0m87-95h0m3-154h0m-3-29h0m28 179h0m-168-153h0m-49 168h0m-31-21h0m165-204h0m-69 46h0m141 27h0m-248 101h0m38 100h0m158-118h0m3 121h0m-58-174h0m-27 64h0m90-32h0m-145-123h0m195 77h0m-241 154h0m72-200h0m176 186h0m-50-143h0m-204 113h0m223-12h0m-118-149h0m116 214h0m40-83h0m-73-38h0m-172 61h0m41-75h0m54 42h0m84 141h0m-42-80h0m-27-226h0m-99 226h0m209-31h0m-97-58h0m3 12h0m-139 72h0m15-137h0m93-16h0m50 257h0m64-129h0m-89-153h0m46 79h0m-145 16h0m-46 59h0m228 48h0m3-52h0m-206 3h0m26 99h0m-29-78h0m212-52h0m-239 69h0m128-13h0m-65-175h0m0 198h0m-25-135h0m187 102h0m-163-55h0m25 38h0m121-140h0m-80 259h0m6-149h0m68-72h0m-173 85h0m159-175h0m-109 65h0m46-25h0m-102 135h0m62 21h0m100 90h0m-104-114h0m181 99h0m-35 26h0m68-173h0m-192-25h0m139 1h0m-58 104h0m92-72h0m-122-44h0m-139 158h0m225-169h0m-15 119h0m-91-160h0m101 61h0m15-30h0m-239 14h0m113 82h0m-43 59h0m199-150h0m-103 40h0m-76-67h0m203 53h0m-85 26h0m-161-94h0m29 72h0m56 194h0m146-108h0m-112-63h0m-31 200h0m156-196h0m-142 12h0m100-22h0m43-16h0m-107-29h0m-157 124h0m125 64h0m23-70h0m10 0h0m-106-155h0m108 204h0m-192 15h0m64 53h0m16-10h0m60-255h0m142 179h0m-153-71h0m152-81h0m-308 82h0m47 66h0m3-1h0m-5 30h0m132-81h0m-147 36h0m149 68h0m-11-94h0m-106 27h0m-35 47h0m247-4h0m-101-170h0m12 210h0m-134-224h0m84 159h0m203-48h0m-230-38h0m88 87h0m-51-71h0m27-149h0m69 47h0m31 209h0m5-76h0m-104 38h0m-63-142h0m125 113h0m-196-40h0m-10 11h0m229 92h0m17-101h0m-112 100h0m-120-154h0m143 137h0m-109-210h0m152 32h0m-162 181h0m-18 30h0m74-142h0m-54-94h0m253 189h0m-99-148h0m-81 156h0m-87-168h0m151 105h0m111 19h0m-138 125h0m-71-130h0m55-17h0m44-44h0m-167 110h0m196 27h0m-34 75h0m-77-212h0m119-107h0m-241 118h0m260 11h0m-133 40h0m-4 134h0m182-157h0m-105 148h0m-84-196h0m17 75h0m-20 53h0m160 47h0m-86-119h0m-109 126h0m17-153h0m72 120h0m-31 31h0m-82-244h0m216 193h0m-16-170h0m62 78h0m-97-118h0m-140 267h0m183-125h0m-234-104h0m253-29h0m-71 266h0m-3-137h0m55-51h0m-167 184h0m-9-126h0m-3 76h0m18-160h0m52 5h0m85 178h0m17-163h0m-152 197h0m17-165h0m-106 81h0m252-22h0m-126 108h0m15-66h0m-38-86h0m30 40h0m-58-76h0m1 17h0m157 137h0m-193-36h0m141 86h0m-143-89h0m-14-65h0m127 81h0m-14-116h0m84 145h0m-119-68h0m50-222h0m-68 298h0m84-98h0m-1-140h0m-48 72h0m31 41h0m15-108h0m-79 260h0m92-95h0m-194-89h0m280 3h0m-156-55h0m16 248h0m-48-105h0m9-56h0m89 160h0m141-131h0m-315-38h0m132-144h0m26 267h0m63-261h0m-7 53h0m-114 198h0m51-176h0m29 191h0m-51-266h0m-63 128h0m44-32h0m58 3h0m-26-74h0m-27 161h0m67-151h0m-71 237h0m-1-132h0m22-148h0m48 197h0m-29-105h0m132 109h0m-282 22h0m158-13h0m137-48h0m-261-27h0m92 90h0m139-136h0m-105 175h0m80-172h0m-117-99h0m70 281h0m-97 23h0m37-176h0m145-79h0m-68 52h0m-29 178h0m-36-164h0m6-36h0m119 72h0m-255 69h0m106 87h0m139-101h0m-25-30h0m-44-146h0m59 94h0m-159-1h0m-18-93h0m200 36h0m-92 157h0m-50-91h0m42 174h0m-86-288h0m72 95h0m-65-46h0m-21 212h0m8-190h0m128 212h0m-91-151h0m-6 132h0m-21-176h0m31 196h0m8-142h0m165 20h0m-232 54h0m-39-142h0m95 115h0m-41-188h0m-22 242h0m102-134h0m153 48h0m-119 42h0m-5-159h0m-22-1h0m-162 133h0m46 79h0m79-155h0m128 165h0m-51-164h0m-188 100h0m81-86h0m157 69h0m-111 17h0m124 24h0m-78 22h0m14-220h0m-135-34h0m-5 22h0m150 85h0m-5 143h0m9 14h0m-38-16h0m13-102h0m60 13h0m-52 69h0m2-133h0m-65-11h0m-25 109h0m-117-73h0m196-78h0m-72 254h0m9 6h0m96-292h0m-203 116h0m253 125h0m-101-159h0m39 17h0m-38 179h0m80-117h0m-179-18h0m180-13h0m4 5h0m-200-128h0m204 148h0m-252-98h0m188 145h0m88 25h0m-246-198h0m122 185h0m-100 51h0m-48-50h0m116-226h0m42 315h0m-71-56h0m-36-193h0m56 5h0m92-22h0m100 76h0m-294-15h0m38 167h0m-65-90h0m44 39h0m87-199h0m-17 192h0m159-130h0m-98-71h0m2 102h0m-21 21h0m30 180h0m-68-174h0m5 157h0m84-24h0m-190-198h0m86-45h0m171 62h0m-197 42h0m177 103h0m45-10h0m-181-9h0m-124-42h0m235 18h0m-119-178h0m-11-25h0m210 192h0m-134 57h0m109-70h0m-176 121h0m218-173h0m-291 111h0m5-200h0m90-4h0m-24 247h0m102-55h0m-25 34h0m28-18h0m-20-253h0m-193 109h0m36 170h0m233-131h0m-273 60h0m293-90h0m-203 22h0m13-78h0m24 147h0m-75-101h0m142-108h0m41 81h0m-13 174h0m-15-107h0m-155 63h0m-29-21h0m281-113h0m-206 11h0m124 141h0m59 55h0m-70-147h0m41 83h0m-193-115h0m-32 159h0m233-191h0m-252 136h0m75 100h0m-17-257h0m-42 50h0m129 141h0m0-233h0m-99 46h0m26 160h0m157-24h0m-114 53h0m15-236h0m156 219h0m-147-181h0m-35 116h0m47-160h0m-5 147h0m36 90h0m-5-237h0m86 226h0m-77 33h0m87-60h0m-83 96h0m-168-183h0m35 132h0m68-103h0m-37 34h0m3 48h0m177-95h0m-242 52h0m-23 0h0m111 50h0m-16-73h0m212-24h0m-165 163h0m67-43h0m-102-81h0m96 47h0m101-29h0m-32-63h0m-96 40h0m-115-85h0m-7 139h0m248-47h0m-113-50h0m72 31h0m-267-38h0m38 130h0m259-77h0m-42 45h0m-138 23h0m-6-53h0m72 70h0m-77-182h0m-50 141h0m-13 57h0m207-175h0m-150-59h0m125 104h0m-140-53h0m-87 118h0m219-85h0m-37-12h0m1 13h0m-12 44h0m53-23h0m-14 7h0m-106-30h0m-31-25h0m88 212h0m38-295h0m66 73h0m-109 23h0m74 195h0m-153-253h0m-39 212h0m-26-119h0m203 75h0m113-83h0m-316 62h0m154 64h0m27 50h0m-35-36h0m-34-155h0m80 173h0m-177-22h0m216 5h0m41-3h0m-195-82h0m185-73h0m-19 55h0m-51-172h0m-94 206h0m78-48h0m96-22h0m-55 113h0m11-78h0m-116-171h0m-55 147h0m174-3h0m59 10h0m2-83h0m-58 163h0m-11-203h0m-37 114h0m-196 24h0m204-126h0m81 177h0m-93 55h0m-35-91h0m-23-127h0m-27 151h0m-5 0h0m207-92h0m-165 146h0m170-78h0m-204-165h0m143 251h0m-57-222h0m6 103h0m-182-61h0m111 82h0m-70-55h0m95-118h0m140 103h0m-248-12h0m230 5h0m-68-92h0m24 290h0m-49-7h0m40-43h0m-120-103h0m-97 68h0m298-2h0m-112 90h0m75-254h0m-105 149h0m-8-85h0m-101 140h0m273-115h0m-303-70h0m21 20h0m58 98h0m-54-85h0m183-45h0m30 224h0m-249-203h0m274 13h0m-139 202h0m12 26h0m93-187h0m-7-40h0m37 71h0m-227 32h0m-56 40h0m249-55h0m-138-141h0m94 62h0m101 155h0m-108-180h0m-144 180h0m248-170h0m-104 221h0m66-214h0m-63 56h0m6-80h0m32 181h0m-225-72h0m47 64h0m123-158h0m83 148h0m-15-14h0m-197-166h0m98 236h0m114-79h0m-248 7h0m13-59h0m51 98h0m123-94h0m42-66h0m-248 104h0m15-122h0m116-65h0m-30 164h0m-105-20h0m55-44h0m211 156h0m-13-199h0m8 170h0m-78 7h0m-24-180h0m-86 155h0m96 100h0m-71-129h0m87-60h0m-127-83h0m-31 159h0m84 81h0m-15-131h0m19 52h0m30 100h0m25-73h0m1 92h0m-79-176h0m161 118h0m-48-173h0m-131 114h0m132-130h0m-26 68h0m-127 45h0m-29 58h0m231-5h0m-85-3h0m-2 49h0m-172-144h0m61-34h0m106 174h0m89 1h0m-89-166h0m66-25h0m-112-29h0m-33 42h0m205 65h0m-74 134h0m-12-40h0m109-74h0m-61 43h0m-22-220h0m-64 50h0m25 210h0m98-45h0m-138-78h0m174 16h0m-111-107h0m50 77h0m-48 50h0m-81-71h0m129-15h0m29 148h0m-158-218h0m105 277h0m86-94h0m-256-134h0m45 23h0m-14 215h0m72-236h0m107 134h0m-41-42h0m82-43h0m-89 166h0m-101-255h0m-117 58h0m193-73h0m15 259h0m-178-46h0m16 49h0m72-22h0m-72-206h0m170 180h0m69-113h0m-262 37h0m-22-28h0m21 10h0m13 59h0m88 2h0m17-83h0m-145 82h0m96-145h0m227 113h0m-93 74h0m-24-90h0m85-54h0m-169-35h0m-1 225h0m67-131h0m106 82h0m-67-89h0m-42-94h0m79 111h0m-233-39h0m-14 124h0m-23-119h0m57 52h0m189-90h0m-16 191h0m-156-181h0m7 76h0m5-176h0m114 7h0m-42 33h0m-72 84h0m146-72h0m-102 207h0m20-202h0m128 151h0m-70-5h0m35-22h0m-184 50h0m4-27h0m29-141h0m205 59h0m-127 74h0m-118 59h0m41-259h0m-76 238h0m265 22h0m-106-139h0m62-21h0m-128 31h0m55-32h0m61 84h0m-41 3h0m91-150h0m-192 9h0m62 207h0m-72-100h0m96 7h0m17 9h0m111-22h0m-26 47h0m-43-106h0m-22-40h0m-54 213h0m-59 24h0m142-232h0m32 129h0m-119-28h0m-86 85h0m185-217h0m-33 200h0m1 17h0m-135-212h0m9 132h0m195-44h0m-45 150h0m-4-242h0m-12 283h0m23-282h0m-162 125h0m210 76h0m-61-180h0m-50 3h0m-60 95h0m-42 120h0m188-131h0m-233-53h0m120-56h0m7 68h0m-2-80h0m-42 195h0m21 10h0m67-193h0m-14-28h0m-4 304h0m133-107h0m-229-29h0m115 8h0m-136 67h0m70-169h0m105 108h0m-62-91h0m37 139h0m55 19h0m-192-170h0m193 61h0m-67 64h0m-190-37h0m57-125h0m-4 175h0m203-9h0m-117 40h0m-39-55h0m67 31h0m-40-56h0m-131-91h0m270 194h0m-198-115h0m-24 130h0m56-251h0m-1 272h0m154-78h0m-205-153h0m135 179h0m58-71h0m-228 80h0m49-158h0m31 2h0m203-13h0m-222-1h0m35 19h0m-15-31h0m-81-13h0m122-61h0m38 312h0m-199-157h0m174 170h0m66-235h0m-14 116h0m-46-220h0m-64 8h0m-2 273h0m83-24h0m-72-23h0m-124-15h0m162-190h0m93 39h0m-106 25h0m32 2h0m-126 103h0m75 129h0m-45-25h0m78-224h0m-43 99h0m154 65h0m-248-18h0m190-215h0m0 285h0m-81-210h0m137 144h0m-113 84h0m37-214h0m103-23h0m-158 29h0m38 69h0m76 3h0m-234 46h0m217-161h0m-167 103h0m157 78h0m-176-22h0m245-130h0m-301 113h0m309-26h0m-88-45h0m-68-126h0m80 302h0m-89 2h0m164-78h0m-127-82h0m-156 31h0m28 26h0m-35 47h0m247-224h0m-158 239h0m209-50h0m-217-183h0m207 183h0m-241-35h0m130 128h0m-33-114h0m18-3h0m45 30h0m-142-52h0m85-26h0m-35-139h0m104 23h0m79 107h0m3 58h0m-246 109h0m80-204h0m-65-27h0m109-8h0m71 133h0m27 24h0m-204-128h0m224 148h0m-101-119h0m-67 113h0m12-232h0m82 207h0m9-105h0m-169-19h0m80 226h0m74-297h0m-139 272h0m47-43h0m130 39h0m-10-103h0m-68-56h0m-17 11h0m-92-106h0m-42 162h0m159 50h0m-5-45h0m130 23h0m-183-207h0m-128 158h0m260 0h0m-185 16h0m76 83h0m57 23h0m-27-260h0m-63 180h0m-48-186h0m-53 145h0m260 16h0m-190-146h0m156 211h0m-185 55h0m173-145h0m4-113h0m-221 117h0m66 155h0m169-55h0m-163-153h0m-34 10h0m247 109h0m-110-100h0m-177 96h0m159 59h0m-32-154h0m123 141h0m-151-45h0m45-163h0m-42 218h0m-36-53h0m216-131h0m-149-105h0m133 66h0m-71-3h0m-39 258h0m-104-198h0m143-57h0m-139 197h0m172-162h0m-78-6h0m-16 239h0m-108-248h0m201 34h0m-54-39h0m-93 75h0m-59-8h0m102 120h0m-47 53h0m17-190h0m122 53h0m-177-112h0m90 7h0m100 47h0m-257 65h0m108 37h0m52 10h0m-36 21h0m46 18h0m106-56h0m-239 18h0m195-64h0m-52 68h0m81-209h0m-218 64h0m109 125h0m48-181h0m84 233h0m-89-25h0m-116 3h0m94-237h0m-67 222h0m148 48h0m-135-16h0m47-233h0m135 150h0m-180-13h0m122 113h0m-72 36h0m49-102h0m-66-98h0m134 17h0m-45 126h0m-142-1h0m-1-243h0m51 107h0m-122 38h0m280 72h0m-78-210h0m70 198h0m-192-110h0m105 116h0m-63-174h0m-47 250h0m24-108h0m68-2h0m133-14h0m-213 77h0m76 40h0m-108-277h0m94 93h0m-62 148h0m127-234h0m-71 64h0m-131 178h0m243-191h0m-40 12h0m-149 213h0m-42-141h0m217-120h0m-252 211h0m159 44h0m-152-146h0m194-44h0m-30-9h0m-4 174h0m30-186h0m68 95h0m-54 20h0m-65-177h0m-19 16h0m95 132h0m-40 29h0m98-26h0m-170 157h0m-129-142h0m95-182h0m135 64h0m-126 244h0m68-97h0m-5-52h0m-29-53h0m26 73h0m-10 35h0m-87-124h0m229-26h0m19 104h0m-222 90h0m44-71h0m156-89h0m-226 152h0m-49-50h0m46-118h0m59 165h0m123-42h0m28 9h0m-40-117h0m60-54h0m-161 73h0m8 180h0m97-221h0m-43-25h0m-42-18h0m-82 140h0m230 44h0m-216 48h0m-33-76h0m5-3h0m19 64h0m105 55h0m-82-166h0m24 64h0m61 21h0m-82-152h0m-24 0h0m178 16h0m-60-79h0m-139 234h0m201 22h0m-204-160h0m-49 105h0m148-27h0m-101-53h0m119 131h0m95-244h0m-45 61h0m55 102h0m-190 103h0m193-138h0m-178 22h0m118 53h0m34 27h0m15-58h0m-226-70h0m193-12h0m65 158h0m-34-91h0m-16-82h0m-99-69h0m-43-12h0m-20 7h0m161 238h0m-164-235h0m218 102h0m-132 136h0m-124-96h0m159 86h0m-120 39h0m211-109h0m-255-24h0m25 4h0m242 41h0m-107-124h0m-106 17h0m83 66h0m45 3h0m-21 88h0m-68 1h0m85 6h0m52-8h0m-163-24h0m-12-74h0m-64 32h0m76-159h0m-60 19h0m135 236h0m24-134h0m30 84h0m-101-211h0m-65 192h0m120-113h0m40 217h0m-61 3h0m29-241h0m-93 75h0m-59 9h0m48 45h0m191-74h0m-88 172h0m-62-58h0m-48-17h0m-2-180h0m-9 198h0m71-78h0m0-108h0m-34 63h0m203 89h0m-191-165h0m-113 102h0m101-64h0m32 109h0m-109-135h0m272 176h0m-67-184h0m-95 47h0m63 68h0m-120 110h0m61 6h0m-81-153h0m217-23h0m-83 40h0m-27 90h0m158-52h0m-283-42h0m88 127h0m-66-255h0m95 259h0m-7-152h0m-97-62h0m122 220h0m-108-119h0m-36 11h0m215-32h0m-143-117h0m39-34h0m-28 150h0m106-114h0m77 207h0m-83 58h0m-21-8h0m-115-174h0m11 136h0m30-139h0m27 13h0m131 117h0m-110-20h0m13-27h0m-83 35h0m49-48h0m141-4h0m-244 44h0m96-170h0m28 67h0m96 106h0m-70-197h0m54 99h0m-174 77h0m174-101h0m-181 41h0m46-76h0m-25-15h0m69 148h0m-48-115h0m97 110h0m-17 45h0m53 53h0m-101-235h0m-48 9h0m50 4h0m-129 2h0" fill="none" stroke="#1204f7" stroke-width="9.6" stroke-linecap="round"/>
<path d="M1232.1 119.8L1236 119.8L1239.9 119.8L1243.8 119.8L1247.6 119.8L1251.5 119.8L1255.4 119.8L1259.3 119.8L1263.2 119.8L1267 119.8L1270.9 119.8L1274.8 119.8L1278.7 119.8L1282.6 119.8L1286.4 119.8L1290.3 119.8L1294.2 119.8L1298.1 119.8L1302 119.8L1305.8 119.8L1309.7 119.8L1313.6 119.8L1317.5 119.8L1321.4 119.8L1325.2 119.8L1329.1 119.8L1333 119.8L1336.9 119.8L1340.7 119.8L1344.6 119.8L1348.5 119.8L1352.4 119.8L1356.2 119.8L1360.1 119.8L1364 119.9L1367.8 119.9L1371.7 119.9L1375.6 119.9L1379.4 119.9L1383.3 120L1387.1 120L1391 120L1394.8 120.1L1398.6 120.1L1402.5 120.2L1406.3 120.2L1410.1 120.3L1413.9 120.4L1417.6 120.5L1421.4 120.6L1425.1 120.8L1428.9 121L1432.6 121.1L1436.2 121.4L1439.8 121.6L1443.4 121.9L1447 122.2L1450.5 122.6L1453.9 123L1457.3 123.5L1460.6 124.1L1463.9 124.7L1467 125.5L1470.1 126.3L1473.1 127.2L1475.9 128.2L1478.7 129.4L1481.3 130.6L1483.8 132L1486.1 133.6L1488.3 135.2L1490.4 137.1L1492.3 139L1494.1 141.1L1495.7 143.4L1497.2 145.8L1498.5 148.3L1499.8 151L1500.9 153.8L1501.9 156.7L1502.7 159.7L1503.5 162.8L1504.2 166L1504.8 169.2L1505.4 172.6L1505.8 176L1506.3 179.5L1506.6 183L1506.9 186.5L1507.2 190.2L1507.4 193.8L1507.7 197.5L1507.8 201.2L1508 204.9L1508.1 208.7L1508.2 212.4L1508.3 216.2L1508.4 220L1508.5 223.8L1508.6 227.6L1508.6 231.5L1508.7 235.3L1508.7 239.1L1508.8 243L1508.8 246.8L1508.8 250.7L1508.8 254.6L1508.9 258.4L1508.9 262.3L1508.9 266.2L1508.9 270L1508.9 273.9L1508.9 277.8L1508.9 281.7L1508.9 285.5L1508.9 289.4L1508.9 293.3L1508.9 297.2L1509 301.1L1509 304.9L1509 308.8L1509 312.7L1509 316.6L1509 320.5L1509 324.4L1509 328.2L1509 332.1L1509 336L1509 339.9L1509 343.8L1509 347.7L1509 351.5L1509 355.4L1509 359.3L1509 363.2L1509 367.1L1509 371L1509 374.8L1509 378.7L1509 382.6L1509 386.5" fill="none" stroke="#f18422" stroke-width="5"/>
<path d="M1252 393.8v-2.8M1252 34.2v2.8M1269.2 393.8v-2.8M1269.2 34.2v2.8M1286.5 393.8v-2.8M1286.5 34.2v2.8M1303.7 393.8v-2.8M1303.7 34.2v2.8M1338.2 393.8v-2.8M1338.2 34.2v2.8M1355.5 393.8v-2.8M1355.5 34.2v2.8M1372.7 393.8v-2.8M1372.7 34.2v2.8M1390 393.8v-2.8M1390 34.2v2.8M1424.5 393.8v-2.8M1424.5 34.2v2.8M1441.7 393.8v-2.8M1441.7 34.2v2.8M1459 393.8v-2.8M1459 34.2v2.8M1476.2 393.8v-2.8M1476.2 34.2v2.8M1510.7 393.8v-2.8M1510.7 34.2v2.8M1528 393.8v-2.8M1528 34.2v2.8M1545.2 393.8v-2.8M1545.2 34.2v2.8M1562.5 393.8v-2.8M1562.5 34.2v2.8M1227.3 369.2h2.8M1586.8 369.2h-2.8M1227.3 352h2.8M1586.8 352h-2.8M1227.3 334.7h2.8M1586.8 334.7h-2.8M1227.3 317.4h2.8M1586.8 317.4h-2.8M1227.3 282.9h2.8M1586.8 282.9h-2.8M1227.3 265.6h2.8M1586.8 265.6h-2.8M1227.3 248.4h2.8M1586.8 248.4h-2.8M1227.3 231.1h2.8M1586.8 231.1h-2.8M1227.3 196.6h2.8M1586.8 196.6h-2.8M1227.3 179.3h2.8M1586.8 179.3h-2.8M1227.3 162.1h2.8M1586.8 162.1h-2.8M1227.3 144.8h2.8M1586.8 144.8h-2.8M1227.3 110.3h2.8M1586.8 110.3h-2.8M1227.3 93h2.8M1586.8 93h-2.8M1227.3 75.7h2.8M1586.8 75.7h-2.8M1227.3 58.5h2.8M1586.8 58.5h-2.8M1234.7 393.8v-5M1234.7 34.2v5M1321 393.8v-5M1321 34.2v5M1407.2 393.8v-5M1407.2 34.2v5M1493.5 393.8v-5M1493.5 34.2v5M1579.7 393.8v-5M1579.7 34.2v5M1227.3 386.5h5M1586.8 386.5h-5M1227.3 300.2h5M1586.8 300.2h-5M1227.3 213.8h5M1586.8 213.8h-5M1227.3 127.5h5M1586.8 127.5h-5M1227.3 41.2h5M1586.8 41.2h-5" stroke="#505050" stroke-width="0.9" fill="none"/>
<rect x="1227.3" y="34.2" width="359.5" height="359.6" fill="none" stroke="#505050" stroke-width="1"/>
<text x="1234.7" y="416.8" font-size="21.6" text-anchor="middle">−<tspan dx="2.6">20</tspan></text>
<text x="1321" y="416.8" font-size="21.6" text-anchor="middle">−<tspan dx="2.6">10</tspan></text>
<text x="1407.2" y="416.8" font-size="21.6" text-anchor="middle">0</text>
<text x="1493.5" y="416.8" font-size="21.6" text-anchor="middle">10</text>
<text x="1579.7" y="416.8" font-size="21.6" text-anchor="middle">20</text>
<text x="1221.8" y="393" font-size="21.6" text-anchor="end">−<tspan dx="2.6">20</tspan></text>
<text x="1221.8" y="306.7" font-size="21.6" text-anchor="end">−<tspan dx="2.6">10</tspan></text>
<text x="1221.8" y="220.3" font-size="21.6" text-anchor="end">0</text>
<text x="1221.8" y="134" font-size="21.6" text-anchor="end">10</text>
<text x="1221.8" y="47.7" font-size="21.6" text-anchor="end">20</text>
<text x="1406.5" y="449.5" font-size="22.5" font-style="italic" text-anchor="middle">F<tspan font-size="16.2" dy="5">a</tspan></text>
<text transform="translate(1168.8 215) rotate(-90)" font-size="22.5" font-style="italic" text-anchor="middle">F<tspan font-size="16.2" dy="5">b</tspan></text>
<text x="1407" y="484.5" font-size="24.5" text-anchor="middle" textLength="353" lengthAdjust="spacingAndGlyphs">Successful classification (M = 2)</text>
<text x="1142.8" y="527" font-size="37" letter-spacing="1.2">F)</text>
<g clip-path="url(#cF)">
<rect x="1236.4" y="506.8" width="345" height="345.6" fill="#edb06f"/>
<path d="M1325.9 637C1326.1 628.5 1326.1 621.6 1327.2 616.5C1328.3 611.4 1329.6 609.1 1332.4 606.2C1335.2 603.3 1338.1 600.7 1343.9 599C1349.7 597.3 1356.7 596.4 1367 595.9C1377.3 595.4 1394.4 595.5 1405.5 595.9C1416.6 596.2 1425.6 596.5 1433.7 598C1441.8 599.5 1447.9 601.4 1454.3 604.9C1460.7 608.4 1467.3 613.2 1472.2 619C1477.1 624.8 1481 631.5 1483.8 639.6C1486.6 647.7 1488.3 658.8 1488.9 667.8C1489.5 676.8 1489.1 685 1487.6 693.5C1486.1 702 1483.3 711.4 1479.9 719.1C1476.5 726.8 1472.2 734.1 1467.1 739.7C1462 745.3 1456.4 749.4 1449.1 752.5C1441.8 755.6 1432.9 757.2 1423.5 758.1C1414.1 759 1403 758.6 1392.7 758.1C1382.4 757.6 1370.5 757.3 1361.9 755.1C1353.3 752.9 1346.4 749.1 1341.3 744.8C1336.2 740.5 1333.4 736.2 1331.1 729.4C1328.8 722.5 1328.1 714 1327.2 703.7C1326.3 693.4 1326.1 678.9 1325.9 667.8C1325.7 656.7 1325.7 645.5 1325.9 637Z" fill="#a9a0ee" stroke="#c9b4cf" stroke-width="18" filter="url(#b8)"/>
<path d="M1325.9 637C1326.1 628.5 1326.1 621.6 1327.2 616.5C1328.3 611.4 1329.6 609.1 1332.4 606.2C1335.2 603.3 1338.1 600.7 1343.9 599C1349.7 597.3 1356.7 596.4 1367 595.9C1377.3 595.4 1394.4 595.5 1405.5 595.9C1416.6 596.2 1425.6 596.5 1433.7 598C1441.8 599.5 1447.9 601.4 1454.3 604.9C1460.7 608.4 1467.3 613.2 1472.2 619C1477.1 624.8 1481 631.5 1483.8 639.6C1486.6 647.7 1488.3 658.8 1488.9 667.8C1489.5 676.8 1489.1 685 1487.6 693.5C1486.1 702 1483.3 711.4 1479.9 719.1C1476.5 726.8 1472.2 734.1 1467.1 739.7C1462 745.3 1456.4 749.4 1449.1 752.5C1441.8 755.6 1432.9 757.2 1423.5 758.1C1414.1 759 1403 758.6 1392.7 758.1C1382.4 757.6 1370.5 757.3 1361.9 755.1C1353.3 752.9 1346.4 749.1 1341.3 744.8C1336.2 740.5 1333.4 736.2 1331.1 729.4C1328.8 722.5 1328.1 714 1327.2 703.7C1326.3 693.4 1326.1 678.9 1325.9 667.8C1325.7 656.7 1325.7 645.5 1325.9 637Z" fill="#9f99f6" filter="url(#b5)" transform="translate(1408 677) scale(.86) translate(-1408 -677)"/>
</g>
<path transform="scale(.5)" d="M2673 1470h0m75 229h0m155-160h0m-19-9h0m113-220h0m53 197h0m-312-369h0m357 551h0m-343-646h0m-127 430h0m24 185h0m-98-259h0m529 178h0m-437 45h0m452-8h0m7-92h0m53-396h0m-437 74h0m-226 168h0m519 151h0m7-232h0m84 54h0m-266 199h0m224-9h0m-363-11h0m-184-401h0m119 34h0m442 204h0m-83-247h0m-413 131h0m132-176h0m89 475h0m310-151h0m-69-300h0m-407 493h0m19-162h0m450-302h0m-108 343h0m-2 198h0m105-256h0m-498 211h0m-104-132h0m625-214h0m-567-191h0m-71 350h0m555 225h0m-236-108h0m312 24h0m-203-461h0m-126 36h0m-134-114h0m-114 147h0m273-49h0m-11-104h0m113 18h0m-366 537h0m117-342h0m-115-158h0m-65 211h0m171-67h0m-99 9h0m56 338h0m252-389h0m-192 500h0m-179-447h0m626-113h0m35 234h0m-257 321h0m-324-209h0m349 98h0m-311 103h0m225-501h0m290 120h0m-126-16h0m75 306h0m-398 60h0m274-556h0m-307 330h0m432 249h0m-507-439h0m52 172h0m299-227h0m-415 53h0m483-14h0m71 261h0m-388 150h0m246 18h0m118-585h0m-363 147h0m-175 226h0m608-96h0m-440 347h0m396-539h0m-351 555h0m-12-135h0m-33-527h0m351 334h0m-430 84h0m360-318h0m115 137h0m-578 143h0m461-196h0m-59 454h0m-234-438h0m-167 393h0m612-47h0m-210-18h0m277-345h0m-287-136h0m260 224h0m-524 86h0m541-315h0m-444 109h0m143-76h0m-288 545h0m85-424h0m58 312h0m-22-42h0m-190-97h0m492 223h0m95-207h0m-415 247h0m-181-492h0m68 461h0m535-379h0m-61 400h0m-477-583h0m215 491h0m147 125h0m130-438h0m79-174h0m-110 6h0m-163 609h0m-281-342h0m331-204h0m91 60h0m-459-20h0m468 351h0m-27-77h0m-393-117h0m387 120h0m-342-400h0m459 580h0m-337 67h0m359-26h0m-549-264h0m10-184h0m467 66h0m-305 235h0m276-113h0m-497 105h0m22 131h0m570-456h0m-620 468h0m290 26h0m-253-280h0m576-316h0m-127 70h0m-61-25h0m-308 428h0m-87-70h0m104-393h0m393 487h0m-306 86h0m250-25h0m144-358h0m-514 96h0m391-115h0m-55 354h0m192-55h0m-92-541h0m30 139h0m-457 73h0m453-229h0m103 214h0m-21 409h0m-98-167h0m26-256h0m-188-86h0m258 73h0m-133-88h0m-448 245h0m187 221h0m-175-260h0m558-115h0m-633-47h0m342 486h0m142-70h0m-199-512h0m344 117h0m-369 471h0m-100-371h0m430-40h0m-163 406h0m78-619h0m-95 505h0m-406-72h0m518 199h0m135-83h0m-516-278h0m302-174h0m-10-50h0m-403 292h0m428 179h0m105 150h0m-198-583h0m-366 502h0m650-336h0m-204-234h0m-440 452h0m562-11h0m-505-340h0m534 15h0m-383-103h0m394 497h0m-472-242h0m530 371h0m-656-108h0m425 79h0m214-438h0m-334 478h0m-141-647h0m27-9h0m-14 410h0m-139-166h0m516-159h0m57 415h0m44-189h0m-120 119h0m-493 123h0m222-432h0m-224 130h0m25-65h0m-51 235h0m151 16h0m-123-54h0m418-263h0m-336-91h0m357 122h0m-168-138h0m278 4h0m-7 58h0m-12-42h0m-83 364h0m186-82h0m-220-300h0m-425 607h0m536 22h0m-487-437h0m573 380h0m-543 25h0m-108-130h0m198-433h0m365 214h0m-554 269h0m259 23h0m54-503h0m193 173h0m-84 333h0m-282-302h0m315 320h0m-425-362h0m426-128h0m-27-73h0m141 18h0m-45 382h0m-308-250h0m-226 470h0m-11-270h0m64 228h0m223-526h0m-133 90h0m381 406h0m-256-545h0m-207 141h0m374 369h0m-269-507h0m414 137h0m-20 22h0m-522-113h0m104 117h0m-81-102h0m540 369h0m-149-331h0m-449 128h0m498-222h0m-500 357h0m134-104h0m-3 300h0m-47-84h0m-27-286h0m357 341h0m-332 16h0m382-469h0m-168 495h0m-214-583h0m523 37h0m0 314h0m59 131h0m-582-352h0m15 18h0m431-179h0m-150 564h0m242 16h0m-25-266h0m-142 208h0m112 141h0m57-524h0m-295-81h0m341 276h0m-129-115h0m-154 465h0m-289-446h0m-12 366h0m516-277h0m-609-127h0m453-145h0m-305 497h0m257-44h0m258 113h0m-316-21h0m-189-431h0m269-34h0m-60 413h0m228-106h0m82-27h0m-589 272h0m392-657h0m-99 559h0m-331-95h0m607-197h0m-581-140h0m531 209h0m36 160h0m-414 135h0m144-51h0m20-28h0m253-160h0m-467-288h0m184 390h0m-56 63h0m310 33h0m38-335h0m-533 87h0m263 240h0m-294 64h0m239-89h0m-227-131h0m75-388h0m124-58h0m-239 32h0m121 447h0m-168 198h0m604-427h0m39 429h0m-197-139h0m63-378h0m-408 372h0m-90-295h0m131 249h0m-110-128h0m502 91h0m51-90h0m-496 283h0m-44-234h0m20-297h0m558 12h0m-459 392h0m104 60h0m320-114h0m-604 65h0m401-396h0m-289 164h0m475 225h0m-488 102h0m0-327h0m291 322h0m106-485h0m57 428h0m111-175h0m-81 124h0m-245 30h0m39 81h0m-107-557h0m287 612h0m-476-70h0m429-111h0m-421 156h0m94-420h0m447 125h0m23 90h0m-94-157h0m-99 288h0m-350-424h0m491 287h0m-267-308h0m-64 409h0m371-16h0m-375-509h0m242 570h0m-370-484h0m277 472h0m126-316h0m-55 367h0m-475-463h0m183 6h0m-185-176h0m473 213h0m90 354h0m43-362h0m-394-157h0m360 77h0m55 362h0m-602-17h0m57 169h0m363 12h0m-347-572h0m347 429h0m-368 41h0m504-387h0m-226-115h0m-349 225h0m474-231h0m114-14h0m-335 87h0m-189-30h0m69 586h0m411-408h0m-342-238h0m349 172h0m-535-151h0m650 465h0m-168 156h0m-364-165h0m326 47h0m-316-82h0m241 94h0m147-533h0m-551 360h0m117 270h0m-108-160h0m487-241h0m161-3h0m-229-150h0m49-2h0m-329 101h0m144-31h0m180-47h0m-99 409h0m-363-519h0m268 641h0m238-141h0m11-155h0m56-49h0m-97-101h0m-22-150h0m-123 22h0m-97 77h0m352 11h0m-423 298h0m-120-465h0m-35 380h0m14 241h0m482-26h0m-407-254h0m374-229h0m117-23h0m-75 564h0m-84-8h0m54-209h0m-272-312h0m443 293h0m-373 157h0m171 46h0m-317-360h0m525-211h0m-123 550h0m-315-437h0m144 523h0m52-638h0m-183 1h0m-219 492h0m571-540h0m48 549h0m-44-351h0m33 2h0m-595 17h0m362-153h0m127 49h0m-442 523h0m347-143h0m162-234h0m-41 143h0m133-21h0m-102 124h0m-478-157h0m278 326h0m93-608h0m46 407h0m-19-343h0m183 497h0m-312-528h0m213 386h0m-511-310h0m475 223h0m-354 112h0m204-435h0m-346 251h0m453-316h0m-408 288h0m349-168h0m-289-93h0m256-25h0m115 38h0m-98 486h0m83-287h0m-49 438h0m55-303h0m-437-239h0m469-105h0m-166 500h0m-222-293h0m282 250h0m-305-27h0m454 146h0m-530-348h0m542 330h0m-608-597h0m595 144h0m-461 4h0m-70 16h0m64 396h0m397 86h0m-8-435h0m-447 270h0m87-230h0m349-15h0m127-214h0m-159-20h0m177 433h0m-501 76h0m-90-178h0m400-251h0m-297 366h0m416-394h0m-385 168h0m-108 226h0m518-226h0m-458 383h0m-38-541h0m416 60h0m148 426h0m-646 56h0m407-25h0m-295-191h0m116-214h0m-13 362h0m-67-355h0m220 331h0m207 157h0m-89-173h0m51-11h0m-481-410h0m-83 141h0m370 320h0m-223-376h0m482 301h0m24-450h0m-486 646h0m93-79h0m376-189h0m-238-238h0m1 440h0m201-199h0m-471 9h0m-30 272h0m355-186h0m-176 183h0m-109-113h0m-52-348h0m29-95h0m484 202h0m-544 110h0m26 96h0m528 150h0m-465-534h0m-174 197h0m409 165h0m173 56h0m-320-14h0m-125-440h0m498 129h0m42 221h0m-122 166h0m-403-184h0m451-434h0m-104 550h0m-119 3h0m304-43h0m-469 5h0m-58-358h0m266 491h0m-272-176h0m44-318h0m-198 204h0m21-205h0m185 432h0m429-276h0m-243 212h0m236-158h0m-277-339h0m47 644h0m-121-113h0m229-351h0m-61-18h0m-399 384h0m-14-475h0m461-29h0m53 419h0m-365-371h0m292 555h0m-443-638h0m502 587h0m-149-567h0m296 593h0m-279-82h0m-296-513h0m511 345h0m-498-302h0m539 60h0m-582 177h0m514-184h0m-499 27h0m372 397h0m-43 25h0m239 11h0m-27-530h0m-532 213h0m582 257h0m-583-162h0m456-204h0m62 24h0m-584-116h0m594 309h0m-398 134h0m261-488h0m121 26h0m-126 97h0m93 54h0m104-143h0m-529 268h0m411-205h0m93 319h0m-575-39h0m324-403h0m76 599h0m-478-245h0m404 176h0m-287-159h0m392-94h0m-418 221h0m265 14h0m-218 103h0m309-142h0m-148 136h0m-122-388h0m-96 24h0m328-119h0m-386-102h0m449 40h0m112-37h0m-181 531h0m232-424h0m-124 41h0m112 119h0m-181 174h0m165-477h0m59 666h0m-414-31h0m401-389h0m-40 121h0m-427-188h0m-60 439h0m216-585h0m244 97h0m-545 63h0m447-130h0m76 403h0m-548-304h0m185 465h0m-152-491h0m630 222h0m-39 234h0m-381-497h0m50-105h0m332 342h0m-132 95h0m-434 70h0m112-435h0m250 517h0m163-85h0m-475-261h0m146-138h0m315 33h0m-524 480h0m-40-311h0m483 367h0m-434-603h0m504 8h0m64 349h0m-166 211h0m163-421h0m-184-129h0m188 108h0m4 331h0m-606-235h0m16-125h0m-32 97h0m460-47h0m197 255h0m-87 84h0m-485-465h0m569 336h0m-77 68h0m-516 116h0m79-551h0m-93 525h0m456-130h0m81 100h0m-460-468h0m493 386h0m-128-301h0m-47 431h0m152-543h0m-415 34h0m394-28h0m-370 421h0m-18-17h0m-115 144h0m204-560h0m87 622h0m-107 4h0m294-81h0m95-156h0m-555-331h0m-64 165h0m557 373h0m-463-441h0m144-121h0m-112 570h0m33-520h0m384 233h0m-382 99h0m-43-306h0m413 425h0m-72-351h0m-453 122h0m-30 120h0m431-422h0m48 519h0m-70-455h0m96 517h0m83-496h0m-105 80h0m-194-105h0m290-30h0m78 286h0m-369-270h0m342 3h0m-143-77h0m-479 618h0m524-292h0m-428-32h0m480 248h0m-568 43h0m-38 52h0m341-619h0m-36-53h0m355 610h0m-30-35h0m-187-464h0m-42-15h0m210 171h0m-301-120h0m-269 312h0m549-278h0m-270 364h0m-162-161h0m-57-312h0m458 347h0m90 252h0m-648-498h0m292-119h0m-206 41h0m86 324h0m-113 100h0m560-323h0m-490 187h0m73-244h0m402 186h0m-395 298h0m-69-238h0m6-139h0m492-195h0m-126 184h0m-393 216h0m19-395h0m391 273h0m-522 135h0m12-87h0m154-86h0m76-259h0m222 52h0m71 521h0m-123-576h0m40 142h0m-117 500h0m25-54h0m142-363h0m-234-190h0m-231 58h0m471 46h0m-77-4h0m-424 240h0m518 46h0m-123-423h0m224 461h0m-475 129h0m374-360h0m-322-218h0m-50 255h0m29-65h0m225 322h0m-83 107h0m-109-63h0m293-308h0m-474-142h0m97 442h0m3-46h0m321-28h0m-279-423h0m35 129h0m111 376h0m-170 49h0m130-515h0m-149 462h0m440-13h0m-36-389h0m-335-5h0m293-143h0m53 278h0m-488-159h0m69-125h0m536 364h0m-363-346h0m-262 224h0m416 202h0m-440-256h0m37-216h0m352 76h0m-72 10h0m-293 107h0m624 13h0m-538 242h0m-121-177h0m634-264h0m-449 562h0m-163-42h0m166-326h0m237 467h0m-408-79h0m346-518h0m-236 287h0m-65 103h0m19-135h0m37 323h0m17-530h0m-45 452h0m61-398h0m473 350h0m-292 7h0m-298-50h0m460 146h0m-106-455h0m-291-81h0m-54 335h0m-53-3h0m670 0h0m14-204h0m-276-172h0m-324-48h0m562 147h0m-400-14h0m291 278h0m-443-264h0m366-91h0m186 472h0m-378-460h0m329 492h0m-316-383h0m104 467h0m-335 12h0m607-186h0m-455-410h0m357 111h0m-68 55h0m-474 428h0m567-458h0m-567 37h0m168 287h0m153-368h0m317 379h0m24 129h0m-72-523h0m-184-123h0m73 500h0m6 20h0m-477-384h0m178-34h0m425 367h0m23-156h0m-558 248h0m95-424h0m477 366h0m-589-247h0m22-200h0m189 10h0m93 5h0m-129 594h0m-72-588h0m-30 155h0m-73 282h0m18-134h0m364-390h0m-135 4h0m326 306h0m-104-198h0m-457 496h0m-87-263h0m427 298h0m242-90h0m-563-11h0m217 77h0m-246-513h0m364 507h0m75-364h0m11 326h0m20-405h0m-538 354h0m174 36h0m-125-301h0m45 20h0m189-136h0m-193 38h0m-71-81h0m9 180h0m413 383h0m145-249h0m-5-85h0m69-187h0m-169 109h0m7-88h0m-195 439h0m-256-547h0m471 390h0m129-161h0m-246-253h0m-230 100h0m360 86h0m-157-192h0m-275 300h0m415 44h0m0-85h0m2 114h0m-184-271h0m183 258h0m-294-257h0m290 234h0m-425 36h0m16-398h0m406 437h0m151 80h0m-620-136h0m620 35h0m-597 43h0m554-13h0m-343-293h0m40-29h0m-261 158h0m581 5h0m-366-116h0m-28 0h0m140-106h0m-367 321h0m175-198h0m297-3h0m-302-47h0m448 56h0m-90-165h0m-432 289h0m49-262h0m307 47h0m-124-69h0m-107 574h0m199-573h0m-282 467h0m336 105h0m-202-522h0m171 382h0m92-431h0m-430 477h0m70-330h0m-159 100h0m255 288h0m-165-110h0m458-87h0m-150-290h0m50 437h0m-363-41h0m207-419h0m255 474h0m-168 62h0m222-42h0m-30-424h0m-408 75h0m39 290h0m-137-335h0m321-144h0m-178 613h0m-115-374h0m454 349h0m-42-475h0m-533 178h0m667-66h0m-26 404h0m-91-20h0m20-272h0m17 303h0m-480-243h0m557 251h0m1-658h0m-49 380h0m55-229h0m-330 418h0m318-77h0m-92-83h0m-507-105h0m359-226h0m218-30h0m-27 420h0m-436-239h0m281 342h0m-318 12h0m142-2h0m289-334h0m-326-247h0m-187 34h0m546 550h0m-58-134h0m-452-260h0m12-108h0m371 487h0m-235-392h0m418-166h0m-181 11h0m-467 278h0m98 250h0m425-372h0m-112-75h0m-249 454h0m69-71h0m-147-420h0m11 548h0m281-585h0m-354 318h0m58-138h0m75 6h0m299 330h0m-461-129h0m22-152h0m358-161h0m-334 147h0m567 71h0m-484 179h0m6-512h0m266 681h0m115-402h0m-335 306h0m321 80h0m-31 14h0m-354-403h0m-55 161h0m369-379h0m220 350h0m-295-410h0m-176 684h0m9-8h0m15-154h0m-129-53h0m126-244h0m-198 281h0m640-217h0m-91-163h0m129 310h0m-211-421h0m90 647h0m2-416h0m-299 401h0m-181-502h0m-71 168h0m315-245h0m-73 476h0m73 10h0m2-394h0m-179 339h0m488-3h0m-65-357h0m-27 490h0m-407-205h0m-38-225h0m218-130h0m-126 546h0m175-579h0m4 649h0m227-32h0m-334-149h0m-96-302h0m175-184h0m-264 231h0m-79 37h0m603 393h0m-216-641h0m-334 571h0m-51 31h0m431-454h0m151 54h0m-519 9h0m567 255h0m-87-262h0m-228 372h0m-285-202h0m180-218h0m363 487h0m4-217h0m-490-4h0m519-436h0m-361 658h0m-170-680h0m-49 325h0m576-132h0m-305-107h0m-258 58h0m112 284h0m382-228h0m90 265h0m11-271h0m-150-125h0m-459 80h0m435 35h0m-88-28h0m-213-97h0m-164 432h0m501 36h0m-177-517h0m102 487h0m56-51h0m-352 24h0m265-340h0m247 76h0m-351 472h0m-76-123h0m389-113h0m-385-310h0m84 33h0m-45-61h0m330 432h0m-496-17h0m94 46h0m177 53h0m-152-613h0m-114 36h0m138 76h0m393 408h0m-498 140h0m-117-211h0m38 88h0m286-437h0m-181 546h0m56-102h0m274-31h0m-70-454h0m224 38h0m-127 463h0m-331-66h0m176-454h0m141 115h0m-458 498h0m617-218h0m-20 228h0m-635-665h0m1 158h0m158 265h0m282-275h0m-362-69h0m585-48h0m-35 412h0m-461-143h0m505 155h0m-510 136h0m164-515h0m316 227h0m-422 174h0m12 195h0m434-644h0m-181 540h0m-401-557h0m-37 576h0m96-184h0m345 149h0m-413-247h0m178-243h0m421 515h0m-679-112h0m621-399h0m-136 591h0m-344-210h0m267-400h0m-304-33h0m333 626h0m-211-45h0m-135-509h0m277 450h0m-14-14h0m-283-146h0m-41-165h0m628 457h0m-593-246h0m137 48h0m181-375h0m265 420h0m-207 152h0m-298-110h0m-25-466h0m-71 439h0m630 132h0m-84-493h0m-15 220h0m-569-224h0m568 342h0m-466-240h0m27-111h0m519 0h0m-418-159h0m226 682h0m-291-435h0m5 233h0m384-425h0m77 570h0m-215-13h0m-429-559h0m1 54h0m546 225h0m-488 14h0m586-313h0m-36 229h0m-54 267h0m86-4h0m-148-51h0m-266 163h0m-202-357h0m494 242h0m-515-84h0m657-38h0m-461-155h0m-51 112h0m396-173h0m112 77h0m-1 126h0m-217-362h0m144 594h0m26-77h0m-21-116h0m-20 241h0m-471-544h0m225 391h0m-282 42h0m274 103h0m310-26h0m-199-621h0m-79 143h0m283-27h0m-624 513h0m578-86h0m-249-405h0m-156 514h0m-118-641h0m537 224h0m70 271h0m-145-508h0m-419 656h0m561-516h0m-171 19h0m-228 413h0m352-295h0m-427 172h0m-31 36h0m-25-366h0m265 524h0m231-493h0m-519 336h0m515-403h0m-25 222h0m-285-241h0m-165 315h0m135 194h0m64-2h0m282-42h0m-450-417h0m464 335h0m-184-294h0m216 491h0m-26-355h0m-32 346h0m-542-40h0m598-118h0m-77 192h0m-550-8h0m489 13h0m-347-226h0m-60-262h0m23 122h0m73-189h0m459-17h0m-494 92h0m-73 381h0m165-465h0m351 319h0m-505-427h0m33 461h0m-4-401h0m-4-11h0m322 79h0m-14-11h0m-338 537h0m129-568h0m429 346h0m-513 39h0m-68-14h0m476-419h0m42-25h0m-342 638h0m328-516h0m-556 5h0m354 534h0m-205-235h0m451-178h0m-266 256h0m-123 123h0m73 5h0m310-141h0m-606 101h0m468 12h0m-307-584h0m17 100h0m-3 390h0m-104 137h0m427-473h0m-437 117h0m459-311h0m-384 526h0m179-440h0m-280 430h0m486 31h0m-321-522h0m287 261h0m20 96h0m123-70h0m-428-232h0m420 120h0m-19 151h0m-466-147h0m-75 407h0m-28-223h0m568 78h0m-201-415h0m46-58h0m153 497h0m-83-126h0m-131-269h0m-348-42h0m555 170h0m-146 217h0m-455-249h0m585-62h0m-228 28h0m-192 22h0m-44 354h0m115-24h0m164 136h0m-326-630h0m184 624h0m-161-481h0m-23 179h0m165-297h0m-249 463h0m235-485h0m286 571h0m-484 10h0m24-281h0m185 228h0m411-78h0m-608-157h0m-53-218h0m645 586h0m-255-575h0m-277 519h0m221-64h0m-200 67h0m34-212h0m346-206h0m4 457h0m-61-173h0m188 53h0m-609 66h0m152 31h0m315-185h0m-178 67h0m-312 125h0m596-624h0m22 116h0m-21-40h0m-221-71h0m183 78h0m-181 562h0m205-670h0m2 468h0m16 101h0m21-115h0m-174 223h0m-334-93h0m436-238h0m-561 280h0m618-203h0m-632-252h0m206 25h0m-128 6h0m45-102h0m398 315h0m-455 2h0m40-81h0m-99 270h0m90-400h0m371 459h0m-206-596h0m-206 420h0m76 141h0m-46-206h0m80-248h0m-141 256h0m218-405h0m238-11h0m83 67h0m75 109h0m-135 214h0m-375 79h0m-42-29h0m267 131h0m50-21h0m185 92h0m-426-37h0m372-325h0m-350 340h0m422-527h0m74 16h0m-647-71h0m587 15h0m-607 522h0m611-383h0m-44-116h0m-494 19h0m572-97h0m-6 610h0m-70-625h0m-163 572h0m-89-32h0m-330-438h0m682 475h0m-140-367h0m-189-201h0m-328 276h0m604 172h0m-524 21h0m332 45h0m-260-401h0m197 387h0m-4-398h0m99 21h0m-468 265h0m516-339h0m-9 607h0m-368-254h0m528-115h0m-505-293h0m448 21h0m-531 259h0m14-176h0m517 341h0m-287 162h0m268-194h0m-159 122h0m75-67h0m14-168h0m93 151h0m10-112h0m-403-165h0m73-97h0m277 203h0m-326-180h0m272 105h0m138-82h0m-269 31h0m91-20h0m-220 508h0m300-388h0m-61 221h0m-452 113h0m234-507h0m299 170h0m-345-236h0m-171 439h0m565 190h0m-440-53h0m321-432h0m-210 397h0m-97 62h0m341-267h0m19 177h0m-495-355h0m37 386h0m17-235h0m133-321h0m392 669h0m-540-678h0m327 588h0m-143-476h0m224 449h0m15-452h0m5 364h0m129-119h0m-177-160h0m-357-101h0m523 508h0m-470 27h0m452-102h0m-324 37h0m115-503h0m-186 40h0m1-62h0m15 526h0m87-404h0m-215 111h0m545-201h0m-543 263h0m535 53h0m-139-234h0m-289 524h0m-129-591h0m465 435h0m82-445h0m-370 551h0m-43-619h0m-182 424h0m92-40h0m242 267h0m174-336h0m108 187h0m-678 120h0m281 26h0m100-592h0m-44 491h0m-203 117h0m352-444h0m-377-29h0m197-189h0m-68 152h0m279-109h0m-288 146h0m-140 93h0m158-185h0m380 162h0m-57-59h0m112-20h0m-368-143h0m-172 204h0m-99 221h0m561 38h0m-207-387h0m-54-73h0m-14 549h0m-192-565h0m100 536h0m-164-445h0m522-113h0m-139 464h0m-385-470h0m-39 227h0m582 142h0m-67 41h0m-100 128h0m-288-449h0m516 520h0m-600-540h0m248-23h0m216 452h0m-453-445h0m528 449h0m-407 42h0m-166-459h0m251-40h0m-62 533h0m-22-392h0m339 6h0m-348-165h0m37 642h0m-193-486h0m176 32h0m-109 206h0m57-403h0m-54 622h0m122-130h0m-205-235h0m569-20h0m-101-257h0m78 92h0m-46 217h0m0-126h0m120 103h0m-237 235h0m205-114h0m-533 275h0m588-538h0m-26 228h0m-281 230h0m186 29h0m-49-635h0m-458 328h0m345-192h0m-194-1h0m-129 521h0m568-501h0m-71 469h0m-72-126h0m-463-304h0m62 132h0m495-204h0m1 316h0m-26 159h0m-303-469h0m-155 535h0m521-551h0m-544 285h0m429 275h0m-352-525h0m-102 265h0m410 273h0m142-662h0m-76 75h0m57 340h0m-115 156h0m-271-548h0m398 304h0m-185-227h0m-356 492h0m-42-177h0m228 50h0m412-380h0m-460 507h0m341-254h0m-446 245h0m230-592h0m89 82h0m236-95h0m-297 77h0m147 117h0m27 196h0m125 25h0m-416 215h0m373-74h0m-408 62h0m-56-83h0m188 45h0m238-235h0m-181 315h0m-343-571h0m9 558h0m612-289h0m-144-124h0m-214-166h0m347-60h0m-587 285h0m457-273h0m-141 43h0m-22 574h0m-328-217h0m520 117h0m68-272h0m-264-213h0m289-18h0" fill="none" stroke="#f18422" stroke-width="9.6" stroke-linecap="round"/>
<path transform="scale(.5)" d="M2690 1388h0m31-136h0m-38 30h0m281 30h0m-174 154h0m-79-174h0m185 145h0m-34-53h0m-181-86h0m106-18h0m103-54h0m-72 239h0m-85-120h0m-20-22h0m85 147h0m95-133h0m77 36h0m-62 60h0m22 11h0m-8-28h0m-157 29h0m114-205h0m-40 283h0m-110-166h0m233 32h0m-140-18h0m-37 146h0m33-302h0m-61 43h0m130 55h0m-1 180h0m-13-74h0m-133-6h0m158-52h0m-83 30h0m103-71h0m-3 112h0m8-150h0m-262 24h0m110 6h0m-67-17h0m134-51h0m-48 98h0m117-83h0m-131 70h0m-105 8h0m110 163h0m132-27h0m-97-208h0m-38 251h0m49-148h0m102 109h0m-57-237h0m96 95h0m-147-74h0m-75 3h0m134 85h0m-57 61h0m-37-100h0m-20-38h0m194 120h0m-80-145h0m-25 61h0m-110 145h0m154-236h0m-105 187h0m60-199h0m-133 61h0m186 202h0m61-174h0m-209-12h0m65-39h0m-146 76h0m298 98h0m-91-185h0m-201 207h0m190-25h0m-59-60h0m-134 77h0m288-58h0m-127 141h0m-152-221h0m5 86h0m3 24h0m35 36h0m107-53h0m-10 141h0m-112-106h0m67-106h0m106 76h0m45 91h0m-247-139h0m223-74h0m9 102h0m-106 97h0m135-20h0m-263-50h0m72 24h0m-62-109h0m220-36h0m-93 80h0m125-41h0m-234 59h0m80 151h0m103-126h0m-141 49h0m-28-212h0m191-7h0m-64-30h0m-2 155h0m-48 172h0m-40-184h0m75-121h0m40 147h0m-78-158h0m-82 204h0m171-186h0m29 230h0m-92-91h0m-52 46h0m13-117h0m-101 8h0m120 153h0m27-268h0m86 301h0m16-126h0m-224-121h0m-34 153h0m150 47h0m9-153h0m-91 185h0m144-37h0m48 10h0m3-33h0m6 45h0m-79-105h0m9 85h0m16 53h0m-48-219h0m-38 140h0m50-148h0m-89 136h0m108-166h0m-92 99h0m82 67h0m-25 33h0m-159 15h0m34-56h0m247-35h0m-14-20h0m-213 6h0m101 59h0m31-62h0m99-29h0m-55 77h0m26-20h0m-42 9h0m-73-27h0m-85-98h0m6-2h0m-67 94h0m189 17h0m-43-162h0m-84 45h0m9 186h0m123 57h0m-3-280h0m0 167h0m-21-4h0m-143 115h0m120-279h0m-95 289h0m158-10h0m-103-177h0m135-87h0m-10 3h0m-145 169h0m38 102h0m146-182h0m-125 22h0m35-79h0m-21-10h0m-58 150h0m-19-102h0m142 44h0m-31 7h0m-96 30h0m-11 79h0m93-15h0m-13-114h0m2 62h0m136-21h0m-295-56h0m124-20h0m-110 5h0m180 22h0m-33 124h0m58-127h0m-118 106h0m-95-7h0m224 23h0m-222-78h0m23-38h0m187 43h0m-193 1h0m124-149h0m31 217h0m-132-171h0m-12 30h0m-68 101h0m143-204h0m-42 293h0m55-92h0m-95-161h0m2 106h0m142 166h0m59-207h0m-41 128h0m17-112h0m-63 53h0m-115-76h0m195 116h0m-58 11h0m-58-215h0m10 25h0m106 249h0m-189-234h0m-41 63h0m107-90h0m191 193h0m-241 41h0m217-173h0m-61 2h0m69 61h0m-135-72h0m143 119h0m-187-118h0m-35 28h0m120-7h0m-157 125h0m17-54h0m22-14h0m29 109h0m105-195h0m63 199h0m-263-123h0m212 121h0m43-13h0m-122 22h0m43-112h0m1 42h0m18 111h0m-34-89h0m-17-100h0m24 72h0m-129-95h0m186-29h0m-100 41h0m-46-4h0m122 172h0m64-129h0m-139-10h0m2-110h0m129 172h0m-134-183h0m-86 213h0m17 16h0m-56-129h0m279 62h0m-192 93h0m111-171h0m-43 223h0m-42-33h0m70-269h0m-129 35h0m247 134h0m-113-80h0m-189 61h0m122-64h0m142 63h0m-118 90h0m42-228h0m-144 147h0m208 35h0m-270-72h0m182-51h0m41 202h0m-86-113h0m125-144h0m-223 70h0m197 203h0m-202-126h0m204-4h0m-1 96h0m-134-221h0m-5 183h0m100-175h0m-101-51h0m8 86h0m97 96h0m-27-45h0m-48 156h0m-48-164h0m157 1h0m-132 161h0m72-153h0m30 160h0m-163-163h0m124-134h0m-11 307h0m-72-235h0m-39-29h0m-24 137h0m140-130h0m-95-31h0m190 153h0m-99-76h0m-113 70h0m82 57h0m96-177h0m-137-7h0m-39 13h0m-53 45h0m46-24h0m69 79h0m106-21h0m61 94h0m-111-128h0m33-100h0m11 192h0m-155 74h0m198-156h0m-109-93h0m78 144h0m-207-7h0m44 75h0m120-218h0m-38 230h0m68 7h0m41 18h0m-227-187h0m-16 103h0m111 8h0m101 120h0m-134-255h0m174 108h0m-7 27h0m-160-162h0m184 26h0m-90 97h0m-75-141h0m117 252h0m-87-214h0m88 45h0m-41 59h0m-155-112h0m67 7h0m169 10h0m-143 131h0m-93-97h0m45 93h0m230-18h0m-144 136h0m-98-282h0m25 182h0m116-184h0m-25 207h0m134-99h0m-65 0h0m-72-51h0m88 135h0m18-8h0m-266-123h0m-3 5h0m40 160h0m7-109h0m-40 68h0m51 3h0m-28-80h0m134-31h0m130 88h0m-296-121h0m152-41h0m-7 43h0m-31-65h0m189 194h0m-78-142h0m-227 61h0m-12 96h0m100-9h0m195-108h0m-203 54h0m-71 41h0m300-41h0m-203 116h0m-111-88h0m62-7h0m148-39h0m12 55h0m-55-4h0m-55-112h0m-122 76h0m128 53h0m-47 80h0m198-170h0m-65 95h0m-165-42h0m94 156h0m119-134h0m-251-19h0m154 145h0m148-148h0m-55-77h0m-199 126h0m173-10h0m-171-98h0m61 0h0m52-61h0m144 139h0m-238-150h0m238 83h0m-217-72h0m87 118h0m-91-94h0m99 250h0m-126-42h0m54-194h0m-129 17h0m57-20h0m61 173h0m51-10h0m-58-60h0m-57-137h0m100 224h0m-76-15h0m177-107h0m-87-21h0m-158 5h0m269 40h0m-230 61h0m-5-195h0m68 38h0m127 60h0m-139 23h0m-88 73h0m120-21h0m184-106h0m-205-103h0m49 57h0m-28-41h0m5 0h0m-22 163h0m178-110h0m-59 70h0m-72 11h0m151-2h0m-194-11h0m76-118h0m46 272h0m34-182h0m-139 38h0m-2-90h0m-104 190h0m144 54h0m42-289h0m-106 232h0m208-19h0m-50-55h0m-142 104h0m162-96h0m14 7h0m-203 109h0m26-46h0m108-73h0m-173 105h0m33-179h0m-19 47h0m115-5h0m-47 35h0m41-78h0m55-5h0m-59 126h0m-127-176h0m7 161h0m98 124h0m-8-132h0m4 88h0m12-301h0m-159 216h0m57 5h0m248-110h0m-197 227h0m-20-167h0m178-46h0m-141 48h0m11-71h0m-17 175h0m54-85h0m-152 36h0m-19-83h0m247 112h0m-144-49h0m-22-166h0m-52 233h0m114 31h0m-23-156h0m65 67h0m-106-174h0m62 279h0m100-115h0m-35-145h0m-20 242h0m-193-191h0m161-100h0m129 250h0m-96-237h0m-27 288h0m99-201h0m-172 218h0m63-97h0m113 31h0m25-78h0m-122-40h0m-28 186h0m25-290h0m122 41h0m-137 239h0m-56-153h0m87 109h0m97 3h0m28-185h0m-247 151h0m19-82h0m-14-84h0m16-26h0m212 33h0m-17-3h0m-108 50h0m4-72h0m-89-37h0m100 85h0m-27 0h0m90 182h0m-132-72h0m-44-45h0m-56 60h0m88-84h0m17 172h0m96-104h0m17-197h0m-74 312h0m-81-76h0m-73-34h0m288-62h0m-111-71h0m-178 22h0m283 123h0m-153-53h0m12 62h0m-55-14h0m57 112h0m-120-269h0m119 220h0m77-272h0m-135 25h0m189 28h0m48 76h0m-14 32h0m-142 68h0m-119 27h0m204-222h0m-121 98h0m-82 14h0m81-75h0m3-45h0m-1 116h0m89 24h0m68 22h0m1-63h0m-42 4h0m-217 93h0m84-167h0m-48 126h0m11 88h0m128-103h0m15 60h0m-138-140h0m23-33h0m53 187h0m-142-22h0m164-71h0m82-56h0m-57 146h0m-109-143h0m174 151h0m-278-155h0m-3 19h0m137 158h0m44 42h0m-139-57h0m29-235h0m208 169h0m-147 131h0m-17-312h0m42-21h0m126 224h0m-175 52h0m0-238h0m-34 132h0m53-32h0m147 140h0m-159-93h0m-2-77h0m30 54h0m161 14h0m-255-54h0m79-5h0m-48 16h0m193 40h0m-14-124h0m-101 48h0m29 225h0m-12-292h0m-158 190h0m152-54h0m-124-123h0m169 174h0m-159-161h0m0 128h0m-13 48h0m193-212h0m-177 60h0m-59 39h0m300 131h0m22-98h0m-195 169h0m52-179h0m-14-99h0m167 101h0m-120-127h0m-184 130h0m227-56h0m-49 56h0m38-60h0m55-14h0m-28 176h0m-78-19h0m-186-114h0m143 56h0m64-46h0m67 134h0m-262-71h0m104 48h0m155-36h0m-67 41h0m-81-62h0m119 122h0m-111 19h0m128-75h0m-5 6h0m-103-212h0m56 245h0m-49 11h0m155-202h0m-289-23h0m210 191h0m-235-70h0m99-53h0m165-54h0m-57 134h0m-42 81h0m-23-212h0m55 222h0m122-126h0m7-7h0m-290-6h0m-14-89h0m45 64h0m13-45h0m240 111h0m-314-89h0m199 129h0m-79-222h0m89 167h0m-184 16h0m206-98h0m-97 17h0m-5-67h0m30 217h0m-9-50h0m-165-104h0m109 51h0m102 146h0m-50-189h0m25 34h0m-80 47h0m41 22h0m170-29h0m-289-38h0m172 45h0m-151-105h0m66 106h0m-70 35h0m187-119h0m52 20h0m-16-119h0m-111 234h0m-10-43h0m79-194h0m72 164h0m-15-24h0m-46 9h0m63-63h0m-139 212h0m170-214h0m-88 45h0m-226 35h0m135 134h0m112-224h0m-166 111h0m206-153h0m-204 22h0m5 136h0m149-43h0m-174 61h0m109-219h0m-25 28h0m-58 210h0m-5-55h0m171-58h0m53-47h0m-148 147h0m-49-44h0m-26-32h0m167 80h0m-32 61h0m-92-125h0m6-112h0m158 11h0m-88 58h0m48-64h0m-143-28h0m89 182h0m-179-133h0m72 105h0m65-100h0m37 69h0m-63-175h0m11 89h0m-45 112h0m154-7h0m-25-27h0m-50 113h0m21-118h0m-94-60h0m-3 197h0m2-254h0m-84 211h0m102-48h0m145-121h0m3 104h0m-192 31h0m12-145h0m211 27h0m-315 29h0m251-72h0m-103 240h0m-22-113h0m15-37h0m34-115h0m-44 158h0m191 45h0m-99-52h0m4-30h0m-188 38h0m23 26h0m226 15h0m23-79h0m-122-90h0m12 25h0m88 88h0m-94 49h0m15 52h0m-98 29h0m2-158h0m114-107h0m-51 91h0m4-122h0m33 288h0m70-240h0m-12-9h0m-247 123h0m235-112h0m-190 81h0m59-37h0m-114 123h0m175 100h0m10-260h0m-172 185h0m47-186h0m18 99h0m14 23h0m168-47h0m-13-36h0m-183 38h0m30-70h0m-19 136h0m-94-57h0m129-18h0m159-69h0m-46 112h0m-127 87h0m75-15h0m99-160h0m-97 218h0m23-41h0m85-74h0m14-72h0m-74-2h0m79-42h0m-273-30h0m249 107h0m-95 55h0m-166-65h0m168 153h0m79-157h0m-128-13h0m49 106h0m-89-76h0m165-22h0m-175 62h0m164 41h0m-177 46h0m215-60h0m35-38h0m-166-185h0m-89 168h0m113-99h0m-80 200h0m188-74h0m-25 61h0m-68-158h0m-121 175h0m51-258h0m-92 82h0m134-95h0m-48 217h0m97-63h0m9 5h0m-111-76h0m117 212h0m-10-102h0m-71 13h0m136-63h0m-118 56h0m-164 16h0m7-60h0m166-59h0m-135-8h0m261 86h0m-252-73h0m103-71h0m-154 53h0m270 132h0m4 52h0m-166-112h0m-2 110h0m122-86h0m-146-160h0m28-21h0m130 156h0m-215 116h0m162 40h0m-75-240h0m-32 82h0m226 70h0m-242 46h0m-51-83h0m-24 18h0m232 102h0m-170-67h0m238-122h0m-16-27h0m-127 79h0m54-50h0m-76 82h0m20 99h0m-60 16h0m122-21h0m-153-167h0m153 0h0m56 137h0m-171-34h0m-76-78h0m151 39h0m1 115h0m-83-93h0m165 76h0m-17-236h0m-20 48h0m-209 115h0m190-186h0m-166 54h0m297 85h0m-204 106h0m129-228h0m-53 271h0m-114-209h0m146 118h0m90-71h0m-228-36h0m185 1h0m-238-54h0m160 231h0m-87-70h0m98-179h0m-134 22h0m119 198h0m-56 28h0m6-187h0m-41-10h0m-44 63h0m-4 58h0m207 20h0m-105-156h0m36 62h0m68 41h0m-73 128h0m-30-59h0m-128-167h0m113 24h0m128 104h0m-61-63h0m-134 66h0m19-144h0m55-3h0m-22 28h0m-105 108h0m29-67h0m261 51h0m-198-101h0m-57-41h0m10 79h0m39 56h0m146 3h0m-173 111h0m14-281h0m-5 162h0m51-53h0m-21-50h0m-38 44h0m-61-38h0m32 31h0m-17 81h0m260-66h0m-117-136h0m1 203h0m-121-6h0m137-30h0m40-114h0m-69 0h0m-92 54h0m181 140h0m-12-148h0m-101-72h0m99 176h0m-93-53h0m-85 156h0m134-124h0m87 67h0m-241-57h0m185-91h0m-33 202h0m-109-83h0m63-139h0m118-40h0m-80 188h0m-134 65h0m67-225h0m0-38h0m54 276h0m57-149h0m-108 90h0m-14 46h0m77-186h0m-49 14h0m-3 49h0m161-95h0m-89-58h0m105 74h0m-154-18h0m-79 198h0m50-6h0m153-12h0m-24-86h0m51 41h0m-292-15h0m196 36h0m-81-111h0m-20-68h0m130-31h0m67 198h0m-82 71h0m-162-57h0m-24-17h0m183-190h0m37 29h0m-195 60h0m131 193h0m16-7h0m-137-191h0m-15 10h0m81 194h0m31-50h0m47-245h0m-67 284h0m85-50h0m-31-214h0m7 84h0m-29-50h0m88 178h0m-222-158h0m118 237h0m103-66h0m-160-39h0m-58-56h0m198-87h0m-32 165h0m-39-74h0m-39-117h0m-67 87h0m192 62h0m-201 30h0m115 51h0m-68-179h0m191 73h0m-225 130h0m7-38h0m59-115h0m-78-69h0m198 9h0m-49-10h0m-64-68h0m-11 127h0m134-57h0m-169-2h0m12-25h0m90 121h0m-9-48h0m23-85h0m-134 206h0m183-120h0m-28-13h0m45 40h0m-200-76h0m102 194h0m89-1h0m-160-97h0m-71-101h0m-50 51h0m88 188h0m-39-93h0m67-182h0m85 258h0m11-212h0m70 88h0m-112-170h0m-124 70h0m151 86h0m-141 110h0m111-67h0m-84-183h0m55 226h0m-105-92h0m246 30h0m-132 120h0m105-216h0m-195 140h0m105 99h0m-86-229h0m67 196h0m-145-136h0m221-145h0m24 159h0m-131 151h0m43-135h0m-113-27h0m147 142h0m-121-255h0m197 89h0m-172-78h0m62 131h0m-61-184h0m56 302h0m-110-211h0m83 204h0m140-223h0m-65 92h0m-114-72h0m-74 112h0m236-167h0m-194 132h0m-21-111h0m43 157h0m-56 28h0m71-236h0m126 129h0m-155 23h0m178-15h0m-116 171h0m5-5h0m-4-232h0m26 78h0m75 119h0m-62-33h0m-28-152h0m134 181h0m-137-198h0m-8 43h0m-52-91h0m-2 205h0m15-81h0m76 5h0m-91 78h0m172-41h0m-27-50h0m-33-132h0m-135 260h0m25-9h0m-68-54h0m280-125h0m-195-23h0m41 111h0m-25 58h0m124 0h0m-51-207h0m63 218h0m7-56h0m-201 21h0m104-180h0m143 226h0m-197-237h0m7-7h0m107 223h0m14-179h0m-161-27h0m165 149h0m-21-55h0m-149-56h0m38 26h0m40 171h0m-9 25h0m-19-281h0m-52 130h0m126-48h0m-57-10h0m63 236h0m-62-204h0m0-100h0m-122 71h0m111 198h0m-106-125h0m183-138h0m63 17h0m54 191h0m-296-103h0m267-28h0m-188 147h0m124-63h0m-30 30h0m-87-139h0m-97 103h0m157-123h0m-44 232h0m192-123h0m-142 112h0m-144-202h0m53-46h0m-26 58h0m85-35h0m-89 236h0m170-19h0m-153-183h0m51 89h0m-20-120h0m150-7h0m18 30h0m-119 221h0m62 33h0m38-184h0m1 164h0m-63 24h0m-90-252h0m161 169h0m-34-148h0m58 97h0m44-37h0m-179-165h0m159 197h0m-276 71h0m82-149h0m-77 106h0m13-29h0m147-22h0m-18-50h0m102 96h0m-150-36h0m131 95h0m-45-160h0m-171 73h0m170-117h0m17 82h0m-199-10h0m215-21h0m75 21h0m-306 61h0m204 56h0m-62-238h0m173 113h0m-134-98h0m-63 272h0m2-88h0m127 9h0m20 9h0m-147-222h0m-84 248h0m164-257h0m-34 304h0m62-40h0m-223-27h0m279-80h0m26 47h0m-147-166h0m53 28h0m0 2h0m-52 22h0m-32 29h0m56 3h0m-18-10h0m105 134h0m-217 31h0m-65-76h0m126 76h0m-106-19h0m99 53h0m183-229h0m-262 184h0m237-230h0m-180 80h0m-2-11h0m-10-64h0m-50 131h0m84 77h0m177-129h0m-172 152h0m-83-77h0m183-145h0m-59 37h0m-154 130h0m140-38h0m-57 44h0m48-210h0m-52 47h0m-14 162h0m104 6h0m60 50h0m-69 46h0m-173-105h0m37 14h0m234-64h0m-221 116h0m21 9h0m21-232h0m146 240h0m-127-292h0m12 124h0m151 122h0m-123-265h0m5 256h0m-18-254h0m82 134h0m87 43h0m-212 104h0m69-161h0m68-89h0m37 248h0m-198-263h0m87 220h0m-41 30h0m-32 22h0m27 0h0m97 17h0m-43-77h0m122 44h0m-121-168h0m103-68h0m18 98h0m-166 80h0m59-36h0m-114-125h0m205 198h0m-71 48h0m9-174h0m-145 24h0m31 3h0m-94 1h0m116 161h0m-51-249h0m-7 149h0m193-195h0m4 173h0m-104-9h0m-129-60h0m36 110h0m75-125h0m123 106h0m49 19h0m-21-12h0m-92 51h0m-25 20h0m89-211h0m-87-19h0m-34 39h0m34 152h0m55-151h0m2-89h0m-166 222h0m13-154h0m91 84h0m-105-117h0m173 157h0m-227-36h0m113-135h0m-112 60h0m75-29h0m241 87h0m-116 109h0m15-50h0m-149-198h0m136 90h0m-2 111h0m-111-99h0m-15 129h0m198-70h0m-95-87h0m-146 17h0m-9 163h0m90-227h0m-3 250h0m-56-141h0m118 114h0m32-3h0m-193-140h0m270 108h0m-133-225h0m108 238h0m0-139h0m-50-59h0m-217 63h0m59 15h0m203 155h0m-176 23h0m-40-119h0m180-15h0m68 97h0m-29-151h0m-110 59h0m-95-142h0m147 245h0m-49-122h0m149 82h0m-61 59h0m-36-135h0m-159 53h0m-27-117h0m171 223h0m-105-92h0m63 42h0m-118-23h0m255-55h0m31-74h0m-291 133h0m153-15h0m128 7h0m-165-213h0m3-11h0m-101 145h0m124 19h0m-41-44h0m-25-19h0m15-99h0m47 78h0m104-22h0m-113 118h0m130-110h0m-141 37h0m-7 93h0m44-48h0m-47 2h0m-76-52h0m163 102h0m-110-154h0m-3 147h0m84-19h0m-81-171h0m81 203h0m82-88h0m-193 78h0m29-58h0m34-105h0m-55-45h0m195 96h0m-270 97h0m75 89h0m145-110h0m-187 108h0m162-143h0m-211 40h0m269 60h0m-127-37h0m-52-90h0m142-45h0m7 68h0m-180-64h0m146 225h0m-12-302h0m12 311h0m-17-101h0m-109 35h0m128-83h0m-52-13h0m155 91h0m-32-17h0m-119-32h0m44 47h0m-60 94h0m-120-200h0m310 33h0m-143 46h0m92-132h0m-85-2h0m-140 85h0m196 32h0m-210-117h0m90 94h0m133 84h0m-241-46h0m276-93h0m-259 108h0m124 107h0m-30-299h0m42 29h0m144 132h0m-63-137h0m-38-27h0m-68 189h0m-9 109h0m88-6h0m-103-197h0m-16 87h0m72-153h0m1-60h0m-39 306h0m122-108h0m-23 64h0m-130-52h0m-118-50h0m124-72h0m179 50h0m-216 130h0m152-140h0m-206-52h0m290 73h0m-255-40h0m-46 40h0m128-87h0m11 64h0m90-61h0m-136 19h0m-78 39h0m254-16h0m-126-49h0m-116 218h0m160-29h0m35-9h0m-68-211h0m38 154h0m-24 123h0m32-250h0m-217 112h0m111-134h0m7-4h0m115 6h0m64 170h0m-244-33h0m91 57h0m118-185h0m-190 267h0m23-231h0m19-38h0m186 216h0m-197-83h0m23 159h0m175-258h0m-117 126h0m13-82h0m-48 135h0m31-46h0m-79 3h0m-97-53h0m229 129h0m-131-120h0m-55-9h0m4 121h0m165-39h0m-179-121h0m213-6h0m-81 131h0m-117 52h0m32-103h0m24 96h0m93-245h0m-109 253h0m178-206h0m-252 57h0m242 157h0m-35 22h0m43-78h0m-5-80h0m-249 73h0m248-178h0m-75-59h0m-108 221h0m113-83h0m-23-88h0m104 107h0m-65-110h0m57 247h0m-187-266h0m208 227h0m-95-233h0m45 153h0m4-32h0m-179 94h0m-1-48h0m233-58h0m-35 38h0m-162 20h0m20 10h0m19 23h0m71-4h0m-171-14h0m-23-35h0m44-80h0m-5 46h0m227 32h0m-70-85h0m-175 88h0m71-108h0m137 249h0m59-68h0m-86-169h0m44 56h0m-71-68h0m12 220h0m-31-45h0m143-125h0m-103 134h0m-4-96h0m-41 175h0m41-284h0m-87 158h0m-60-116h0m-34 89h0m81 83h0m27-25h0m164-129h0m-142 76h0m-102 75h0m260-147h0m-258-65h0m81 285h0m37-246h0m11-26h0m-114 186h0m-14-14h0m132 44h0m-151-45h0m-4 2h0m6 32h0m56-156h0m176 84h0m-100-49h0m-33 21h0m93-29h0m-1 66h0m-11 56h0m-98-8h0m33-90h0m-139-18h0m174 101h0m-186-7h0m249-66h0m-215-27h0m156 48h0m3 77h0m-52 57h0m80-290h0m22 268h0m-45-33h0m-69-9h0m48-104h0m-56-8h0m-101 63h0m28-67h0m248 36h0m-74 49h0m-170-50h0m163 77h0m-49-209h0m-10 19h0m-46 177h0m62-190h0m73 174h0m-104 51h0m130-211h0m-234 9h0m182 165h0m-163 54h0m6-218h0m-2 193h0m150-168h0m69 73h0m-149-82h0m-101 60h0m-4 64h0m2-15h0m205 31h0m-60-116h0m101-57h0m-22-13h0m-119 40h0m176 2h0m-87 76h0m-127-124h0m150 245h0m-67-171h0m-24-50h0m144 77h0m-89 43h0m-46-1h0m-13 1h0m21-66h0m-149 25h0m31 43h0m194-136h0m-215 136h0m231 74h0m-207-75h0m254-90h0m-208 131h0m108-32h0m-14-180h0m112 211h0m-184-67h0m121 133h0m-18 8h0m-84-210h0m-5-24h0m1 249h0m120-28h0m-193-12h0m50-119h0m18-21h0m73 120h0m-28-175h0m-32-52h0m112 152h0m-31-142h0m3 26h0m-72-23h0m-149 203h0m211 2h0m-91-121h0m-62-58h0m101 261h0m-121-143h0m79 133h0m86-244h0m-75-22h0m92 4h0m-11 240h0m-24-232h0m-1 267h0m84-165h0m-261-52h0m173 59h0m-140 130h0m0-248h0m68 190h0m-53-186h0m197 92h0m-136 48h0m112-123h0m-197 103h0m182 117h0m-196-130h0m85 164h0m-19-59h0m9-90h0m93-61h0m-193 107h0m130-195h0m177 135h0m-209-80h0m-32 124h0m42-90h0m49 163h0m-150-80h0m181 103h0m-90 2h0m69-146h0m40-137h0m-9 1h0m-62 259h0m18-180h0m-76-45h0m-27 147h0m133 98h0m105-212h0m-161-40h0m106 163h0m-224-14h0m91-150h0m0 72h0m128 58h0m-75 137h0m-4-161h0m152-55h0m-273 71h0m55-135h0m132 249h0m10-192h0m-90 62h0m-46 39h0m37 92h0m131-178h0m-6-23h0m-163-9h0m38 109h0m-45 76h0m-87-78h0m282-11h0m-29-24h0m-142 108h0m176 17h0m-142-137h0m-12-78h0m-94 158h0m216-187h0m-157 264h0m49-190h0m-2 109h0m51-77h0m84 31h0m-148-142h0m29 289h0m6-10h0m-107-152h0m103 141h0m42-152h0m-61 77h0m47-37h0m-44-55h0m-88 156h0m58-196h0m60-73h0m-134 94h0m81 107h0m51-79h0m-23 42h0m-124-113h0m201 25h0m17 32h0m26 134h0m-184-5h0m59-227h0m-78 121h0m-9-39h0m-13-51h0m153 51h0m-23-17h0m-78 104h0m48 28h0m41-221h0m40 45h0m-57 162h0m-51 22h0m74 56h0m-16-232h0m-172 141h0m148-56h0m21 98h0m95-29h0m-154-88h0m-26 46h0m-25-22h0m77 80h0m9 8h0m30-51h0m11-49h0m54-41h0m-165 46h0m-68 31h0m145-132h0m-152 135h0m18-45h0m284 104h0m-136 19h0m-69-11h0m70 77h0m64-241h0m-142 95h0m50 2h0m92-24h0m-25-117h0m20 14h0m73 109h0m-186 57h0m-40-140h0m111 123h0m-88-177h0m29 302h0m83-18h0m-91-172h0m114-28h0m26 90h0m-135-5h0m-32 62h0m-76-39h0m218-126h0m-214 190h0m103 33h0m-21-260h0m120 165h0m-34 102h0m-82-20h0m112-234h0m88 193h0m-103 37h0m52-253h0m-41 156h0m34-2h0m-14 94h0m8-232h0m-190-6h0m10 17h0m80 80h0m-137-21h0m121 210h0m-63-65h0m161 12h0m-125-207h0m61 173h0m-97-177h0m34 258h0m21-61h0m-99-51h0m149-5h0m39-19h0m-24-60h0m-103 135h0m152-75h0m-9 6h0m-35-137h0m13 15h0m26 206h0m-116-18h0m16-129h0m-113-10h0m79 21h0m158-110h0m-192 171h0m-44-11h0m78 89h0m114-113h0m45-105h0m42 46h0m-80 183h0m-198-202h0m-22 89h0m0 18h0m121-113h0m118-14h0m-207-12h0m110-41h0m-38 54h0m-6-43h0m-26 217h0m240-79h0m-240-122h0m167 248h0m10-85h0m-66-141h0m88 158h0m-211 70h0m240-86h0m-26-167h0m-90 147h0m106 76h0m-128-69h0m79 87h0m14 5h0m-148 26h0m-21 6h0m175-178h0m-87-19h0m87 0h0m-216 81h0m146-58h0m-191 0h0m325 21h0m-180-104h0m112 175h0m-217-28h0m227-109h0m-149-93h0m42 33h0m-29 103h0m84-39h0m31 117h0m-185-77h0m209-62h0m-3 99h0m-119-83h0m102 175h0m-75-43h0m102-127h0m-104-32h0m-56-61h0m24 322h0m66-261h0m-1 158h0m10-206h0m5 303h0m58-67h0m-54 59h0m-75-276h0m13 291h0m166-184h0m-85-50h0m-39 98h0m21-62h0m37 43h0m15-108h0m-261 64h0m30 59h0m132-138h0m-66 18h0m214 109h0m-263-9h0m219-91h0m-241 15h0m87 132h0m35-210h0m24 152h0m-44 100h0m-88-24h0m-25-91h0m-9 7h0m241 123h0m-120-136h0m171 1h0m-115-82h0m-8 7h0m-107 30h0m30 26h0m-5 104h0m113-104h0m41 75h0m-154-156h0m103 65h0m-44-118h0m98 106h0m-192 185h0m158-3h0m-121-183h0m-76-45h0m170 5h0m-8-6h0m45-32h0m85 102h0m-161-19h0m-49 50h0m79 172h0m12-77h0m-68-118h0m35-21h0m28 170h0m-92-253h0m-32 253h0m-36-237h0m1 208h0m85 7h0m-36-186h0m-2 191h0m-92-154h0m118 189h0m-3-47h0m174-137h0m-124 190h0m47-90h0m-81-149h0m138 105h0m-175-54h0m6-55h0m152-31h0m-166 147h0m116-167h0m-35 122h0m-44 44h0m-24-163h0m39 84h0m24 123h0m99-132h0m-153 189h0m71-62h0m5-55h0m147 26h0m-89 26h0m-139 50h0m23-5h0m94-140h0m45-31h0m-110 134h0m11-173h0m75-36h0m-87 207h0m-25-160h0m-93 54h0m204 47h0m51 90h0m-283-107h0m160 14h0m-20-23h0m-35 58h0m50 102h0m-28-73h0m-44-161h0m-57 169h0m163-181h0m-164 95h0m52 26h0m5-5h0m167 16h0m-162-97h0m-7 197h0m100-169h0m-138 68h0m-6-57h0m79-40h0m90 238h0m49-276h0m-166 87h0m136-64h0m-201 111h0m89 57h0m153 7h0m-147-35h0m118 39h0m-190-196h0m252 182h0m-229-134h0m175 91h0m-157-144h0m18 260h0m-12-237h0m26 58h0m-35 110h0m144 58h0m30-265h0m35 73h0m-218 8h0m7 178h0m11 21h0m151-93h0m7-42h0m-233-40h0m225 64h0m72 9h0m-300-67h0m63 7h0m37-51h0m70 149h0m-143 19h0m98-111h0m4-92h0m-62 211h0m159-229h0m-6 179h0m43-32h0m-282-2h0m154 22h0m-7-67h0m110 102h0m-207-20h0m277-96h0m-96-88h0m-40 267h0m-54-36h0m-92-40h0m84 58h0m-114-154h0m261 100h0m-69-10h0m-46-142h0m-126 13h0m187 41h0m64 62h0m-33-163h0m-137 153h0m4 132h0m-23-112h0m80-113h0m-49 85h0m94-170h0m27 140h0m-135-81h0m63-25h0m-111 142h0m25-143h0m171 256h0m-186-218h0m16 39h0m109 160h0m-92-62h0m-53-65h0m103-106h0m35 117h0m-165-80h0m109-45h0m-88 17h0m0 95h0m-10 133h0m219-182h0m-191-14h0m131 59h0m-70-107h0m-22 24h0m-3 198h0m90-179h0m-72 18h0m140 52h0m-143-64h0m152 81h0m-87 55h0m-125 65h0m46-172h0m176-6h0m-210 159h0m78-39h0m-57-73h0m69-162h0m117 194h0m-111 9h0m18-104h0m64-72h0m-140 201h0m46-183h0m167 144h0m-123 35h0m-72-93h0m38 174h0m91-215h0m16-25h0m-112 78h0m85 83h0m3 67h0m47-107h0m-267-128h0m-11 197h0m294-27h0m-27-5h0m-130-7h0m-62-9h0m-35 79h0m229-121h0m-268 50h0m254 0h0m-2-21h0m-229-64h0m25 62h0m34 105h0m8-129h0m154 108h0m-164-232h0m203 126h0m-28 121h0m-210-15h0m81-93h0m-74 85h0m186-146h0m-232-37h0m215-27h0m-188 9h0m-26 33h0m55 53h0m168 88h0m-107 92h0m162-168h0m-72-123h0m-66 107h0m50-40h0m-74-52h0m-149 83h0m202 30h0m16-119h0m57 105h0m-1-12h0m-132-88h0m103 52h0m52 28h0m5 4h0m-192 29h0m81-44h0m52 11h0m-106-98h0m32 277h0m-117-113h0m82 24h0m46 48h0m-32-108h0m86 16h0m-182-101h0m25-20h0m113-42h0m-46 292h0m-67-164h0m18-17h0m62 129h0m62-153h0m-176 144h0m178-62h0m49-22h0m-119-4h0m-70 12h0m116-5h0m-161 31h0m234 68h0m-230-183h0m3 197h0m247-236h0m26 36h0m-256 39h0m54 122h0m50-7h0m-80-163h0m175 173h0m-241-163h0m97-52h0m-16 69h0m223 14h0m-38 13h0m-99-5h0m127 81h0m17-17h0m-52-37h0m-77-84h0m63 165h0m-114-68h0m161-18h0m-17-97h0m5 73h0m-192-68h0m-7 249h0m126-75h0m-184-4h0m54-93h0m36 131h0m-60-95h0m-47 74h0m180 9h0m123-126h0m-180 8h0m78 158h0m28-255h0m-101 112h0m-111-59h0m190 44h0m15 134h0m-15-111h0m-59 108h0m67-150h0m-37-60h0m36 256h0m-8-146h0m-179-32h0m242 66h0m-66-29h0m-6 122h0m-10-277h0m75 110h0m-155 18h0m164 8h0m-156-93h0m-102 174h0m257-129h0m-197 147h0m-28 55h0m74-229h0m139-3h0m-191 1h0m-30 19h0m51 124h0m56 70h0m-45-203h0m57-46h0m66 244h0m-164-74h0m230-79h0m23 1h0m-206-1h0m191 100h0m-39-119h0m-137-73h0m143 189h0m-91 112h0m-100-174h0m140 116h0m90-52h0m-290 49h0m40-171h0m-47 115h0m173 106h0m-189-146h0m210 128h0m-153-89h0m33-10h0m177-28h0m50-6h0m-177-153h0m84-5h0m-67 281h0m158-125h0m-72-115h0m-227 108h0m232 118h0m-118-33h0m-51 51h0m23 7h0m-102-153h0m210 81h0m-54-9h0m99 36h0m-128 45h0m-54-142h0m134 164h0m12-155h0m-162-49h0m60 139h0m-20-64h0m172-23h0m-241 77h0m-1-178h0m97 147h0m57-224h0m-191 140h0m255 9h0m-150-66h0m207 158h0m12-69h0m-305-9h0m163-58h0m-173 57h0m305 29h0m-144 24h0m-121-66h0m94 149h0m18-239h0m-144 62h0m107 214h0m119-180h0m-136 54h0m-58-42h0m163-157h0m-198 177h0m218-131h0m-32-13h0m6-33h0m-75 315h0m34-4h0m-161-141h0m86-71h0m-13-34h0m41-20h0m-50-5h0m84 217h0m-33-248h0m-14 230h0m153-124h0m-175 52h0m214-73h0m-90 17h0m53 85h0m-202 57h0m215-115h0m-239 44h0m90-172h0m137 229h0m-136-204h0m-55 59h0m232 135h0m-223-148h0m29-47h0m-5 182h0m56-1h0m-146-45h0m73-70h0m220 76h0m-244-19h0m-51 1h0m121-158h0m30 274h0m-103-7h0m-36-65h0m-17-96h0m264 152h0m-107 15h0m-41-128h0m96 24h0m-117 136h0m7-56h0m-39-10h0m120-85h0m-93 33h0m178 100h0m-40 22h0m-58-89h0m-79 78h0m1-49h0m79-1h0m18-115h0m-126-20h0m-24-38h0m110 201h0m-64-168h0m121 152h0m-110-110h0m195-56h0m-57 76h0m24-1h0m24 31h0m-9-61h0m-35 159h0m32-121h0m-21-30h0m-258-26h0m60 94h0m111-111h0m-37 15h0m-94 96h0m110 102h0m-37-183h0m197 27h0m-202 67h0m58-210h0m86 185h0m-11-192h0m-95 33h0m36 111h0m-82-110h0m6 6h0m96 6h0m-4 88h0m-190 4h0m137-144h0m114 171h0m16 84h0m-185-136h0m185-61h0m-227-18h0m158 95h0m88 34h0m-126-105h0m-18 237h0m-51-33h0m169 1h0m-177-67h0m46 2h0m-45 52h0m-31 19h0m-32-85h0m73 84h0m172-216h0m-180 176h0m67-83h0m-9-15h0m-129-73h0m194 172h0m79-15h0m-173-10h0m-27-134h0m27-19h0m78 202h0m-86-121h0m140 61h0m-187-111h0m85-48h0m111 183h0m-176-157h0m171 101h0m-221-106h0m50 0h0m82 159h0m-120-157h0m188-56h0m-174 240h0m32-79h0m89 0h0m-98 15h0m60 56h0m-39-155h0m8 145h0m-38 34h0m123-187h0m-73-34h0m149-4h0m-16 143h0m-119-41h0m42 135h0m119-149h0m-64 117h0m-111-67h0m205-55h0m-106 6h0m-91 139h0m17-193h0m105-16h0m-181 77h0m-60-52h0m152-26h0m98 97h0m23 20h0m-147 69h0m99-107h0m-19 102h0m-164-9h0m266-148h0m-30-7h0m-275 8h0m10 173h0m134-141h0m-56-78h0m-23 16h0m225 89h0m15 65h0m-139-155h0m-156 10h0m152 27h0m-156 55h0m151 21h0m104 89h0m-22-228h0m-71-12h0m-42-17h0m50 192h0m57 110h0m-18-73h0m-145-128h0m88 57h0m67-140h0m-139 166h0m43-132h0m-91 108h0m166 39h0m94-24h0m-232-125h0m-57 98h0m114-94h0m80 214h0m-4-180h0m-193 80h0m162 101h0m-125-175h0m148-58h0m-137 119h0m95 164h0m-111-196h0m232 36h0m-150 155h0m94-195h0m-149 187h0m127 0h0m4-136h0m0 97h0m20 37h0m42-217h0m-86-71h0m-162 126h0m14-29h0" fill="none" stroke="#1204f7" stroke-width="9.6" stroke-linecap="round"/>
<path d="M1325.9 637C1326.1 628.5 1326.1 621.6 1327.2 616.5C1328.3 611.4 1329.6 609.1 1332.4 606.2C1335.2 603.3 1338.1 600.7 1343.9 599C1349.7 597.3 1356.7 596.4 1367 595.9C1377.3 595.4 1394.4 595.5 1405.5 595.9C1416.6 596.2 1425.6 596.5 1433.7 598C1441.8 599.5 1447.9 601.4 1454.3 604.9C1460.7 608.4 1467.3 613.2 1472.2 619C1477.1 624.8 1481 631.5 1483.8 639.6C1486.6 647.7 1488.3 658.8 1488.9 667.8C1489.5 676.8 1489.1 685 1487.6 693.5C1486.1 702 1483.3 711.4 1479.9 719.1C1476.5 726.8 1472.2 734.1 1467.1 739.7C1462 745.3 1456.4 749.4 1449.1 752.5C1441.8 755.6 1432.9 757.2 1423.5 758.1C1414.1 759 1403 758.6 1392.7 758.1C1382.4 757.6 1370.5 757.3 1361.9 755.1C1353.3 752.9 1346.4 749.1 1341.3 744.8C1336.2 740.5 1333.4 736.2 1331.1 729.4C1328.8 722.5 1328.1 714 1327.2 703.7C1326.3 693.4 1326.1 678.9 1325.9 667.8C1325.7 656.7 1325.7 645.5 1325.9 637Z" fill="none" stroke="#f18422" stroke-width="5.7"/>
<path d="M1253.7 859.1v-2.8M1253.7 499.8v2.8M1270.9 859.1v-2.8M1270.9 499.8v2.8M1288.2 859.1v-2.8M1288.2 499.8v2.8M1305.4 859.1v-2.8M1305.4 499.8v2.8M1339.9 859.1v-2.8M1339.9 499.8v2.8M1357.2 859.1v-2.8M1357.2 499.8v2.8M1374.4 859.1v-2.8M1374.4 499.8v2.8M1391.7 859.1v-2.8M1391.7 499.8v2.8M1426.2 859.1v-2.8M1426.2 499.8v2.8M1443.4 859.1v-2.8M1443.4 499.8v2.8M1460.7 859.1v-2.8M1460.7 499.8v2.8M1477.9 859.1v-2.8M1477.9 499.8v2.8M1512.4 859.1v-2.8M1512.4 499.8v2.8M1529.7 859.1v-2.8M1529.7 499.8v2.8M1546.9 859.1v-2.8M1546.9 499.8v2.8M1564.2 859.1v-2.8M1564.2 499.8v2.8M1229.4 835.1h2.8M1588.9 835.1h-2.8M1229.4 817.8h2.8M1588.9 817.8h-2.8M1229.4 800.6h2.8M1588.9 800.6h-2.8M1229.4 783.3h2.8M1588.9 783.3h-2.8M1229.4 748.7h2.8M1588.9 748.7h-2.8M1229.4 731.4h2.8M1588.9 731.4h-2.8M1229.4 714.2h2.8M1588.9 714.2h-2.8M1229.4 696.9h2.8M1588.9 696.9h-2.8M1229.4 662.3h2.8M1588.9 662.3h-2.8M1229.4 645h2.8M1588.9 645h-2.8M1229.4 627.8h2.8M1588.9 627.8h-2.8M1229.4 610.5h2.8M1588.9 610.5h-2.8M1229.4 575.9h2.8M1588.9 575.9h-2.8M1229.4 558.6h2.8M1588.9 558.6h-2.8M1229.4 541.4h2.8M1588.9 541.4h-2.8M1229.4 524.1h2.8M1588.9 524.1h-2.8M1236.4 859.1v-5M1236.4 499.8v5M1322.7 859.1v-5M1322.7 499.8v5M1408.9 859.1v-5M1408.9 499.8v5M1495.2 859.1v-5M1495.2 499.8v5M1581.4 859.1v-5M1581.4 499.8v5M1229.4 852.4h5M1588.9 852.4h-5M1229.4 766h5M1588.9 766h-5M1229.4 679.6h5M1588.9 679.6h-5M1229.4 593.2h5M1588.9 593.2h-5M1229.4 506.8h5M1588.9 506.8h-5" stroke="#505050" stroke-width="0.9" fill="none"/>
<rect x="1229.4" y="499.8" width="359.5" height="359.3" fill="none" stroke="#505050" stroke-width="1"/>
<text x="1236.4" y="882.1" font-size="21.6" text-anchor="middle">−<tspan dx="2.6">20</tspan></text>
<text x="1322.7" y="882.1" font-size="21.6" text-anchor="middle">−<tspan dx="2.6">10</tspan></text>
<text x="1408.9" y="882.1" font-size="21.6" text-anchor="middle">0</text>
<text x="1495.2" y="882.1" font-size="21.6" text-anchor="middle">10</text>
<text x="1581.4" y="882.1" font-size="21.6" text-anchor="middle">20</text>
<text x="1223.9" y="858.9" font-size="21.6" text-anchor="end">−<tspan dx="2.6">20</tspan></text>
<text x="1223.9" y="772.5" font-size="21.6" text-anchor="end">−<tspan dx="2.6">10</tspan></text>
<text x="1223.9" y="686.1" font-size="21.6" text-anchor="end">0</text>
<text x="1223.9" y="599.7" font-size="21.6" text-anchor="end">10</text>
<text x="1223.9" y="513.3" font-size="21.6" text-anchor="end">20</text>
<text x="1408.3" y="915.5" font-size="22.5" font-style="italic" text-anchor="middle">F<tspan font-size="16.2" dy="5">a</tspan></text>
<text transform="translate(1170.8 681) rotate(-90)" font-size="22.5" font-style="italic" text-anchor="middle">F<tspan font-size="16.2" dy="5">b</tspan></text>
<text x="374.5" y="483.6" font-size="24.5" text-anchor="middle" textLength="460.5" lengthAdjust="spacingAndGlyphs">Thermodynamic constraint on expressivity</text>
<text x="87.2" y="525.5" font-size="37" letter-spacing="1.2">D)</text>
<path d="M171.5 553.5C175.4 551.8 186.1 546.5 195 543C203.9 539.5 215 535.5 225 532.5C235 529.5 243.6 527 255 525C266.4 523 286.9 521.1 293.3 520.3" fill="none" stroke="#f5150f" stroke-width="6.5"/>
<path d="M555.2 781.8C554.9 784 554.4 789.5 553.6 795C552.8 800.5 552.4 806.6 550.6 814.9C548.9 823.2 546 835 543.1 844.9C540.2 854.8 536.8 864.6 533 874C529.2 883.4 522.6 896.5 520.5 901" fill="none" stroke="#f5150f" stroke-width="6.5"/>
<path d="M175.5 519.8H300" stroke="#000" stroke-width="6" stroke-dasharray="4.8 5.1" fill="none"/>
<path d="M553.8 783V901" stroke="#000" stroke-width="6" stroke-dasharray="4.8 5.14" stroke-dashoffset="-4" fill="none"/>
<path d="M289.5 520.1H293.5" stroke="#f5150f" stroke-width="6.5"/>
<path d="M555.2 781V785.5" stroke="#f5150f" stroke-width="6.5"/>
<path d="M293.3 520.3C297.8 520.5 311.2 520.5 320 521.3C328.8 522 336.4 522.8 346.3 524.8C356.2 526.8 368.4 529.5 379.5 533.1C390.6 536.7 401.6 541.1 412.6 546.4C423.7 551.6 434.8 557.4 445.8 564.6C456.9 571.8 467.8 579.3 478.9 589.5C489.9 599.7 503.2 614.3 512.1 625.9C521 637.5 526.5 647.5 532 659.1C537.5 670.7 541.8 682.3 545.3 695.6C548.8 708.9 551.4 724.3 553 738.7C554.6 753.1 554.8 774.6 555.2 781.8" fill="none" stroke="#000" stroke-width="6.5"/>
<path d="M170.8 492.8V903.7M169 901.9H580" stroke="#000" stroke-width="3.7" fill="none"/>
<path d="M335.8 594.5C338 572 350 558 368.5 550.6" fill="none" stroke="#231f20" stroke-width="3.3"/>
<path d="M381 545.5L366.2 559.5L367.7 551L360.7 546.1Z" fill="#231f20"/>
<path d="M220.6 707C188 655 186 600 213.6 556" fill="none" stroke="#f5150f" stroke-width="3.3"/>
<path d="M219 542L218.8 562.3L213.7 555.4L205.3 557Z" fill="#f5150f"/>
<path d="M362 840.4C395 868 455 890 514.7 863.6" fill="none" stroke="#f5150f" stroke-width="3.3"/>
<path d="M526.7 856.5L514 872.4L514.3 863.9L506.7 859.9Z" fill="#f5150f"/>
<text x="228" y="628.5" font-size="26.2" textLength="211.5" lengthAdjust="spacingAndGlyphs">Decision boundary</text>
<text x="225.8" y="662.7" font-size="33" font-family='"Liberation Serif", "DejaVu Serif", serif' textLength="230" lengthAdjust="spacingAndGlyphs"><tspan font-style="italic">π</tspan><tspan font-size="22" dy="6">1</tspan><tspan dy="-6">(</tspan><tspan font-style="italic">F</tspan><tspan font-size="22" font-style="italic" dy="6">a</tspan><tspan dy="-6">,</tspan><tspan font-style="italic" dx="5">F</tspan><tspan font-size="22" font-style="italic" dy="6">b</tspan><tspan dy="-6">) = 1/2</tspan></text>
<text x="206" y="746.6" font-size="26" fill="#f5150f" textLength="214" lengthAdjust="spacingAndGlyphs">Not allowed due to</text>
<text x="206" y="779.4" font-size="26" fill="#f5150f" textLength="299.7" lengthAdjust="spacingAndGlyphs">thermodynamic constraint</text>
<text x="206" y="810.7" font-size="26" fill="#f5150f" textLength="136.6" lengthAdjust="spacingAndGlyphs">on response</text>
<text x="350.5" y="811" font-size="33" fill="#f5150f" font-family='"Liberation Serif", "DejaVu Serif", serif' textLength="126.5" lengthAdjust="spacingAndGlyphs">∂<tspan font-style="italic">π</tspan><tspan font-size="22" font-style="italic" dy="6">k</tspan><tspan dy="-6">/∂</tspan><tspan font-style="italic">F</tspan><tspan font-size="22" font-style="italic" dy="6">ij</tspan></text>
<text x="374.6" y="929.3" font-size="22.5" font-style="italic" text-anchor="middle">F<tspan font-size="16.2" dy="5">a</tspan></text>
<text transform="translate(155.9 699) rotate(-90)" font-size="22.5" font-style="italic" text-anchor="middle">F<tspan font-size="16.2" dy="5">b</tspan></text>
<text x="899.5" y="483.6" font-size="24.5" text-anchor="middle" textLength="419" lengthAdjust="spacingAndGlyphs">Input multiplicity (M &gt; 1) allows turning</text>
<text x="632.3" y="528.9" font-size="37" letter-spacing="1.5">E)</text>
<path d="M733.6 509.2V657.3H1101.5M740.1 657.3v-4.8M757.9 657.3v-2.8M775.6 657.3v-2.8M793.4 657.3v-2.8M811.1 657.3v-2.8M828.9 657.3v-4.8M846.7 657.3v-2.8M864.4 657.3v-2.8M882.2 657.3v-2.8M899.9 657.3v-2.8M917.7 657.3v-4.8M935.5 657.3v-2.8M953.2 657.3v-2.8M971 657.3v-2.8M988.7 657.3v-2.8M1006.5 657.3v-4.8M1024.3 657.3v-2.8M1042 657.3v-2.8M1059.8 657.3v-2.8M1077.5 657.3v-2.8M1095.3 657.3v-4.8M733.6 657.9h1.6M733.6 651.7h1.6M733.6 645.5h3.2M733.6 639.3h1.6M733.6 633.1h1.6M733.6 627h1.6M733.6 620.8h3.2M733.6 614.6h1.6M733.6 608.5h1.6M733.6 602.3h1.6M733.6 596.1h3.2M733.6 589.9h1.6M733.6 583.8h1.6M733.6 577.6h1.6M733.6 571.4h3.2M733.6 565.2h1.6M733.6 559h1.6M733.6 552.9h1.6M733.6 546.7h3.2M733.6 540.5h1.6M733.6 534.4h1.6M733.6 528.2h1.6M733.6 522h3.2M733.6 515.8h1.6M733.6 509.6h1.6" fill="none" stroke="#3a3a3a" stroke-width="1.1"/>
<text x="740.1" y="680.7" font-size="21.6" text-anchor="middle">−<tspan dx="2.6">20</tspan></text>
<text x="828.9" y="680.7" font-size="21.6" text-anchor="middle">−<tspan dx="2.6">10</tspan></text>
<text x="917.7" y="680.7" font-size="21.6" text-anchor="middle">0</text>
<text x="1006.5" y="680.7" font-size="21.6" text-anchor="middle">10</text>
<text x="1095.3" y="680.7" font-size="21.6" text-anchor="middle">20</text>
<text x="729" y="653.1" font-size="21.6" text-anchor="end">0.0</text>
<text x="729" y="628.4" font-size="21.6" text-anchor="end">0.2</text>
<text x="729" y="603.7" font-size="21.6" text-anchor="end">0.4</text>
<text x="729" y="579" font-size="21.6" text-anchor="end">0.6</text>
<text x="729" y="554.3" font-size="21.6" text-anchor="end">0.8</text>
<text x="729" y="529.6" font-size="21.6" text-anchor="end">1.0</text>
<path d="M740.1 641.8L742.3 641.8L744.5 641.8L746.8 641.8L749 641.8L751.2 641.8L753.4 641.8L755.6 641.8L757.9 641.8L760.1 641.8L762.3 641.8L764.5 641.8L766.7 641.8L769 641.8L771.2 641.8L773.4 641.8L775.6 641.8L777.8 641.8L780.1 641.8L782.3 641.8L784.5 641.8L786.7 641.8L788.9 641.8L791.2 641.8L793.4 641.8L795.6 641.8L797.8 641.8L800 641.8L802.3 641.8L804.5 641.8L806.7 641.8L808.9 641.8L811.1 641.8L813.4 641.8L815.6 641.8L817.8 641.8L820 641.8L822.2 641.8L824.5 641.8L826.7 641.8L828.9 641.8L831.1 641.8L833.3 641.8L835.6 641.8L837.8 641.8L840 641.8L842.2 641.8L844.4 641.8L846.7 641.7L848.9 641.7L851.1 641.7L853.3 641.7L855.5 641.6L857.8 641.6L860 641.6L862.2 641.5L864.4 641.4L866.6 641.3L868.9 641.2L871.1 641L873.3 640.8L875.5 640.5L877.7 640.2L880 639.8L882.2 639.3L884.4 638.6L886.6 637.8L888.8 636.8L891.1 635.5L893.3 633.9L895.5 632L897.7 629.6L899.9 626.8L902.2 623.4L904.4 619.4L906.6 614.7L908.8 609.5L911 603.6L913.3 597.3L915.5 590.6L917.7 583.8L919.9 576.9L922.1 570.2L924.4 563.9L926.6 558L928.8 552.8L931 548.1L933.2 544.1L935.5 540.7L937.7 537.9L939.9 535.5L942.1 533.6L944.3 532L946.6 530.7L948.8 529.7L951 528.9L953.2 528.2L955.4 527.7L957.7 527.3L959.9 527L962.1 526.7L964.3 526.5L966.5 526.3L968.8 526.2L971 526.1L973.2 526L975.4 525.9L977.6 525.9L979.9 525.9L982.1 525.8L984.3 525.8L986.5 525.8L988.7 525.8L991 525.7L993.2 525.7L995.4 525.7L997.6 525.7L999.8 525.7L1002.1 525.7L1004.3 525.7L1006.5 525.7L1008.7 525.7L1010.9 525.7L1013.2 525.7L1015.4 525.7L1017.6 525.7L1019.8 525.7L1022 525.7L1024.3 525.7L1026.5 525.7L1028.7 525.7L1030.9 525.7L1033.1 525.7L1035.4 525.7L1037.6 525.7L1039.8 525.7L1042 525.7L1044.2 525.7L1046.5 525.7L1048.7 525.7L1050.9 525.7L1053.1 525.7L1055.3 525.7L1057.6 525.7L1059.8 525.7L1062 525.7L1064.2 525.7L1066.4 525.7L1068.7 525.7L1070.9 525.7L1073.1 525.7L1075.3 525.7L1077.5 525.7L1079.8 525.7L1082 525.7L1084.2 525.7L1086.4 525.7L1088.6 525.7L1090.9 525.7L1093.1 525.7L1095.3 525.7" fill="none" stroke="#1a0df2" stroke-width="2.6" stroke-linejoin="round"/>
<text x="759.8" y="545.4" font-size="24">M = 1</text>
<text x="916.8" y="712.6" font-size="22.5" font-style="italic" text-anchor="middle">F<tspan font-size="16.2" dy="5">a</tspan></text>
<text transform="translate(684.3 584.5) rotate(-90)" font-size="22.5" font-style="italic" text-anchor="middle">π<tspan font-size="15" font-style="normal" dy="4" dx="-1">1</tspan></text>
<path d="M733.8 724.6V873H1101.5M740.1 873v-4.8M757.9 873v-2.8M775.6 873v-2.8M793.4 873v-2.8M811.1 873v-2.8M828.9 873v-4.8M846.7 873v-2.8M864.4 873v-2.8M882.2 873v-2.8M899.9 873v-2.8M917.7 873v-4.8M935.5 873v-2.8M953.2 873v-2.8M971 873v-2.8M988.7 873v-2.8M1006.5 873v-4.8M1024.3 873v-2.8M1042 873v-2.8M1059.8 873v-2.8M1077.5 873v-2.8M1095.3 873v-4.8M733.8 872.5h1.6M733.8 866.3h1.6M733.8 860.2h3.2M733.8 854.1h1.6M733.8 848h1.6M733.8 841.8h1.6M733.8 835.7h3.2M733.8 829.6h1.6M733.8 823.5h1.6M733.8 817.3h1.6M733.8 811.2h3.2M733.8 805.1h1.6M733.8 799h1.6M733.8 792.8h1.6M733.8 786.7h3.2M733.8 780.6h1.6M733.8 774.5h1.6M733.8 768.3h1.6M733.8 762.2h3.2M733.8 756.1h1.6M733.8 750h1.6M733.8 743.8h1.6M733.8 737.7h3.2M733.8 731.6h1.6M733.8 725.5h1.6" fill="none" stroke="#3a3a3a" stroke-width="1.1"/>
<text x="740.1" y="896.4" font-size="21.6" text-anchor="middle">−<tspan dx="2.6">20</tspan></text>
<text x="828.9" y="896.4" font-size="21.6" text-anchor="middle">−<tspan dx="2.6">10</tspan></text>
<text x="917.7" y="896.4" font-size="21.6" text-anchor="middle">0</text>
<text x="1006.5" y="896.4" font-size="21.6" text-anchor="middle">10</text>
<text x="1095.3" y="896.4" font-size="21.6" text-anchor="middle">20</text>
<text x="729.2" y="867.8" font-size="21.6" text-anchor="end">0.0</text>
<text x="729.2" y="843.3" font-size="21.6" text-anchor="end">0.2</text>
<text x="729.2" y="818.8" font-size="21.6" text-anchor="end">0.4</text>
<text x="729.2" y="794.3" font-size="21.6" text-anchor="end">0.6</text>
<text x="729.2" y="769.8" font-size="21.6" text-anchor="end">0.8</text>
<text x="729.2" y="745.3" font-size="21.6" text-anchor="end">1.0</text>
<path d="M739.9 857.8C744.6 857.6 760.1 857 768 856.4C775.9 855.8 780.7 855.4 787 854C793.3 852.6 800.9 850.4 806 848.3C811.1 846.2 813.6 844.3 817.4 841.6C821.2 838.9 825 835.9 828.8 832.1C832.6 828.3 836.4 823.2 840.2 818.8C844 814.4 848.1 809.1 851.6 805.5C855.1 801.9 858.4 798.9 861.1 797C863.8 795.1 865.3 794.3 867.8 794.1C870.3 793.9 873 794.1 876.3 796C879.6 797.9 883.6 802 887.7 805.5C891.8 809 897.2 814.1 901 816.9C904.8 819.7 907.8 821.1 910.5 822.2C913.2 823.3 914.7 823.7 917.2 823.6C919.7 823.5 922.1 823.5 925.7 821.7C929.3 820 934.6 816.1 939 813.1C943.4 810.1 947.7 806 952.3 803.6C956.9 801.2 962.5 799.2 966.6 798.9C970.7 798.6 973.4 799.7 977 801.7C980.6 803.8 984.6 807.6 988.4 811.2C992.2 814.9 996 819.5 999.8 823.6C1003.6 827.7 1007.4 832.3 1011.2 835.9C1015 839.5 1018.8 842.7 1022.6 845.4C1026.4 848.1 1029.6 850.1 1034 852.1C1038.4 854.1 1043.5 855.9 1049.2 857.2C1054.9 858.5 1060.4 859.1 1068.2 859.7C1076 860.3 1091.2 860.6 1095.8 860.8" fill="none" stroke="#1a0df2" stroke-width="2.6"/>
<path d="M867.8 785.1L870 791.7L876.9 791.7L871.3 795.8L873.4 802.5L867.8 798.4L862.2 802.5L864.3 795.8L858.7 791.7L865.6 791.7Z" fill="#ee7a82"/>
<path d="M915.8 813.1L918 819.7L924.9 819.7L919.3 823.8L921.4 830.5L915.8 826.4L910.2 830.5L912.3 823.8L906.7 819.7L913.6 819.7Z" fill="#ee7a82"/>
<path d="M966.6 789.7L968.8 796.3L975.7 796.3L970.1 800.4L972.2 807.1L966.6 803L961 807.1L963.1 800.4L957.5 796.3L964.4 796.3Z" fill="#ee7a82"/>
<text x="759.8" y="760.5" font-size="24">M = 2</text>
<text x="916.8" y="929.8" font-size="22.5" font-style="italic" text-anchor="middle">F<tspan font-size="16.2" dy="5">a</tspan></text>
<text transform="translate(684.3 799) rotate(-90)" font-size="22.5" font-style="italic" text-anchor="middle">π<tspan font-size="15" font-style="normal" dy="4" dx="-1">1</tspan></text>
<text x="1605" y="168" font-size="37">G)</text>
<text x="1830.5" y="151.3" font-size="24.5" text-anchor="middle" textLength="204.5" lengthAdjust="spacingAndGlyphs">Synthetic chemical</text>
<text x="1827" y="180" font-size="24.5" text-anchor="middle" textLength="309" lengthAdjust="spacingAndGlyphs">band-pass response (M = 2)</text>
<path d="M1710.5 268.3C1710 270.8 1707.7 278.2 1707.3 283.1C1707 287.9 1707.3 293.9 1708.5 297.5C1709.6 301.1 1711.8 303.9 1714.1 304.7C1716.3 305.5 1719.3 304.1 1722.1 302.3C1724.9 300.6 1729.4 295.6 1730.9 294.3" fill="none" stroke="#968277" stroke-width="2"/>
<use href="#sD" transform="translate(0 0)" fill="#6f6556"/>
<use href="#sM" transform="translate(0 0)" fill="#968277"/>
<use href="#sT" transform="translate(0 0)" fill="#bdb398"/>
<path d="M1711.3 412.6C1713 414.9 1717 422 1721.7 426.2C1726.4 430.5 1732.9 435.5 1739.3 438.3C1745.8 441 1753.8 442.2 1760.2 442.6C1766.6 443 1772.6 441.8 1777.8 440.7C1783 439.5 1789.2 436.4 1791.5 435.5" fill="none" stroke="#968277" stroke-width="2"/>
<use href="#sD" transform="translate(-7.6 143.5)" fill="#6f6556"/>
<use href="#sM" transform="translate(67 144)" fill="#968277"/>
<use href="#sT" transform="translate(6 139)" fill="#bdb398"/>
<circle cx="1696.8" cy="387" r="8.4" fill="#56b9ee"/>
<path d="M1704.9 571C1704.9 573.4 1703.7 580.8 1705.3 585.5C1706.9 590.2 1710.2 595.8 1714.5 599.1C1718.8 602.4 1726.4 604.6 1731.3 605C1736.3 605.4 1740.8 603.3 1744.2 601.5C1747.5 599.7 1750.2 595.5 1751.4 594.3" fill="none" stroke="#968277" stroke-width="2"/>
<use href="#sD" transform="translate(-7.6 302.7)" fill="#6f6556"/>
<use href="#sM" transform="translate(26 302.8)" fill="#968277"/>
<use href="#sT" transform="translate(6 298.5)" fill="#bdb398"/>
<circle cx="1696.8" cy="546.2" r="8.4" fill="#56b9ee"/>
<circle cx="1886.4" cy="519.4" r="8.6" fill="#56b9ee" stroke="#fff" stroke-width="2.2"/>
<circle cx="1886.4" cy="519.4" r="8.4" fill="#56b9ee"/>
<g transform="translate(0 0)">
<path d="M1780.1 348.4C1768 335 1766 318 1776.1 307.9" fill="none" stroke="#231f20" stroke-width="2.4"/>
<path d="M1782.1 297.8L1779.7 314.6L1775.8 308.3L1768.5 308Z" fill="#231f20"/>
<path d="M1786.9 297C1799 310 1801 326 1792.9 337.1" fill="none" stroke="#56b9ee" stroke-width="2.4"/>
<path d="M1785.3 348L1789 331.4L1792.3 338L1799.6 338.8Z" fill="#56b9ee"/>
</g>
<g transform="translate(1.6 150)">
<path d="M1780.1 348.4C1768 335 1766 318 1776.1 307.9" fill="none" stroke="#231f20" stroke-width="2.4"/>
<path d="M1782.1 297.8L1779.7 314.6L1775.8 308.3L1768.5 308Z" fill="#231f20"/>
<path d="M1786.9 297C1799 310 1801 326 1792.9 337.1" fill="none" stroke="#56b9ee" stroke-width="2.4"/>
<path d="M1785.3 348L1789 331.4L1792.3 338L1799.6 338.8Z" fill="#56b9ee"/>
</g>
<text font-size="23.5" text-anchor="middle" font-style="italic" textLength="110" lengthAdjust="spacingAndGlyphs" transform="translate(1654.5 252.5) rotate(-90)">Off state 1</text>
<text font-size="23.5" text-anchor="middle" font-style="italic" textLength="89.5" lengthAdjust="spacingAndGlyphs" transform="translate(1654.5 390.7) rotate(-90)">On state</text>
<text font-size="23.5" text-anchor="middle" font-style="italic" textLength="112" lengthAdjust="spacingAndGlyphs" transform="translate(1654.5 550) rotate(-90)">Off state 2</text>
<text x="1909.8" y="278.9" font-size="24.5">High-</text>
<text x="1909.8" y="308.7" font-size="24.5">affinity</text>
<text x="1909.8" y="338.5" font-size="24.5">binding</text>
<text x="1909.8" y="368.3" font-size="24.5">turns on</text>
<text x="1909.8" y="431.3" font-size="24.5">Low-</text>
<text x="1909.8" y="460.6" font-size="24.5">affinity</text>
<text x="1909.8" y="489.9" font-size="24.5">binding</text>
<text x="1909.8" y="519.2" font-size="24.5">turns off</text>
<path d="M1666.7 645.3V785.3H1994.3" fill="none" stroke="#231f20" stroke-width="1.2"/>
<path d="M1672.4 778.1L1674 778.1L1675.6 778.1L1677.2 778.1L1678.7 778.1L1680.3 778.1L1681.9 778.1L1683.5 778.1L1685.1 778.1L1686.7 778.1L1688.3 778.1L1689.9 778.1L1691.4 778.1L1693 778.1L1694.6 778.1L1696.2 778.1L1697.8 778.1L1699.4 778.1L1701 778.1L1702.6 778.1L1704.1 778.1L1705.7 778.1L1707.3 778.1L1708.9 778.1L1710.5 778.1L1712.1 778L1713.7 778L1715.2 778L1716.8 778L1718.4 778L1720 777.9L1721.6 777.9L1723.2 777.8L1724.8 777.8L1726.4 777.7L1727.9 777.6L1729.5 777.5L1731.1 777.3L1732.7 777.1L1734.3 776.9L1735.9 776.6L1737.5 776.2L1739.1 775.8L1740.6 775.2L1742.2 774.5L1743.8 773.6L1745.4 772.6L1747 771.3L1748.6 769.8L1750.2 767.9L1751.7 765.6L1753.3 762.9L1754.9 759.7L1756.5 755.9L1758.1 751.6L1759.7 746.7L1761.3 741.3L1762.9 735.3L1764.4 728.9L1766 722.1L1767.6 715.2L1769.2 708.3L1770.8 701.6L1772.4 695.2L1774 689.2L1775.6 683.8L1777.1 678.9L1778.7 674.6L1780.3 670.9L1781.9 667.7L1783.5 665L1785.1 662.7L1786.7 660.8L1788.2 659.3L1789.8 658L1791.4 656.9L1793 656.1L1794.6 655.4L1796.2 654.8L1797.8 654.4L1799.4 654L1800.9 653.7L1802.5 653.5L1804.1 653.3L1805.7 653.1L1807.3 653L1808.9 652.9L1810.5 652.8L1812.1 652.8L1813.6 652.7L1815.2 652.7L1816.8 652.6L1818.4 652.6L1820 652.6L1821.6 652.6L1823.2 652.6L1824.7 652.6L1826.3 652.5L1827.9 652.5L1829.5 652.5L1831.1 652.5L1832.7 652.5L1834.3 652.5L1835.9 652.5L1837.4 652.5L1839 652.6L1840.6 652.6L1842.2 652.6L1843.8 652.6L1845.4 652.6L1847 652.7L1848.5 652.7L1850.1 652.7L1851.7 652.8L1853.3 652.9L1854.9 653L1856.5 653.1L1858.1 653.2L1859.7 653.4L1861.2 653.6L1862.8 653.9L1864.4 654.2L1866 654.7L1867.6 655.2L1869.2 655.8L1870.8 656.6L1872.4 657.6L1873.9 658.7L1875.5 660.2L1877.1 661.9L1878.7 663.9L1880.3 666.3L1881.9 669.2L1883.5 672.5L1885 676.2L1886.6 680.5L1888.2 685.1L1889.8 690.1L1891.4 695.5L1893 700.9L1894.6 706.5L1896.2 711.9L1897.7 717.1L1899.3 722.1L1900.9 726.6L1902.5 730.6L1904.1 734.2L1905.7 737.4L1907.3 740.1L1908.9 742.3L1910.4 744.3L1912 745.9L1913.6 747.2L1915.2 748.3L1916.8 749.2L1918.4 749.9L1920 750.5L1921.5 751L1923.1 751.4L1924.7 751.7L1926.3 752L1927.9 752.2L1929.5 752.3L1931.1 752.5L1932.7 752.6L1934.2 752.7L1935.8 752.7L1937.4 752.8L1939 752.8L1940.6 752.9L1942.2 752.9L1943.8 752.9L1945.4 752.9L1946.9 752.9L1948.5 753L1950.1 753L1951.7 753L1953.3 753L1954.9 753L1956.5 753L1958 753L1959.6 753L1961.2 753L1962.8 753L1964.4 753L1966 753L1967.6 753L1969.2 753L1970.7 753L1972.3 753L1973.9 753L1975.5 753L1977.1 753L1978.7 753L1980.3 753L1981.9 753L1983.4 753L1985 753L1986.6 753L1988.2 753" fill="none" stroke="#000" stroke-width="2" stroke-linejoin="round"/>
<text x="1829.5" y="647.5" font-size="23.5" text-anchor="middle">On</text>
<text x="1687.6" y="772" font-size="23.5" textLength="50" lengthAdjust="spacingAndGlyphs">Off 1</text>
<text x="1928.7" y="746" font-size="23.5" textLength="51" lengthAdjust="spacingAndGlyphs">Off 2</text>
<text x="1794" y="810.6" font-size="23.5" textLength="51" lengthAdjust="spacingAndGlyphs">Drug</text>
<circle cx="1866" cy="805.7" r="11.5" fill="#56b9ee"/>
<text font-size="23.5" text-anchor="middle" textLength="144.6" lengthAdjust="spacingAndGlyphs" transform="translate(1655.7 709.5) rotate(-90)">Proportion on</text></svg>
</body></html>
